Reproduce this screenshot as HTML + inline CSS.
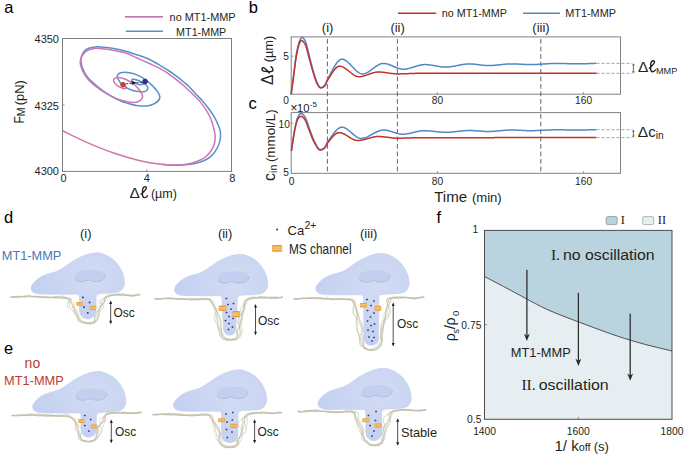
<!DOCTYPE html>
<html><head><meta charset="utf-8"><style>
html,body{margin:0;padding:0;background:#fff;}
svg{display:block;}
</style></head><body>
<svg width="685" height="454" viewBox="0 0 685 454">
<rect width="685" height="454" fill="#fff"/>
<text x="4.3" y="13.2" font-size="16.5" text-anchor="start" fill="#000" font-family='"Liberation Sans", sans-serif' >a</text>
<text x="248.8" y="13.2" font-size="16.5" text-anchor="start" fill="#000" font-family='"Liberation Sans", sans-serif' >b</text>
<text x="248.4" y="109.4" font-size="16.5" text-anchor="start" fill="#000" font-family='"Liberation Sans", sans-serif' >c</text>
<text x="4" y="223.3" font-size="16.5" text-anchor="start" fill="#000" font-family='"Liberation Sans", sans-serif' >d</text>
<text x="4" y="354.2" font-size="16.5" text-anchor="start" fill="#000" font-family='"Liberation Sans", sans-serif' >e</text>
<text x="436.4" y="223.3" font-size="16.5" text-anchor="start" fill="#000" font-family='"Liberation Sans", sans-serif' >f</text>
<rect x="62.5" y="38.5" width="169.0" height="132.9" fill="none" stroke="#808080" stroke-width="1"/>
<line x1="62.5" y1="104.95" x2="64.5" y2="104.95" stroke="#808080" stroke-width="0.8"/>
<line x1="146.9" y1="171.4" x2="146.9" y2="169.4" stroke="#808080" stroke-width="0.8"/>
<text x="59" y="42.9" font-size="11" text-anchor="end" fill="#231f20" font-family='"Liberation Sans", sans-serif' >4350</text>
<text x="59" y="109.6" font-size="11" text-anchor="end" fill="#231f20" font-family='"Liberation Sans", sans-serif' >4325</text>
<text x="59" y="174.7" font-size="11" text-anchor="end" fill="#231f20" font-family='"Liberation Sans", sans-serif' >4300</text>
<text x="63.6" y="182.2" font-size="11" text-anchor="middle" fill="#231f20" font-family='"Liberation Sans", sans-serif' >0</text>
<text x="146.9" y="182.2" font-size="11" text-anchor="middle" fill="#231f20" font-family='"Liberation Sans", sans-serif' >4</text>
<text x="232.2" y="182.2" font-size="11" text-anchor="middle" fill="#231f20" font-family='"Liberation Sans", sans-serif' >8</text>
<text x="129.6" y="197.6" font-size="15.5" text-anchor="start" fill="#231f20" font-family='"Liberation Sans", sans-serif' >Δ</text>
<path d="M141.09,194.06 C143.35,192.10 146.40,189.35 146.40,187.88 C146.40,186.99 145.81,186.60 145.12,186.60 C143.75,186.60 142.47,188.56 142.47,191.90 L142.47,194.85 C142.47,196.72 143.26,197.60 144.43,197.60 C145.51,197.60 146.59,196.91 147.48,195.83" fill="none" stroke="#231f20" stroke-width="1.35" stroke-linecap="round"/>
<text x="150.9" y="197.8" font-size="12.6" text-anchor="start" fill="#231f20" font-family='"Liberation Sans", sans-serif' >(µm)</text>
<text transform="translate(24.4,123.6) rotate(-90)" font-family='"Liberation Sans", sans-serif' fill="#231f20"><tspan font-size="15" textLength="7.3" lengthAdjust="spacingAndGlyphs">F</tspan><tspan font-size="10.5" dy="0.2" dx="0">M</tspan><tspan font-size="12.9" dy="-0.2" dx="2.3">(pN)</tspan></text>
<line x1="124.9" y1="16.9" x2="162.9" y2="16.9" stroke="#cc78b0" stroke-width="1.6"/>
<line x1="125.8" y1="31.2" x2="162.9" y2="31.2" stroke="#5b8fcc" stroke-width="1.6"/>
<text x="169.6" y="20.8" font-size="11" text-anchor="start" fill="#231f20" font-family='"Liberation Sans", sans-serif' textLength="66" lengthAdjust="spacingAndGlyphs">no MT1-MMP</text>
<text x="176.1" y="35.6" font-size="11" text-anchor="start" fill="#231f20" font-family='"Liberation Sans", sans-serif' textLength="50.2" lengthAdjust="spacingAndGlyphs">MT1-MMP</text>
<path d="M161.3,164.3 C166.85,165.05 168.85,165.25 173.3,165.3 C177.75,165.35 183.58,165.12 188,164.6 C192.42,164.08 196.47,163.22 199.8,162.2 C203.13,161.18 205.63,160.03 208,158.5 C210.37,156.97 212.3,155.08 214,153 C215.7,150.92 217.13,148.5 218.2,146 C219.27,143.5 220.07,140.5 220.4,138 C220.73,135.5 220.6,133.23 220.2,131 C219.8,128.77 219.02,126.98 218,124.6 C216.98,122.22 215.63,119.33 214.1,116.7 C212.57,114.07 210.72,111.43 208.8,108.8 C206.88,106.17 204.8,103.4 202.6,100.9 C200.4,98.4 197.77,96.08 195.6,93.8 C193.43,91.52 191.33,88.97 189.6,87.2 C187.87,85.43 187.4,85.05 185.2,83.2 C183,81.35 179.33,78.3 176.4,76.1 C173.47,73.9 170.53,71.9 167.6,70 C164.67,68.1 161.73,66.42 158.8,64.7 C155.87,62.98 153.55,61.32 150,59.7 C146.45,58.08 141.67,56.45 137.5,55 C133.33,53.55 129.17,52.12 125,51 C120.83,49.88 116.67,48.98 112.5,48.3 C108.33,47.62 102.95,47.12 100,46.9 C97.05,46.68 97.13,46.57 94.8,47 C92.47,47.43 88.3,47.63 86,49.5 C83.7,51.37 81.58,55.12 81,58.2 C80.42,61.28 81.3,64.68 82.5,68 C83.7,71.32 85.48,74.83 88.2,78.1 C90.92,81.37 95.17,84.7 98.8,87.6 C102.43,90.5 106.22,93.22 110,95.5 C113.78,97.78 118.57,100 121.5,101.3 C124.43,102.6 125.12,102.6 127.6,103.3 C130.08,104 133.17,105.07 136.4,105.5 C139.63,105.93 143.9,106.27 147,105.9 C150.1,105.53 152.87,104.62 155,103.3 C157.13,101.98 159.37,99.92 159.8,98 C160.23,96.08 158.85,93.87 157.6,91.8 C156.35,89.73 154.35,87.65 152.3,85.6 C150.25,83.55 147.95,81.33 145.3,79.5 C142.65,77.67 139.35,75.78 136.4,74.6 C133.45,73.42 130.23,72.7 127.6,72.4 C124.97,72.1 122.28,72.35 120.6,72.8 C118.92,73.25 118.02,74.28 117.5,75.1 C116.98,75.92 116.98,76.38 117.5,77.7 C118.02,79.02 119.2,81.38 120.6,83 C122,84.62 123.85,86.15 125.9,87.4 C127.95,88.65 130.55,89.77 132.9,90.5 C135.25,91.23 137.93,91.65 140,91.8 C142.07,91.95 143.98,91.92 145.3,91.4 C146.62,90.88 147.68,89.67 147.9,88.7 C148.12,87.73 147.48,86.58 146.6,85.6 C145.72,84.62 144.2,83.73 142.6,82.8 C141,81.87 138.6,80.58 137,80 C135.4,79.42 133.9,79.2 133,79.3 C132.1,79.4 131.32,80.02 131.6,80.6 C131.88,81.18 133.47,82.15 134.7,82.8 C135.93,83.45 137.62,84.27 139,84.5 C140.38,84.73 141.98,84.7 143,84.2 C144.02,83.7 144.75,81.95 145.1,81.5" fill="none" stroke="#5b8fcc" stroke-width="1.5"/>
<path d="M62.5,130.8 C66.55,132.73 78.62,138.82 86.8,142.4 C94.98,145.98 102.73,149.23 111.6,152.3 C120.47,155.37 131.72,158.8 140,160.8 C148.28,162.8 155.75,163.58 161.3,164.3 C166.85,165.02 168.85,165.15 173.3,165.1 C177.75,165.05 183.58,164.82 188,164 C192.42,163.18 196.8,161.45 199.8,160.2 C202.8,158.95 204.13,158.03 206,156.5 C207.87,154.97 209.62,153.08 211,151 C212.38,148.92 213.6,146.42 214.3,144 C215,141.58 215.22,138.83 215.2,136.5 C215.18,134.17 214.6,131.98 214.2,130 C213.8,128.02 213.4,126.52 212.8,124.6 C212.2,122.68 211.57,120.7 210.6,118.5 C209.63,116.3 208.62,114.05 207,111.4 C205.38,108.75 203.1,105.3 200.9,102.6 C198.7,99.9 195.68,97.1 193.8,95.2 C191.92,93.3 191.03,92.57 189.6,91.2 C188.17,89.83 187.4,88.92 185.2,87 C183,85.08 179.33,82.02 176.4,79.7 C173.47,77.38 170.53,75.08 167.6,73.1 C164.67,71.12 161.73,69.37 158.8,67.8 C155.87,66.23 153.55,65.3 150,63.7 C146.45,62.1 141.67,60.02 137.5,58.2 C133.33,56.38 129.17,54.13 125,52.8 C120.83,51.47 116.67,50.9 112.5,50.2 C108.33,49.5 102.95,48.92 100,48.6 C97.05,48.28 97.2,47.8 94.8,48.3 C92.4,48.8 88.02,49.5 85.6,51.6 C83.18,53.7 80.85,57.82 80.3,60.9 C79.75,63.98 80.98,67.02 82.3,70.1 C83.62,73.18 85.45,76.3 88.2,79.4 C90.95,82.5 95.05,85.95 98.8,88.7 C102.55,91.45 106.83,93.93 110.7,95.9 C114.57,97.87 118,99.42 122,100.5 C126,101.58 131.7,102.38 134.7,102.4 C137.7,102.42 138.68,101.48 140,100.6 C141.32,99.72 142.38,98.42 142.6,97.1 C142.82,95.78 142.18,94.32 141.3,92.7 C140.42,91.08 138.85,89.02 137.3,87.4 C135.75,85.78 133.9,84.32 132,83 C130.1,81.68 127.95,80.42 125.9,79.5 C123.85,78.58 121.47,77.73 119.7,77.5 C117.93,77.27 116.33,77.63 115.3,78.1 C114.27,78.57 113.35,79.2 113.5,80.3 C113.65,81.4 114.87,83.45 116.2,84.7 C117.53,85.95 119.95,87.15 121.5,87.8 C123.05,88.45 124.72,88.73 125.5,88.6 C126.28,88.47 126.62,87.67 126.2,87 C125.78,86.33 123.53,85 123,84.6" fill="none" stroke="#cc78b0" stroke-width="1.5"/>
<line x1="125.9" y1="83.9" x2="142.6" y2="82.1" stroke="#111" stroke-width="0.8" stroke-dasharray="2.2,1.3"/>
<path d="M131.2,81.1 L136.2,82.8 L131.4,84.9 L132.4,82.9 Z" fill="#111"/>
<circle cx="123" cy="84.6" r="2.7" fill="#c83a34"/>
<circle cx="145.1" cy="81.5" r="2.7" fill="#2e2f7f"/>
<rect x="291.2" y="36.9" width="329.3" height="57.300000000000004" fill="none" stroke="#808080" stroke-width="1"/>
<rect x="291.2" y="112.6" width="329.3" height="60.70000000000002" fill="none" stroke="#808080" stroke-width="1"/>
<line x1="437.4" y1="94.2" x2="437.4" y2="92.0" stroke="#808080" stroke-width="0.8"/>
<line x1="437.4" y1="173.3" x2="437.4" y2="171.10000000000002" stroke="#808080" stroke-width="0.8"/>
<line x1="583.6" y1="94.2" x2="583.6" y2="92.0" stroke="#808080" stroke-width="0.8"/>
<line x1="583.6" y1="173.3" x2="583.6" y2="171.10000000000002" stroke="#808080" stroke-width="0.8"/>
<line x1="291.2" y1="56.2" x2="293.4" y2="56.2" stroke="#808080" stroke-width="0.8"/>
<line x1="291.2" y1="123.3" x2="293.4" y2="123.3" stroke="#808080" stroke-width="0.8"/>
<text x="286" y="103.5" font-size="10.2" text-anchor="middle" fill="#231f20" font-family='"Liberation Sans", sans-serif' >0</text>
<text x="289" y="59.8" font-size="10.2" text-anchor="end" fill="#231f20" font-family='"Liberation Sans", sans-serif' >5</text>
<text x="437.4" y="103.7" font-size="10.2" text-anchor="middle" fill="#231f20" font-family='"Liberation Sans", sans-serif' >80</text>
<text x="583.6" y="103.7" font-size="10.2" text-anchor="middle" fill="#231f20" font-family='"Liberation Sans", sans-serif' >160</text>
<text x="289.9" y="127.7" font-size="10.2" text-anchor="end" fill="#231f20" font-family='"Liberation Sans", sans-serif' >10</text>
<text x="289" y="176.4" font-size="10.2" text-anchor="end" fill="#231f20" font-family='"Liberation Sans", sans-serif' >5</text>
<text x="291.5" y="185.2" font-size="10.2" text-anchor="middle" fill="#231f20" font-family='"Liberation Sans", sans-serif' >0</text>
<text x="437.4" y="185.2" font-size="10.2" text-anchor="middle" fill="#231f20" font-family='"Liberation Sans", sans-serif' >80</text>
<text x="583.6" y="185.2" font-size="10.2" text-anchor="middle" fill="#231f20" font-family='"Liberation Sans", sans-serif' >160</text>
<text x="290.2" y="111.7" font-family='"Liberation Sans", sans-serif' fill="#231f20"><tspan font-size="12.6">×</tspan><tspan font-size="11.2" dx="-0.6">10</tspan><tspan font-size="8" dy="-5" dx="0.4">-5</tspan></text>
<text x="434.2" y="201.8" font-size="15.1" text-anchor="start" fill="#231f20" font-family='"Liberation Sans", sans-serif' >Time</text>
<text x="471.9" y="202.4" font-size="13.1" text-anchor="start" fill="#231f20" font-family='"Liberation Sans", sans-serif' >(min)</text>
<g transform="translate(272.9,84.6) rotate(-90)"><text x="-0.3" y="0" font-size="15.8" text-anchor="start" fill="#231f20" font-family='"Liberation Sans", sans-serif' >Δ</text><path d="M11.59,-3.54 C13.85,-5.50 16.90,-8.25 16.90,-9.72 C16.90,-10.61 16.31,-11.00 15.62,-11.00 C14.25,-11.00 12.97,-9.04 12.97,-5.70 L12.97,-2.75 C12.97,-0.88 13.76,0.00 14.93,0.00 C16.01,0.00 17.09,-0.69 17.98,-1.77" fill="none" stroke="#231f20" stroke-width="1.35" stroke-linecap="round"/><text x="22.3" y="0.3" font-size="12.8" text-anchor="start" fill="#231f20" font-family='"Liberation Sans", sans-serif' >(µm)</text></g>
<text transform="translate(274.5,180.9) rotate(-90)" font-family='"Liberation Sans", sans-serif' fill="#231f20"><tspan font-size="16">c</tspan><tspan font-size="10.5" dy="2.1">in</tspan><tspan font-size="13.4" dy="-2.1" dx="2.6">(mmol/L)</tspan></text>
<line x1="327.4" y1="36.9" x2="327.4" y2="173.3" stroke="#555" stroke-width="0.9" stroke-dasharray="4.8,2.7" stroke-dashoffset="5.4"/>
<text x="327.6" y="32.4" font-size="13" text-anchor="middle" fill="#231f20" font-family='"Liberation Sans", sans-serif' >(i)</text>
<line x1="397.4" y1="36.9" x2="397.4" y2="173.3" stroke="#555" stroke-width="0.9" stroke-dasharray="4.8,2.7" stroke-dashoffset="5.4"/>
<text x="397.6" y="32.4" font-size="13" text-anchor="middle" fill="#231f20" font-family='"Liberation Sans", sans-serif' >(ii)</text>
<line x1="540.8" y1="36.9" x2="540.8" y2="173.3" stroke="#555" stroke-width="0.9" stroke-dasharray="4.8,2.7" stroke-dashoffset="5.4"/>
<text x="541" y="32.4" font-size="13" text-anchor="middle" fill="#231f20" font-family='"Liberation Sans", sans-serif' >(iii)</text>
<line x1="397.9" y1="13.3" x2="436.2" y2="13.3" stroke="#c4322d" stroke-width="1.5"/>
<text x="441.7" y="17.2" font-size="11" text-anchor="start" fill="#231f20" font-family='"Liberation Sans", sans-serif' textLength="65.3" lengthAdjust="spacingAndGlyphs">no MT1-MMP</text>
<line x1="523.1" y1="13.3" x2="559.9" y2="13.3" stroke="#4f87c7" stroke-width="1.5"/>
<text x="565.2" y="17.2" font-size="11" text-anchor="start" fill="#231f20" font-family='"Liberation Sans", sans-serif' textLength="50.8" lengthAdjust="spacingAndGlyphs">MT1-MMP</text>
<path d="M291.1,94.3 L291.71,89.72 L292.32,85.12 L292.93,80.52 L293.55,75.91 L294.16,71.1 L294.77,66.05 L295.38,61.11 L295.99,56.63 L296.6,52.94 L297.21,49.69 L297.83,46.7 L298.44,44.13 L299.05,42.12 L299.66,40.7 L300.27,39.41 L300.88,38.33 L301.49,37.58 L302.11,37.3 L302.72,37.5 L303.33,38.05 L303.94,38.83 L304.55,39.77 L305.16,40.79 L305.77,42.25 L306.39,44.2 L307,46.49 L307.61,48.98 L308.22,51.53 L308.83,53.98 L309.44,56.28 L310.05,58.66 L310.67,61.11 L311.28,63.58 L311.89,66 L312.5,68.34 L313.11,70.53 L313.72,72.56 L314.33,74.56 L314.95,76.52 L315.56,78.39 L316.17,80.14 L316.78,81.72 L317.39,83.09 L318,84.29 L318.61,85.51 L319.23,86.58 L319.84,87.34 L320.45,87.6 L321.06,87.53 L321.67,87.37 L322.28,87.11 L322.89,86.77 L323.51,86.36 L324.12,85.9 L324.73,85.37 L325.34,84.38 L325.95,82.95 L326.56,81.37 L327.17,79.94 L327.79,78.81 L328.4,77.69 L329.01,76.55 L329.62,75.39 L330.23,74.22 L330.84,73.05 L331.45,71.89 L332.07,70.73 L332.68,69.6 L333.29,68.48 L333.9,67.4 L334.51,66.36 L335.12,65.36 L335.73,64.41 L336.35,63.52 L336.96,62.69 L337.57,61.94 L338.18,61.26 L338.79,60.67 L339.4,60.17 L340.01,59.76 L340.63,59.46 L341.24,59.27 L341.85,59.2 L342.46,59.23 L343.07,59.34 L343.68,59.51 L344.29,59.75 L344.91,60.06 L345.52,60.41 L346.13,60.82 L346.74,61.27 L347.35,61.77 L347.96,62.3 L348.57,62.86 L349.19,63.45 L349.8,64.06 L350.41,64.69 L351.02,65.34 L351.63,65.99 L352.24,66.65 L352.85,67.31 L353.47,67.96 L354.08,68.6 L354.69,69.22 L355.3,69.83 L355.91,70.41 L356.52,70.97 L357.13,71.49 L357.75,71.97 L358.36,72.41 L358.97,72.8 L359.58,73.14 L360.19,73.42 L360.8,73.65 L361.41,73.8 L362.03,73.89 L362.64,73.9 L363.25,73.85 L363.86,73.75 L364.47,73.61 L365.08,73.43 L365.69,73.21 L366.31,72.95 L366.92,72.65 L367.53,72.33 L368.14,71.98 L368.75,71.6 L369.36,71.2 L369.97,70.79 L370.58,70.36 L371.2,69.92 L371.81,69.47 L372.42,69.01 L373.03,68.55 L373.64,68.09 L374.25,67.64 L374.86,67.19 L375.48,66.76 L376.09,66.33 L376.7,65.92 L377.31,65.54 L377.92,65.17 L378.53,64.83 L379.14,64.52 L379.76,64.24 L380.37,63.99 L380.98,63.79 L381.59,63.62 L382.2,63.5 L382.81,63.42 L383.42,63.4 L384.04,63.42 L384.65,63.47 L385.26,63.54 L385.87,63.65 L386.48,63.77 L387.09,63.93 L387.7,64.1 L388.32,64.29 L388.93,64.49 L389.54,64.72 L390.15,64.95 L390.76,65.19 L391.37,65.45 L391.98,65.71 L392.6,65.97 L393.21,66.24 L393.82,66.5 L394.43,66.77 L395.04,67.03 L395.65,67.29 L396.26,67.54 L396.88,67.78 L397.49,68 L398.1,68.22 L398.71,68.42 L399.32,68.6 L399.93,68.76 L400.54,68.9 L401.16,69.01 L401.77,69.1 L402.38,69.16 L402.99,69.2 L403.6,69.2 L404.21,69.18 L404.82,69.14 L405.44,69.08 L406.05,69 L406.66,68.9 L407.27,68.79 L407.88,68.67 L408.49,68.54 L409.1,68.39 L409.72,68.23 L410.33,68.07 L410.94,67.89 L411.55,67.71 L412.16,67.53 L412.77,67.34 L413.38,67.14 L414,66.95 L414.61,66.75 L415.22,66.56 L415.83,66.37 L416.44,66.18 L417.05,66 L417.66,65.82 L418.28,65.65 L418.89,65.49 L419.5,65.34 L420.11,65.2 L420.72,65.07 L421.33,64.95 L421.94,64.85 L422.56,64.76 L423.17,64.69 L423.78,64.64 L424.39,64.61 L425,64.6 L425.61,64.61 L426.22,64.62 L426.84,64.65 L427.45,64.7 L428.06,64.75 L428.67,64.81 L429.28,64.87 L429.89,64.95 L430.5,65.03 L431.12,65.12 L431.73,65.22 L432.34,65.31 L432.95,65.42 L433.56,65.52 L434.17,65.63 L434.78,65.74 L435.4,65.85 L436.01,65.96 L436.62,66.07 L437.23,66.18 L437.84,66.28 L438.45,66.38 L439.06,66.48 L439.68,66.58 L440.29,66.67 L440.9,66.75 L441.51,66.82 L442.12,66.89 L442.73,66.95 L443.34,67 L443.96,67.04 L444.57,67.07 L445.18,67.09 L445.79,67.1 L446.4,67.09 L447.01,67.08 L447.62,67.04 L448.24,67 L448.85,66.95 L449.46,66.89 L450.07,66.82 L450.68,66.74 L451.29,66.65 L451.9,66.56 L452.52,66.46 L453.13,66.36 L453.74,66.25 L454.35,66.13 L454.96,66.01 L455.57,65.89 L456.18,65.77 L456.8,65.64 L457.41,65.52 L458.02,65.39 L458.63,65.27 L459.24,65.15 L459.85,65.02 L460.46,64.9 L461.08,64.79 L461.69,64.68 L462.3,64.57 L462.91,64.47 L463.52,64.37 L464.13,64.29 L464.74,64.2 L465.36,64.13 L465.97,64.07 L466.58,64.01 L467.19,63.97 L467.8,63.93 L468.41,63.91 L469.02,63.9 L469.64,63.9 L470.25,63.91 L470.86,63.94 L471.47,63.97 L472.08,64.01 L472.69,64.05 L473.3,64.1 L473.92,64.16 L474.53,64.23 L475.14,64.29 L475.75,64.37 L476.36,64.44 L476.97,64.52 L477.58,64.6 L478.2,64.68 L478.81,64.76 L479.42,64.85 L480.03,64.93 L480.64,65.01 L481.25,65.08 L481.86,65.16 L482.48,65.23 L483.09,65.3 L483.7,65.36 L484.31,65.42 L484.92,65.47 L485.53,65.51 L486.14,65.54 L486.76,65.57 L487.37,65.59 L487.98,65.6 L488.59,65.6 L489.2,65.59 L489.81,65.58 L490.42,65.56 L491.04,65.53 L491.65,65.5 L492.26,65.46 L492.87,65.42 L493.48,65.38 L494.09,65.33 L494.7,65.28 L495.32,65.22 L495.93,65.16 L496.54,65.1 L497.15,65.04 L497.76,64.98 L498.37,64.91 L498.98,64.84 L499.6,64.78 L500.21,64.71 L500.82,64.64 L501.43,64.58 L502.04,64.51 L502.65,64.45 L503.26,64.39 L503.88,64.33 L504.49,64.27 L505.1,64.21 L505.71,64.16 L506.32,64.11 L506.93,64.07 L507.54,64.03 L508.16,64 L508.77,63.96 L509.38,63.94 L509.99,63.92 L510.6,63.91 L511.21,63.9 L511.82,63.9 L512.44,63.9 L513.05,63.91 L513.66,63.93 L514.27,63.94 L514.88,63.96 L515.49,63.98 L516.1,64 L516.72,64.03 L517.33,64.06 L517.94,64.09 L518.55,64.12 L519.16,64.15 L519.77,64.18 L520.38,64.22 L520.99,64.25 L521.61,64.28 L522.22,64.32 L522.83,64.35 L523.44,64.38 L524.05,64.41 L524.66,64.44 L525.27,64.47 L525.89,64.5 L526.5,64.52 L527.11,64.54 L527.72,64.56 L528.33,64.57 L528.94,64.59 L529.55,64.59 L530.17,64.6 L530.78,64.6 L531.39,64.6 L532,64.59 L532.61,64.58 L533.22,64.56 L533.83,64.55 L534.45,64.53 L535.06,64.5 L535.67,64.48 L536.28,64.45 L536.89,64.42 L537.5,64.39 L538.11,64.36 L538.73,64.32 L539.34,64.28 L539.95,64.25 L540.56,64.21 L541.17,64.17 L541.78,64.13 L542.39,64.09 L543.01,64.04 L543.62,64 L544.23,63.96 L544.84,63.92 L545.45,63.88 L546.06,63.84 L546.67,63.8 L547.29,63.76 L547.9,63.72 L548.51,63.68 L549.12,63.65 L549.73,63.61 L550.34,63.58 L550.95,63.55 L551.57,63.52 L552.18,63.5 L552.79,63.48 L553.4,63.45 L554.01,63.44 L554.62,63.42 L555.23,63.41 L555.85,63.4 L556.46,63.4 L557.07,63.4 L557.68,63.4 L558.29,63.41 L558.9,63.41 L559.51,63.42 L560.13,63.43 L560.74,63.44 L561.35,63.46 L561.96,63.47 L562.57,63.49 L563.18,63.5 L563.79,63.52 L564.41,63.54 L565.02,63.56 L565.63,63.58 L566.24,63.6 L566.85,63.61 L567.46,63.63 L568.07,63.65 L568.69,63.67 L569.3,63.69 L569.91,63.7 L570.52,63.72 L571.13,63.74 L571.74,63.75 L572.35,63.76 L572.97,63.77 L573.58,63.78 L574.19,63.79 L574.8,63.8 L575.41,63.8 L576.02,63.8 L576.63,63.8 L577.25,63.8 L577.86,63.8 L578.47,63.79 L579.08,63.79 L579.69,63.78 L580.3,63.78 L580.91,63.77 L581.53,63.76 L582.14,63.75 L582.75,63.74 L583.36,63.73 L583.97,63.72 L584.58,63.71 L585.19,63.69 L585.81,63.68 L586.42,63.66 L587.03,63.65 L587.64,63.63 L588.25,63.61 L588.86,63.59 L589.47,63.57 L590.09,63.55 L590.7,63.53 L591.31,63.51 L591.92,63.49 L592.53,63.46 L593.14,63.44 L593.75,63.41 L594.37,63.38 L594.98,63.36 L595.59,63.33 L596.2,63.3" fill="none" stroke="#4f87c7" stroke-width="1.5" stroke-linejoin="round"/>
<path d="M291.1,94.3 L291.71,89.91 L292.33,85.51 L292.94,81.09 L293.55,76.66 L294.16,72.01 L294.78,67.12 L295.39,62.33 L296,58.02 L296.61,54.52 L297.23,51.5 L297.84,48.76 L298.45,46.39 L299.06,44.49 L299.68,43.02 L300.29,41.66 L300.9,40.69 L301.51,40.41 L302.13,40.61 L302.74,41.07 L303.35,41.72 L303.97,42.52 L304.58,43.41 L305.19,44.41 L305.8,45.89 L306.42,47.81 L307.03,50.03 L307.64,52.43 L308.25,54.85 L308.87,57.17 L309.48,59.34 L310.09,61.57 L310.7,63.86 L311.32,66.16 L311.93,68.42 L312.54,70.59 L313.15,72.63 L313.77,74.54 L314.38,76.47 L314.99,78.38 L315.61,80.2 L316.22,81.86 L316.83,83.3 L317.44,84.46 L318.06,85.37 L318.67,86.25 L319.28,87.03 L319.89,87.62 L320.51,87.96 L321.12,87.98 L321.73,87.86 L322.34,87.62 L322.96,87.3 L323.57,86.9 L324.18,86.44 L324.79,85.9 L325.41,84.9 L326.02,83.51 L326.63,82.04 L327.24,80.76 L327.86,79.78 L328.47,78.79 L329.08,77.79 L329.7,76.79 L330.31,75.78 L330.92,74.79 L331.53,73.82 L332.15,72.87 L332.76,71.96 L333.37,71.09 L333.98,70.26 L334.6,69.49 L335.21,68.78 L335.82,68.14 L336.43,67.58 L337.05,67.1 L337.66,66.72 L338.27,66.44 L338.88,66.26 L339.5,66.2 L340.11,66.23 L340.72,66.32 L341.34,66.46 L341.95,66.66 L342.56,66.9 L343.17,67.19 L343.79,67.51 L344.4,67.87 L345.01,68.26 L345.62,68.68 L346.24,69.12 L346.85,69.58 L347.46,70.05 L348.07,70.54 L348.69,71.03 L349.3,71.53 L349.91,72.03 L350.52,72.52 L351.14,73 L351.75,73.47 L352.36,73.93 L352.98,74.36 L353.59,74.77 L354.2,75.15 L354.81,75.5 L355.43,75.81 L356.04,76.08 L356.65,76.31 L357.26,76.49 L357.88,76.62 L358.49,76.69 L359.1,76.7 L359.71,76.68 L360.33,76.63 L360.94,76.56 L361.55,76.46 L362.16,76.35 L362.78,76.21 L363.39,76.06 L364,75.9 L364.62,75.72 L365.23,75.53 L365.84,75.33 L366.45,75.12 L367.07,74.9 L367.68,74.68 L368.29,74.46 L368.9,74.24 L369.52,74.02 L370.13,73.8 L370.74,73.58 L371.35,73.38 L371.97,73.18 L372.58,72.99 L373.19,72.81 L373.8,72.64 L374.42,72.49 L375.03,72.36 L375.64,72.24 L376.25,72.15 L376.87,72.07 L377.48,72.02 L378.09,72 L378.71,72 L379.32,72.02 L379.93,72.04 L380.54,72.07 L381.16,72.11 L381.77,72.16 L382.38,72.22 L382.99,72.29 L383.61,72.36 L384.22,72.43 L384.83,72.51 L385.44,72.59 L386.06,72.68 L386.67,72.77 L387.28,72.86 L387.89,72.95 L388.51,73.04 L389.12,73.13 L389.73,73.22 L390.35,73.31 L390.96,73.39 L391.57,73.47 L392.18,73.54 L392.8,73.61 L393.41,73.68 L394.02,73.74 L394.63,73.79 L395.25,73.83 L395.86,73.86 L396.47,73.88 L397.08,73.9 L397.7,73.9 L398.31,73.9 L398.92,73.89 L399.53,73.89 L400.15,73.88 L400.76,73.87 L401.37,73.85 L401.99,73.84 L402.6,73.82 L403.21,73.8 L403.82,73.78 L404.44,73.76 L405.05,73.74 L405.66,73.72 L406.27,73.7 L406.89,73.67 L407.5,73.65 L408.11,73.63 L408.72,73.6 L409.34,73.58 L409.95,73.55 L410.56,73.53 L411.17,73.5 L411.79,73.48 L412.4,73.46 L413.01,73.44 L413.63,73.42 L414.24,73.4 L414.85,73.38 L415.46,73.36 L416.08,73.35 L416.69,73.34 L417.3,73.32 L417.91,73.31 L418.53,73.31 L419.14,73.3 L419.75,73.3 L420.36,73.3 L420.98,73.3 L421.59,73.3 L422.2,73.3 L422.81,73.3 L423.43,73.3 L424.04,73.3 L424.65,73.3 L425.26,73.3 L425.88,73.3 L426.49,73.3 L427.1,73.3 L427.72,73.3 L428.33,73.3 L428.94,73.3 L429.55,73.3 L430.17,73.3 L430.78,73.3 L431.39,73.3 L432,73.3 L432.62,73.3 L433.23,73.3 L433.84,73.3 L434.45,73.3 L435.07,73.3 L435.68,73.3 L436.29,73.3 L436.9,73.3 L437.52,73.3 L438.13,73.3 L438.74,73.3 L439.36,73.3 L439.97,73.3 L440.58,73.3 L441.19,73.3 L441.81,73.3 L442.42,73.3 L443.03,73.3 L443.64,73.3 L444.26,73.3 L444.87,73.3 L445.48,73.3 L446.09,73.3 L446.71,73.3 L447.32,73.3 L447.93,73.3 L448.54,73.3 L449.16,73.3 L449.77,73.3 L450.38,73.3 L451,73.3 L451.61,73.3 L452.22,73.3 L452.83,73.3 L453.45,73.3 L454.06,73.3 L454.67,73.3 L455.28,73.3 L455.9,73.3 L456.51,73.3 L457.12,73.3 L457.73,73.3 L458.35,73.3 L458.96,73.3 L459.57,73.3 L460.18,73.3 L460.8,73.3 L461.41,73.3 L462.02,73.3 L462.64,73.3 L463.25,73.3 L463.86,73.3 L464.47,73.3 L465.09,73.3 L465.7,73.3 L466.31,73.3 L466.92,73.3 L467.54,73.3 L468.15,73.3 L468.76,73.3 L469.37,73.3 L469.99,73.3 L470.6,73.3 L471.21,73.3 L471.82,73.3 L472.44,73.3 L473.05,73.3 L473.66,73.3 L474.27,73.3 L474.89,73.3 L475.5,73.3 L476.11,73.3 L476.73,73.3 L477.34,73.3 L477.95,73.3 L478.56,73.3 L479.18,73.3 L479.79,73.3 L480.4,73.3 L481.01,73.3 L481.63,73.3 L482.24,73.3 L482.85,73.3 L483.46,73.3 L484.08,73.3 L484.69,73.3 L485.3,73.3 L485.91,73.3 L486.53,73.3 L487.14,73.3 L487.75,73.3 L488.37,73.3 L488.98,73.3 L489.59,73.3 L490.2,73.3 L490.82,73.3 L491.43,73.3 L492.04,73.3 L492.65,73.3 L493.27,73.3 L493.88,73.3 L494.49,73.3 L495.1,73.3 L495.72,73.3 L496.33,73.3 L496.94,73.3 L497.55,73.3 L498.17,73.3 L498.78,73.3 L499.39,73.3 L500.01,73.3 L500.62,73.3 L501.23,73.3 L501.84,73.3 L502.46,73.3 L503.07,73.3 L503.68,73.3 L504.29,73.3 L504.91,73.3 L505.52,73.3 L506.13,73.3 L506.74,73.3 L507.36,73.3 L507.97,73.3 L508.58,73.3 L509.19,73.3 L509.81,73.3 L510.42,73.3 L511.03,73.3 L511.65,73.3 L512.26,73.3 L512.87,73.3 L513.48,73.3 L514.1,73.3 L514.71,73.3 L515.32,73.3 L515.93,73.3 L516.55,73.3 L517.16,73.3 L517.77,73.3 L518.38,73.3 L519,73.3 L519.61,73.3 L520.22,73.3 L520.83,73.3 L521.45,73.3 L522.06,73.3 L522.67,73.3 L523.28,73.3 L523.9,73.3 L524.51,73.3 L525.12,73.3 L525.74,73.3 L526.35,73.3 L526.96,73.3 L527.57,73.3 L528.19,73.3 L528.8,73.3 L529.41,73.3 L530.02,73.3 L530.64,73.3 L531.25,73.3 L531.86,73.3 L532.47,73.3 L533.09,73.3 L533.7,73.3 L534.31,73.3 L534.92,73.3 L535.54,73.3 L536.15,73.3 L536.76,73.3 L537.38,73.3 L537.99,73.3 L538.6,73.3 L539.21,73.3 L539.83,73.3 L540.44,73.3 L541.05,73.3 L541.66,73.3 L542.28,73.3 L542.89,73.3 L543.5,73.3 L544.11,73.3 L544.73,73.3 L545.34,73.3 L545.95,73.3 L546.56,73.3 L547.18,73.3 L547.79,73.3 L548.4,73.3 L549.02,73.3 L549.63,73.3 L550.24,73.3 L550.85,73.3 L551.47,73.3 L552.08,73.3 L552.69,73.3 L553.3,73.3 L553.92,73.3 L554.53,73.3 L555.14,73.3 L555.75,73.3 L556.37,73.3 L556.98,73.3 L557.59,73.3 L558.2,73.3 L558.82,73.3 L559.43,73.3 L560.04,73.3 L560.66,73.3 L561.27,73.3 L561.88,73.3 L562.49,73.3 L563.11,73.3 L563.72,73.3 L564.33,73.3 L564.94,73.3 L565.56,73.3 L566.17,73.3 L566.78,73.3 L567.39,73.3 L568.01,73.3 L568.62,73.3 L569.23,73.3 L569.84,73.3 L570.46,73.3 L571.07,73.3 L571.68,73.3 L572.29,73.3 L572.91,73.3 L573.52,73.3 L574.13,73.3 L574.75,73.3 L575.36,73.3 L575.97,73.3 L576.58,73.3 L577.2,73.3 L577.81,73.3 L578.42,73.3 L579.03,73.3 L579.65,73.3 L580.26,73.3 L580.87,73.3 L581.48,73.3 L582.1,73.3 L582.71,73.3 L583.32,73.3 L583.93,73.3 L584.55,73.3 L585.16,73.3 L585.77,73.3 L586.39,73.3 L587,73.3 L587.61,73.3 L588.22,73.3 L588.84,73.3 L589.45,73.3 L590.06,73.3 L590.67,73.3 L591.29,73.3 L591.9,73.3 L592.51,73.3 L593.12,73.3 L593.74,73.3 L594.35,73.3 L594.96,73.3 L595.57,73.3 L596.19,73.3 L596.8,73.3" fill="none" stroke="#c4322d" stroke-width="1.5" stroke-linejoin="round"/>
<path d="M291.4,150.9 L292.01,146.58 L292.62,142.42 L293.23,138.43 L293.84,134.47 L294.46,130.57 L295.07,127.09 L295.68,124.31 L296.29,121.8 L296.9,119.57 L297.51,117.74 L298.12,116.47 L298.73,115.52 L299.34,114.66 L299.95,113.96 L300.57,113.48 L301.18,113.3 L301.79,113.43 L302.4,113.8 L303.01,114.37 L303.62,115.08 L304.23,115.88 L304.84,116.72 L305.45,117.73 L306.06,119.08 L306.68,120.68 L307.29,122.45 L307.9,124.29 L308.51,126.1 L309.12,127.79 L309.73,129.4 L310.34,131.06 L310.95,132.75 L311.56,134.44 L312.17,136.09 L312.79,137.68 L313.4,139.16 L314.01,140.52 L314.62,141.72 L315.23,142.92 L315.84,144.14 L316.45,145.36 L317.06,146.5 L317.67,147.54 L318.28,148.42 L318.9,149.08 L319.51,149.49 L320.12,149.6 L320.73,149.53 L321.34,149.37 L321.95,149.12 L322.56,148.81 L323.17,148.44 L323.78,148.03 L324.4,147.58 L325.01,146.94 L325.62,145.89 L326.23,144.62 L326.84,143.32 L327.45,142.18 L328.06,141.3 L328.67,140.44 L329.28,139.57 L329.89,138.69 L330.51,137.82 L331.12,136.95 L331.73,136.09 L332.34,135.24 L332.95,134.41 L333.56,133.6 L334.17,132.82 L334.78,132.07 L335.39,131.35 L336,130.68 L336.62,130.05 L337.23,129.48 L337.84,128.95 L338.45,128.49 L339.06,128.09 L339.67,127.76 L340.28,127.5 L340.89,127.32 L341.5,127.22 L342.11,127.2 L342.73,127.26 L343.34,127.38 L343.95,127.55 L344.56,127.78 L345.17,128.06 L345.78,128.38 L346.39,128.74 L347,129.13 L347.61,129.56 L348.23,130.02 L348.84,130.5 L349.45,131 L350.06,131.51 L350.67,132.04 L351.28,132.57 L351.89,133.1 L352.5,133.63 L353.11,134.15 L353.72,134.66 L354.34,135.16 L354.95,135.63 L355.56,136.09 L356.17,136.51 L356.78,136.91 L357.39,137.26 L358,137.58 L358.61,137.85 L359.22,138.07 L359.83,138.24 L360.45,138.35 L361.06,138.4 L361.67,138.39 L362.28,138.34 L362.89,138.26 L363.5,138.15 L364.11,138 L364.72,137.83 L365.33,137.63 L365.94,137.41 L366.56,137.17 L367.17,136.91 L367.78,136.62 L368.39,136.33 L369,136.02 L369.61,135.7 L370.22,135.37 L370.83,135.03 L371.44,134.68 L372.05,134.34 L372.67,133.99 L373.28,133.65 L373.89,133.3 L374.5,132.97 L375.11,132.64 L375.72,132.32 L376.33,132.01 L376.94,131.72 L377.55,131.44 L378.17,131.18 L378.78,130.94 L379.39,130.72 L380,130.53 L380.61,130.36 L381.22,130.23 L381.83,130.12 L382.44,130.05 L383.05,130.01 L383.66,130 L384.28,130.02 L384.89,130.07 L385.5,130.14 L386.11,130.22 L386.72,130.33 L387.33,130.45 L387.94,130.58 L388.55,130.73 L389.16,130.89 L389.77,131.06 L390.39,131.24 L391,131.43 L391.61,131.62 L392.22,131.81 L392.83,132.01 L393.44,132.21 L394.05,132.41 L394.66,132.6 L395.27,132.79 L395.88,132.98 L396.5,133.16 L397.11,133.33 L397.72,133.49 L398.33,133.63 L398.94,133.77 L399.55,133.89 L400.16,133.99 L400.77,134.07 L401.38,134.14 L401.99,134.18 L402.61,134.2 L403.22,134.2 L403.83,134.18 L404.44,134.14 L405.05,134.09 L405.66,134.03 L406.27,133.96 L406.88,133.87 L407.49,133.77 L408.11,133.67 L408.72,133.55 L409.33,133.43 L409.94,133.3 L410.55,133.16 L411.16,133.02 L411.77,132.88 L412.38,132.73 L412.99,132.59 L413.6,132.44 L414.22,132.29 L414.83,132.14 L415.44,131.99 L416.05,131.85 L416.66,131.71 L417.27,131.58 L417.88,131.45 L418.49,131.33 L419.1,131.21 L419.71,131.11 L420.33,131.01 L420.94,130.93 L421.55,130.86 L422.16,130.8 L422.77,130.75 L423.38,130.72 L423.99,130.7 L424.6,130.7 L425.21,130.71 L425.82,130.72 L426.44,130.74 L427.05,130.77 L427.66,130.8 L428.27,130.84 L428.88,130.89 L429.49,130.93 L430.1,130.99 L430.71,131.04 L431.32,131.1 L431.94,131.16 L432.55,131.23 L433.16,131.29 L433.77,131.36 L434.38,131.43 L434.99,131.49 L435.6,131.56 L436.21,131.63 L436.82,131.7 L437.43,131.76 L438.05,131.83 L438.66,131.89 L439.27,131.95 L439.88,132 L440.49,132.06 L441.1,132.1 L441.71,132.15 L442.32,132.19 L442.93,132.22 L443.54,132.25 L444.16,132.27 L444.77,132.29 L445.38,132.3 L445.99,132.3 L446.6,132.29 L447.21,132.28 L447.82,132.26 L448.43,132.24 L449.04,132.21 L449.65,132.17 L450.27,132.13 L450.88,132.08 L451.49,132.03 L452.1,131.98 L452.71,131.92 L453.32,131.86 L453.93,131.8 L454.54,131.73 L455.15,131.67 L455.76,131.6 L456.38,131.53 L456.99,131.46 L457.6,131.39 L458.21,131.32 L458.82,131.25 L459.43,131.18 L460.04,131.11 L460.65,131.04 L461.26,130.98 L461.88,130.92 L462.49,130.86 L463.1,130.8 L463.71,130.75 L464.32,130.7 L464.93,130.66 L465.54,130.62 L466.15,130.58 L466.76,130.55 L467.37,130.53 L467.99,130.51 L468.6,130.5 L469.21,130.5 L469.82,130.5 L470.43,130.51 L471.04,130.53 L471.65,130.55 L472.26,130.57 L472.87,130.6 L473.48,130.63 L474.1,130.66 L474.71,130.7 L475.32,130.74 L475.93,130.79 L476.54,130.83 L477.15,130.88 L477.76,130.93 L478.37,130.97 L478.98,131.02 L479.59,131.07 L480.21,131.12 L480.82,131.16 L481.43,131.21 L482.04,131.25 L482.65,131.29 L483.26,131.33 L483.87,131.37 L484.48,131.4 L485.09,131.43 L485.71,131.45 L486.32,131.47 L486.93,131.49 L487.54,131.5 L488.15,131.5 L488.76,131.5 L489.37,131.49 L489.98,131.48 L490.59,131.46 L491.2,131.43 L491.82,131.4 L492.43,131.37 L493.04,131.33 L493.65,131.29 L494.26,131.25 L494.87,131.2 L495.48,131.15 L496.09,131.1 L496.7,131.05 L497.31,130.99 L497.93,130.93 L498.54,130.88 L499.15,130.82 L499.76,130.76 L500.37,130.7 L500.98,130.64 L501.59,130.58 L502.2,130.53 L502.81,130.47 L503.42,130.42 L504.04,130.36 L504.65,130.31 L505.26,130.27 L505.87,130.22 L506.48,130.18 L507.09,130.14 L507.7,130.11 L508.31,130.08 L508.92,130.05 L509.53,130.03 L510.15,130.01 L510.76,130 L511.37,130 L511.98,130 L512.59,130.01 L513.2,130.02 L513.81,130.03 L514.42,130.04 L515.03,130.06 L515.65,130.09 L516.26,130.11 L516.87,130.14 L517.48,130.16 L518.09,130.19 L518.7,130.23 L519.31,130.26 L519.92,130.29 L520.53,130.32 L521.14,130.36 L521.76,130.39 L522.37,130.42 L522.98,130.46 L523.59,130.49 L524.2,130.52 L524.81,130.55 L525.42,130.58 L526.03,130.6 L526.64,130.63 L527.25,130.65 L527.87,130.66 L528.48,130.68 L529.09,130.69 L529.7,130.7 L530.31,130.7 L530.92,130.7 L531.53,130.7 L532.14,130.69 L532.75,130.68 L533.36,130.67 L533.98,130.66 L534.59,130.64 L535.2,130.62 L535.81,130.6 L536.42,130.58 L537.03,130.56 L537.64,130.54 L538.25,130.51 L538.86,130.48 L539.47,130.46 L540.09,130.43 L540.7,130.4 L541.31,130.37 L541.92,130.34 L542.53,130.31 L543.14,130.28 L543.75,130.24 L544.36,130.21 L544.97,130.18 L545.59,130.15 L546.2,130.12 L546.81,130.09 L547.42,130.06 L548.03,130.03 L548.64,130.01 L549.25,129.98 L549.86,129.95 L550.47,129.93 L551.08,129.91 L551.7,129.89 L552.31,129.87 L552.92,129.85 L553.53,129.84 L554.14,129.83 L554.75,129.82 L555.36,129.81 L555.97,129.8 L556.58,129.8 L557.19,129.8 L557.81,129.8 L558.42,129.8 L559.03,129.81 L559.64,129.81 L560.25,129.82 L560.86,129.82 L561.47,129.83 L562.08,129.84 L562.69,129.84 L563.3,129.85 L563.92,129.86 L564.53,129.87 L565.14,129.88 L565.75,129.89 L566.36,129.9 L566.97,129.91 L567.58,129.92 L568.19,129.93 L568.8,129.94 L569.42,129.95 L570.03,129.95 L570.64,129.96 L571.25,129.97 L571.86,129.98 L572.47,129.98 L573.08,129.99 L573.69,129.99 L574.3,130 L574.91,130 L575.53,130 L576.14,130 L576.75,130 L577.36,130 L577.97,130 L578.58,129.99 L579.19,129.99 L579.8,129.99 L580.41,129.98 L581.02,129.98 L581.64,129.97 L582.25,129.97 L582.86,129.96 L583.47,129.96 L584.08,129.95 L584.69,129.94 L585.3,129.93 L585.91,129.92 L586.52,129.91 L587.13,129.9 L587.75,129.89 L588.36,129.88 L588.97,129.87 L589.58,129.86 L590.19,129.85 L590.8,129.84 L591.41,129.82 L592.02,129.81 L592.63,129.79 L593.24,129.78 L593.86,129.76 L594.47,129.75 L595.08,129.73 L595.69,129.72 L596.3,129.7" fill="none" stroke="#4f87c7" stroke-width="1.5" stroke-linejoin="round"/>
<path d="M291.4,150.9 L292.01,146.8 L292.62,142.86 L293.23,139.1 L293.84,135.39 L294.46,131.73 L295.07,128.48 L295.68,125.88 L296.29,123.49 L296.9,121.36 L297.51,119.66 L298.12,118.57 L298.73,117.87 L299.34,117.24 L299.95,116.75 L300.57,116.42 L301.18,116.3 L301.79,116.42 L302.4,116.77 L303.01,117.31 L303.62,117.98 L304.23,118.73 L304.84,119.53 L305.45,120.47 L306.06,121.75 L306.68,123.28 L307.29,124.95 L307.9,126.69 L308.51,128.4 L309.12,130 L309.73,131.52 L310.34,133.11 L310.95,134.72 L311.56,136.33 L312.17,137.9 L312.79,139.4 L313.4,140.78 L314.01,142.03 L314.62,143.1 L315.23,144.13 L315.84,145.18 L316.45,146.21 L317.06,147.19 L317.67,148.08 L318.28,148.85 L318.9,149.46 L319.51,149.89 L320.12,150.09 L320.73,150.07 L321.34,149.95 L321.95,149.74 L322.56,149.45 L323.17,149.1 L323.78,148.71 L324.4,148.28 L325.01,147.67 L325.62,146.68 L326.23,145.5 L326.84,144.29 L327.45,143.24 L328.06,142.45 L328.67,141.67 L329.28,140.89 L329.89,140.11 L330.51,139.34 L331.12,138.58 L331.73,137.83 L332.34,137.11 L332.95,136.43 L333.56,135.77 L334.17,135.17 L334.78,134.61 L335.39,134.1 L336,133.66 L336.62,133.29 L337.23,132.99 L337.84,132.77 L338.45,132.64 L339.06,132.6 L339.67,132.63 L340.28,132.71 L340.89,132.83 L341.5,132.99 L342.11,133.18 L342.73,133.42 L343.34,133.68 L343.95,133.97 L344.56,134.28 L345.17,134.61 L345.78,134.96 L346.39,135.33 L347,135.7 L347.61,136.08 L348.23,136.47 L348.84,136.86 L349.45,137.24 L350.06,137.62 L350.67,137.99 L351.28,138.35 L351.89,138.69 L352.5,139.01 L353.11,139.31 L353.72,139.58 L354.34,139.82 L354.95,140.04 L355.56,140.21 L356.17,140.35 L356.78,140.44 L357.39,140.49 L358,140.5 L358.61,140.48 L359.22,140.44 L359.83,140.38 L360.45,140.31 L361.06,140.22 L361.67,140.11 L362.28,140 L362.89,139.87 L363.5,139.73 L364.11,139.58 L364.72,139.42 L365.33,139.26 L365.94,139.09 L366.56,138.92 L367.17,138.74 L367.78,138.56 L368.39,138.39 L369,138.21 L369.61,138.03 L370.22,137.86 L370.83,137.7 L371.44,137.53 L372.05,137.38 L372.67,137.23 L373.28,137.1 L373.89,136.97 L374.5,136.86 L375.11,136.76 L375.72,136.67 L376.33,136.6 L376.94,136.55 L377.55,136.52 L378.17,136.5 L378.78,136.5 L379.39,136.52 L380,136.54 L380.61,136.57 L381.22,136.61 L381.83,136.65 L382.44,136.7 L383.05,136.76 L383.66,136.82 L384.28,136.89 L384.89,136.96 L385.5,137.04 L386.11,137.11 L386.72,137.19 L387.33,137.27 L387.94,137.36 L388.55,137.44 L389.16,137.52 L389.77,137.6 L390.39,137.67 L391,137.75 L391.61,137.82 L392.22,137.88 L392.83,137.95 L393.44,138 L394.05,138.06 L394.66,138.1 L395.27,138.14 L395.88,138.17 L396.5,138.19 L397.11,138.2 L397.72,138.2 L398.33,138.2 L398.94,138.19 L399.55,138.19 L400.16,138.18 L400.77,138.17 L401.38,138.16 L401.99,138.15 L402.61,138.14 L403.22,138.12 L403.83,138.11 L404.44,138.09 L405.05,138.07 L405.66,138.05 L406.27,138.03 L406.88,138.01 L407.49,138 L408.11,137.98 L408.72,137.96 L409.33,137.94 L409.94,137.92 L410.55,137.9 L411.16,137.88 L411.77,137.86 L412.38,137.84 L412.99,137.82 L413.6,137.8 L414.22,137.79 L414.83,137.77 L415.44,137.76 L416.05,137.74 L416.66,137.73 L417.27,137.72 L417.88,137.72 L418.49,137.71 L419.1,137.7 L419.71,137.7 L420.33,137.7 L420.94,137.7 L421.55,137.7 L422.16,137.7 L422.77,137.7 L423.38,137.7 L423.99,137.69 L424.6,137.69 L425.21,137.69 L425.82,137.69 L426.44,137.69 L427.05,137.69 L427.66,137.69 L428.27,137.69 L428.88,137.69 L429.49,137.69 L430.1,137.69 L430.71,137.69 L431.32,137.68 L431.94,137.68 L432.55,137.68 L433.16,137.68 L433.77,137.68 L434.38,137.68 L434.99,137.68 L435.6,137.68 L436.21,137.68 L436.82,137.68 L437.43,137.68 L438.05,137.68 L438.66,137.68 L439.27,137.67 L439.88,137.67 L440.49,137.67 L441.1,137.67 L441.71,137.67 L442.32,137.67 L442.93,137.67 L443.54,137.67 L444.16,137.67 L444.77,137.67 L445.38,137.67 L445.99,137.67 L446.6,137.67 L447.21,137.67 L447.82,137.66 L448.43,137.66 L449.04,137.66 L449.65,137.66 L450.27,137.66 L450.88,137.66 L451.49,137.66 L452.1,137.66 L452.71,137.66 L453.32,137.66 L453.93,137.66 L454.54,137.66 L455.15,137.66 L455.76,137.66 L456.38,137.66 L456.99,137.65 L457.6,137.65 L458.21,137.65 L458.82,137.65 L459.43,137.65 L460.04,137.65 L460.65,137.65 L461.26,137.65 L461.88,137.65 L462.49,137.65 L463.1,137.65 L463.71,137.65 L464.32,137.65 L464.93,137.65 L465.54,137.65 L466.15,137.65 L466.76,137.65 L467.37,137.65 L467.99,137.64 L468.6,137.64 L469.21,137.64 L469.82,137.64 L470.43,137.64 L471.04,137.64 L471.65,137.64 L472.26,137.64 L472.87,137.64 L473.48,137.64 L474.1,137.64 L474.71,137.64 L475.32,137.64 L475.93,137.64 L476.54,137.64 L477.15,137.64 L477.76,137.64 L478.37,137.64 L478.98,137.64 L479.59,137.64 L480.21,137.63 L480.82,137.63 L481.43,137.63 L482.04,137.63 L482.65,137.63 L483.26,137.63 L483.87,137.63 L484.48,137.63 L485.09,137.63 L485.71,137.63 L486.32,137.63 L486.93,137.63 L487.54,137.63 L488.15,137.63 L488.76,137.63 L489.37,137.63 L489.98,137.63 L490.59,137.63 L491.2,137.63 L491.82,137.63 L492.43,137.63 L493.04,137.63 L493.65,137.63 L494.26,137.63 L494.87,137.62 L495.48,137.62 L496.09,137.62 L496.7,137.62 L497.31,137.62 L497.93,137.62 L498.54,137.62 L499.15,137.62 L499.76,137.62 L500.37,137.62 L500.98,137.62 L501.59,137.62 L502.2,137.62 L502.81,137.62 L503.42,137.62 L504.04,137.62 L504.65,137.62 L505.26,137.62 L505.87,137.62 L506.48,137.62 L507.09,137.62 L507.7,137.62 L508.31,137.62 L508.92,137.62 L509.53,137.62 L510.15,137.62 L510.76,137.62 L511.37,137.62 L511.98,137.62 L512.59,137.62 L513.2,137.62 L513.81,137.62 L514.42,137.61 L515.03,137.61 L515.65,137.61 L516.26,137.61 L516.87,137.61 L517.48,137.61 L518.09,137.61 L518.7,137.61 L519.31,137.61 L519.92,137.61 L520.53,137.61 L521.14,137.61 L521.76,137.61 L522.37,137.61 L522.98,137.61 L523.59,137.61 L524.2,137.61 L524.81,137.61 L525.42,137.61 L526.03,137.61 L526.64,137.61 L527.25,137.61 L527.87,137.61 L528.48,137.61 L529.09,137.61 L529.7,137.61 L530.31,137.61 L530.92,137.61 L531.53,137.61 L532.14,137.61 L532.75,137.61 L533.36,137.61 L533.98,137.61 L534.59,137.61 L535.2,137.61 L535.81,137.61 L536.42,137.61 L537.03,137.61 L537.64,137.61 L538.25,137.61 L538.86,137.61 L539.47,137.61 L540.09,137.61 L540.7,137.61 L541.31,137.61 L541.92,137.61 L542.53,137.61 L543.14,137.61 L543.75,137.61 L544.36,137.61 L544.97,137.6 L545.59,137.6 L546.2,137.6 L546.81,137.6 L547.42,137.6 L548.03,137.6 L548.64,137.6 L549.25,137.6 L549.86,137.6 L550.47,137.6 L551.08,137.6 L551.7,137.6 L552.31,137.6 L552.92,137.6 L553.53,137.6 L554.14,137.6 L554.75,137.6 L555.36,137.6 L555.97,137.6 L556.58,137.6 L557.19,137.6 L557.81,137.6 L558.42,137.6 L559.03,137.6 L559.64,137.6 L560.25,137.6 L560.86,137.6 L561.47,137.6 L562.08,137.6 L562.69,137.6 L563.3,137.6 L563.92,137.6 L564.53,137.6 L565.14,137.6 L565.75,137.6 L566.36,137.6 L566.97,137.6 L567.58,137.6 L568.19,137.6 L568.8,137.6 L569.42,137.6 L570.03,137.6 L570.64,137.6 L571.25,137.6 L571.86,137.6 L572.47,137.6 L573.08,137.6 L573.69,137.6 L574.3,137.6 L574.91,137.6 L575.53,137.6 L576.14,137.6 L576.75,137.6 L577.36,137.6 L577.97,137.6 L578.58,137.6 L579.19,137.6 L579.8,137.6 L580.41,137.6 L581.02,137.6 L581.64,137.6 L582.25,137.6 L582.86,137.6 L583.47,137.6 L584.08,137.6 L584.69,137.6 L585.3,137.6 L585.91,137.6 L586.52,137.6 L587.13,137.6 L587.75,137.6 L588.36,137.6 L588.97,137.6 L589.58,137.6 L590.19,137.6 L590.8,137.6 L591.41,137.6 L592.02,137.6 L592.63,137.6 L593.24,137.6 L593.86,137.6 L594.47,137.6 L595.08,137.6 L595.69,137.6 L596.3,137.6" fill="none" stroke="#c4322d" stroke-width="1.5" stroke-linejoin="round"/>
<line x1="596.5" y1="63.4" x2="632.5" y2="63.4" stroke="#9a9a9a" stroke-width="0.9" stroke-dasharray="3,2"/>
<line x1="596.5" y1="73.3" x2="632.5" y2="73.3" stroke="#9a9a9a" stroke-width="0.9" stroke-dasharray="3,2"/>
<line x1="633.4" y1="64.2" x2="633.4" y2="72.5" stroke="#333" stroke-width="0.7"/>
<path d="M632.4,65.4 L633.4,63.9 L634.4,65.4 M632.4,71.3 L633.4,72.8 L634.4,71.3" fill="none" stroke="#333" stroke-width="0.6"/>
<line x1="596.5" y1="129.7" x2="632.5" y2="129.7" stroke="#9a9a9a" stroke-width="0.9" stroke-dasharray="3,2"/>
<line x1="596.5" y1="137.6" x2="632.5" y2="137.6" stroke="#9a9a9a" stroke-width="0.9" stroke-dasharray="3,2"/>
<line x1="633.4" y1="130.5" x2="633.4" y2="136.79999999999998" stroke="#333" stroke-width="0.7"/>
<path d="M632.4,131.7 L633.4,130.2 L634.4,131.7 M632.4,135.6 L633.4,137.1 L634.4,135.6" fill="none" stroke="#333" stroke-width="0.6"/>
<text x="638" y="71.7" font-size="15.5" text-anchor="start" fill="#231f20" font-family='"Liberation Sans", sans-serif' >Δ</text>
<path d="M649.29,68.16 C651.55,66.20 654.60,63.45 654.60,61.98 C654.60,61.09 654.01,60.70 653.32,60.70 C651.95,60.70 650.67,62.66 650.67,66.00 L650.67,68.95 C650.67,70.82 651.46,71.70 652.63,71.70 C653.71,71.70 654.79,71.01 655.68,69.93" fill="none" stroke="#231f20" stroke-width="1.35" stroke-linecap="round"/>
<text x="656" y="73.5" font-size="9.2" text-anchor="start" fill="#231f20" font-family='"Liberation Sans", sans-serif' textLength="21.2" lengthAdjust="spacingAndGlyphs">MMP</text>
<text x="637.8" y="136.6" font-size="15.5" text-anchor="start" fill="#231f20" font-family='"Liberation Sans", sans-serif' >Δ</text>
<text x="648.2" y="136.6" font-size="15" text-anchor="start" fill="#231f20" font-family='"Liberation Sans", sans-serif' >c</text>
<text x="655.7" y="138.7" font-size="10.2" text-anchor="start" fill="#231f20" font-family='"Liberation Sans", sans-serif' >in</text>
<defs><radialGradient id="cg" cx="0.65" cy="0.35" r="0.7"><stop offset="0" stop-color="#d3dcf4"/><stop offset="1" stop-color="#c2cff0"/></radialGradient></defs>
<path d="M10.2,296.4 L11.3,297.3 L12.3,297.0 L13.1,297.2 L13.9,297.5 L15.1,297.4 L16.8,297.5 L18.4,297.4 L20.0,296.9 L21.4,296.8 L22.7,297.1 L24.5,297.2 L25.8,297.0 L26.6,296.6 L28.1,296.1 L29.6,296.2 L31.1,296.7 L32.2,296.6 L33.2,296.3 L34.6,296.5 L35.9,296.9 L37.1,297.0 L38.2,296.7 L39.1,296.4 L40.5,296.8 L42.2,297.3 L43.9,297.6 L45.4,297.6 L46.3,297.2 L47.0,297.0 L48.6,297.3 L50.3,297.3 L51.2,297.3 L52.0,297.2 L53.8,296.9 L55.7,296.8 L57.0,296.9 L58.1,296.9 L59.3,297.0 L60.4,297.1 L61.7,296.7 L62.9,296.6 L63.6,297.1 L64.3,297.3 L66.5,297.6 L67.3,298.2 L67.6,299.0 L68.4,300.1 L69.4,301.2 L70.3,302.2 L71.2,303.0 L72.2,303.9 L73.0,305.2 L72.9,306.2 L72.9,307.3 L73.1,308.8 L73.5,309.8 L74.3,311.0 L74.8,312.3 L74.8,313.7 L75.2,315.4 L76.2,316.7 L77.2,317.8 L77.9,318.7 L78.8,319.8 L79.7,320.7 L80.8,321.3 L82.0,322.0 L83.0,322.5 L84.5,323.1 L86.1,323.4 L87.2,323.3 L88.2,323.4 L89.9,323.7 L91.4,323.8 L92.3,323.4 L92.9,322.6 L93.6,321.7 L94.2,320.8 L94.7,319.4 L95.0,317.7 L95.7,315.8 L96.7,314.9 L97.6,314.4 L98.5,313.7 L99.3,312.7 L100.0,311.4 L100.8,310.3 L101.7,309.1 L102.4,307.9 L103.3,307.2 L104.0,307.0 L103.5,305.6 L102.0,304.4 L100.3,303.5 L99.0,302.5 L98.7,301.4 L99.3,300.7 L100.7,300.0 L102.0,299.2 L103.1,298.4 L104.2,297.7 L105.4,296.9 L106.6,296.0 L107.1,295.8 L108.9,295.7 L110.0,295.5 L111.2,295.1 L112.3,295.2 L113.3,295.1 L114.4,294.7 L115.7,294.3 L117.1,294.0 L118.6,294.1 L120.1,294.4 L121.5,294.4 L122.5,294.2 L123.4,294.2 L124.8,294.7 L126.3,295.2 L127.7,295.2 L128.9,295.2 L129.9,295.7 L131.0,296.2 L132.0,296.3 L133.5,296.2 L135.1,295.9 L136.7,295.2 L138.1,294.3 L139.0,293.6 L139.3,293.2" fill="none" stroke="#b4b29a" stroke-width="0.55"/>
<path d="M9.8,296.7 L11.1,297.0 L12.0,297.2 L13.0,297.0 L14.4,296.8 L15.5,297.0 L16.4,297.2 L17.6,297.0 L19.5,296.2 L21.0,296.3 L21.8,296.8 L23.1,296.5 L24.9,296.1 L26.8,295.9 L28.4,296.3 L29.2,296.5 L30.2,296.6 L31.7,296.5 L33.0,296.4 L34.2,296.2 L35.2,296.3 L35.9,296.8 L37.1,296.7 L38.7,296.7 L39.9,297.4 L40.8,297.5 L41.9,296.9 L43.4,297.0 L45.0,297.3 L46.2,297.2 L47.4,297.1 L48.5,297.4 L50.0,297.7 L51.7,297.6 L53.3,297.5 L54.7,297.8 L55.6,298.2 L57.0,298.1 L58.7,297.6 L59.9,297.6 L60.9,297.9 L62.2,298.0 L63.5,298.2 L64.4,298.4 L65.1,298.4 L67.4,298.3 L68.8,298.1 L69.9,298.0 L70.7,298.3 L71.2,299.1 L71.3,300.3 L71.1,302.1 L71.4,303.9 L72.0,304.7 L72.5,305.5 L73.0,306.4 L73.6,307.3 L74.3,308.3 L75.0,309.6 L75.6,311.2 L76.0,312.4 L76.5,313.6 L76.9,314.8 L77.2,316.0 L77.4,317.4 L77.1,318.7 L77.2,320.1 L78.3,321.4 L79.1,322.0 L79.9,322.3 L81.1,322.3 L82.7,322.5 L84.1,323.3 L85.3,324.0 L86.6,324.0 L87.8,323.9 L88.5,324.1 L90.0,324.2 L91.3,323.6 L92.4,322.9 L93.9,322.2 L95.2,321.7 L96.4,321.0 L97.5,319.7 L98.4,318.2 L99.2,316.9 L99.6,315.8 L99.4,314.8 L99.2,313.6 L99.1,311.8 L99.0,310.3 L99.0,309.3 L99.7,308.0 L101.0,306.4 L102.1,305.1 L102.9,303.9 L103.9,302.8 L104.7,302.0 L104.8,300.5 L104.0,299.0 L103.9,297.9 L104.6,297.3 L105.9,296.9 L107.2,296.5 L108.7,296.0 L109.6,295.9 L110.7,295.4 L111.6,294.9 L112.9,295.0 L114.6,295.2 L115.9,295.1 L117.1,295.2 L118.5,295.4 L120.1,295.3 L121.3,295.0 L122.5,295.2 L123.8,295.3 L125.1,295.5 L126.6,295.7 L127.9,295.5 L129.3,295.2 L131.1,295.4 L132.3,295.9 L133.9,295.7 L135.7,295.0 L136.9,294.5 L137.8,294.3 L138.4,294.0" fill="none" stroke="#c8c7b1" stroke-width="0.55"/>
<path d="M10.6,296.7 L11.1,297.0 L12.2,297.2 L13.2,297.1 L14.5,296.9 L15.6,296.9 L16.6,297.1 L17.9,297.0 L19.4,296.8 L20.8,296.7 L22.4,296.5 L24.1,296.4 L25.2,296.4 L26.5,296.5 L28.1,296.9 L29.3,297.0 L30.2,296.4 L31.6,296.2 L33.0,296.7 L34.3,296.7 L35.5,296.4 L36.8,296.9 L38.1,297.3 L39.1,297.1 L40.0,297.0 L41.3,297.1 L43.1,297.3 L44.5,297.1 L45.7,296.9 L47.2,297.1 L48.5,297.4 L49.2,297.4 L50.1,297.3 L51.7,297.4 L53.4,297.4 L55.0,297.1 L56.6,296.8 L57.8,297.0 L58.9,297.5 L60.4,297.5 L61.7,297.3 L62.7,297.4 L63.9,297.6 L65.2,297.8 L66.1,297.7 L68.3,298.3 L68.4,299.9 L68.7,301.2 L69.1,302.0 L69.0,303.3 L69.7,305.2 L70.4,306.1 L71.4,306.6 L72.9,307.1 L74.2,307.7 L74.8,308.3 L75.2,308.7 L75.9,309.5 L76.8,310.7 L77.3,312.2 L77.6,313.9 L78.0,315.5 L78.1,316.9 L78.3,317.8 L78.9,318.9 L79.5,320.1 L80.5,321.3 L81.7,322.1 L82.5,322.4 L83.4,322.5 L84.9,322.8 L86.6,323.2 L87.9,323.0 L88.9,322.9 L90.1,322.9 L91.8,322.5 L93.4,322.0 L94.2,321.2 L95.1,320.6 L96.3,319.9 L96.8,318.7 L96.8,317.6 L97.4,316.3 L98.2,314.9 L99.0,313.6 L99.3,312.5 L99.1,311.2 L99.3,309.5 L100.0,308.3 L100.6,307.2 L100.9,305.6 L101.1,304.0 L101.4,302.7 L102.0,301.2 L103.0,300.0 L104.5,299.3 L105.9,299.0 L106.8,298.2 L107.6,297.2 L109.0,296.5 L109.7,296.4 L110.8,296.1 L112.1,295.6 L113.5,295.4 L115.2,295.2 L116.9,295.1 L118.4,295.3 L119.9,295.3 L121.1,295.4 L122.1,295.5 L123.3,295.5 L124.5,295.3 L126.0,295.4 L127.4,295.9 L128.6,296.1 L129.9,295.8 L131.0,296.0 L132.2,296.2 L133.8,295.8 L135.2,295.5 L136.3,295.0 L137.5,294.4 L139.0,294.5 L140.2,294.3 L140.9,293.5" fill="none" stroke="#bdbca4" stroke-width="0.55"/>
<path d="M11.0,296.7 L11.5,296.7 L12.4,297.0 L13.8,297.0 L15.1,296.8 L16.3,296.5 L17.6,296.4 L19.1,296.5 L20.6,296.5 L21.9,296.2 L23.1,296.2 L24.7,296.4 L26.3,296.5 L27.5,296.5 L28.7,296.3 L29.9,296.2 L31.0,296.5 L31.8,296.8 L32.7,296.8 L34.1,296.4 L35.4,296.1 L36.4,296.2 L37.8,296.4 L39.2,296.2 L40.4,296.1 L42.0,296.2 L43.5,296.3 L44.9,296.5 L46.3,296.6 L47.3,296.6 L48.3,296.7 L49.5,296.8 L51.0,296.8 L52.5,297.1 L54.2,297.2 L56.0,297.0 L57.5,296.9 L58.8,297.1 L60.0,297.6 L61.2,297.9 L62.4,298.0 L63.5,297.9 L64.7,297.9 L65.7,298.0 L66.3,298.1 L68.7,298.6 L69.4,299.5 L69.5,300.7 L70.3,301.3 L71.4,302.8 L71.9,303.6 L72.6,304.4 L73.2,305.2 L73.9,306.7 L74.4,308.7 L74.8,310.2 L75.2,311.6 L75.6,312.6 L76.1,313.2 L77.1,314.4 L77.7,315.2 L78.0,316.3 L78.2,317.7 L78.1,319.1 L78.1,320.3 L79.2,321.4 L80.7,322.3 L82.1,322.7 L83.6,323.1 L85.2,323.4 L86.5,323.1 L87.9,322.6 L88.9,322.1 L90.0,322.2 L91.4,322.5 L92.8,322.7 L94.1,322.4 L95.2,321.7 L96.1,321.1 L96.9,320.4 L97.3,319.1 L97.3,317.8 L97.9,316.8 L98.6,315.7 L98.8,314.5 L98.9,312.7 L99.1,311.2 L99.5,309.6 L100.0,308.3 L100.5,307.4 L101.0,306.2 L101.3,304.7 L101.8,303.4 L102.9,302.7 L103.8,301.3 L104.6,299.8 L105.4,298.8 L106.5,298.2 L107.4,297.4 L107.8,296.6 L108.9,295.5 L109.9,295.1 L111.3,295.5 L112.1,295.6 L113.3,295.3 L115.0,294.9 L116.6,295.0 L118.4,295.3 L119.9,295.7 L121.0,295.7 L122.0,295.3 L123.2,294.8 L124.4,295.1 L125.7,295.3 L127.2,295.0 L128.5,294.8 L130.2,294.8 L131.8,294.7 L132.4,294.4 L133.8,294.3 L135.6,294.5 L137.0,294.5 L138.1,294.4 L139.3,294.6" fill="none" stroke="#d2d1bd" stroke-width="0.55"/>
<path d="M11.5,297.3 L12.5,296.9 L13.4,296.8 L14.4,296.9 L15.5,296.7 L16.9,296.4 L18.2,296.3 L19.3,296.5 L20.7,296.7 L22.2,296.6 L23.5,296.2 L25.0,296.0 L26.6,296.1 L27.9,295.8 L28.9,295.5 L30.2,295.7 L31.5,296.3 L32.9,296.7 L34.5,296.6 L35.7,296.3 L36.6,296.4 L37.8,296.6 L39.3,296.9 L40.4,297.4 L41.4,297.5 L42.9,297.2 L44.5,297.1 L45.8,297.2 L46.9,297.5 L48.1,297.6 L49.4,297.5 L50.8,297.6 L52.1,297.8 L53.6,297.9 L55.1,297.8 L56.5,297.8 L57.9,297.9 L59.0,297.9 L60.1,298.1 L61.2,298.2 L62.1,298.4 L63.3,298.7 L64.6,298.6 L67.1,298.5 L68.7,298.6 L69.6,298.6 L70.5,298.9 L71.4,299.7 L71.1,300.5 L70.1,301.2 L68.6,302.4 L67.4,304.2 L67.3,305.6 L67.4,306.3 L67.6,307.0 L68.3,307.4 L69.7,308.1 L71.2,309.5 L72.2,310.5 L73.4,311.4 L74.2,312.5 L75.1,313.6 L76.1,314.5 L77.1,315.8 L77.9,316.8 L78.8,318.1 L79.0,318.9 L80.1,319.9 L80.9,320.8 L82.2,321.3 L83.8,321.8 L84.9,322.4 L86.2,322.8 L87.6,322.8 L88.5,322.9 L89.8,323.1 L91.2,323.0 L92.9,323.0 L94.4,322.6 L95.0,321.2 L94.9,319.5 L94.5,318.1 L94.6,316.6 L95.3,315.1 L95.7,314.2 L96.1,312.9 L97.1,312.0 L98.0,310.9 L98.5,309.6 L99.0,308.3 L99.9,307.1 L100.6,306.3 L101.4,305.6 L102.5,304.9 L103.7,303.8 L104.3,302.7 L104.7,301.9 L104.8,299.9 L105.0,298.1 L105.3,297.5 L105.9,297.2 L107.3,296.6 L109.1,296.0 L110.7,295.5 L111.6,295.2 L112.7,295.1 L113.9,295.1 L115.2,294.7 L116.6,294.2 L117.8,294.0 L118.9,294.1 L120.0,294.3 L121.2,294.2 L122.8,293.9 L124.4,294.1 L126.0,294.9 L127.7,295.2 L128.9,295.3 L129.9,295.5 L131.2,295.4 L132.3,295.5 L133.7,295.5 L135.2,295.6 L136.7,295.6 L138.2,295.4 L139.4,295.3 L140.6,295.6" fill="none" stroke="#aeac94" stroke-width="0.55"/>
<path d="M10.7,295.8 L11.4,296.8 L12.3,296.8 L13.6,296.8 L14.8,296.7 L15.8,296.9 L17.0,297.1 L18.3,297.1 L19.8,297.0 L21.0,296.8 L22.3,296.7 L24.1,296.9 L25.5,297.0 L26.5,296.7 L27.8,296.5 L29.2,296.5 L30.3,296.6 L31.6,296.7 L33.2,297.1 L34.5,297.2 L35.6,296.8 L36.6,296.8 L37.6,297.1 L38.9,297.1 L40.0,297.0 L41.1,297.1 L42.4,297.3 L43.9,297.5 L45.3,297.6 L46.4,297.9 L47.4,297.9 L48.7,297.8 L50.2,297.8 L51.9,297.7 L53.2,297.3 L54.5,296.7 L55.7,296.8 L56.9,297.0 L58.0,296.6 L59.1,296.1 L60.3,296.0 L61.8,296.2 L63.0,296.0 L63.8,295.8 L64.4,296.1 L65.9,297.1 L67.1,298.1 L68.3,298.7 L69.0,299.3 L69.7,300.1 L71.2,301.0 L72.7,302.0 L73.6,303.0 L74.0,304.0 L74.4,305.0 L74.7,306.5 L74.4,308.4 L74.4,310.0 L74.7,310.8 L75.2,311.4 L76.1,312.1 L77.2,313.1 L78.0,314.1 L78.2,315.0 L78.8,316.2 L80.0,317.9 L80.8,319.2 L81.2,320.2 L81.9,321.1 L83.2,321.8 L84.3,322.0 L85.3,322.1 L86.8,322.4 L88.4,322.9 L89.9,323.3 L90.9,323.4 L92.3,323.5 L93.8,323.7 L94.6,323.3 L95.5,322.3 L96.4,321.5 L97.2,320.5 L97.9,319.3 L98.5,318.2 L98.4,317.2 L97.8,315.7 L97.3,314.0 L96.8,312.4 L96.0,311.0 L95.5,309.9 L95.7,308.8 L96.6,307.6 L97.8,306.7 L99.0,305.9 L100.4,305.3 L101.7,304.5 L102.7,303.3 L103.4,302.6 L104.2,301.8 L104.6,300.8 L104.8,299.6 L105.6,298.8 L106.2,297.7 L106.6,295.9 L108.3,294.9 L109.2,295.2 L110.3,295.0 L111.5,294.6 L113.0,294.7 L114.4,294.8 L115.5,294.5 L116.7,294.5 L118.2,294.5 L119.9,294.4 L121.2,294.6 L122.2,294.9 L123.4,294.9 L124.8,295.1 L126.2,295.4 L127.7,295.2 L128.8,295.1 L129.7,295.5 L130.5,295.8 L131.5,295.7 L133.4,295.6 L135.0,295.2 L136.4,294.9 L137.6,294.5 L138.5,294.3" fill="none" stroke="#c4c3ad" stroke-width="0.55"/>
<path d="M76.9,294.2 Q79.4,294.2 79.4,297.2 L79.4,310.65 A8.35,8.35 0 0 0 96.1,310.65 L96.1,297.2 Q96.1,294.2 98.6,294.2 L98.6,294.2 C99.08,294.1 99.18,293.78 101.5,293.6 C103.82,293.42 109.62,293.4 112.5,293.1 C115.38,292.8 117.12,292.52 118.8,291.8 C120.48,291.08 121.68,290.02 122.6,288.8 C123.52,287.58 124.03,286.05 124.3,284.5 C124.57,282.95 124.45,281.33 124.2,279.5 C123.95,277.67 123.47,275.42 122.8,273.5 C122.13,271.58 121.25,269.78 120.2,268 C119.15,266.22 117.87,264.37 116.5,262.8 C115.13,261.23 113.67,259.85 112,258.6 C110.33,257.35 108.5,256.22 106.5,255.3 C104.5,254.38 101.92,253.5 100,253.1 C98.08,252.7 96.92,252.75 95,252.9 C93.08,253.05 90.83,253.35 88.5,254 C86.17,254.65 83.42,255.73 81,256.8 C78.58,257.87 76.17,259.12 74,260.4 C71.83,261.68 70,263.13 68,264.5 C66,265.87 63.92,267.43 62,268.6 C60.08,269.77 58.58,270.68 56.5,271.5 C54.42,272.32 51.83,272.75 49.5,273.5 C47.17,274.25 44.58,275 42.5,276 C40.42,277 38.55,278.25 37,279.5 C35.45,280.75 34.17,282.17 33.2,283.5 C32.23,284.83 31.4,286.25 31.2,287.5 C31,288.75 31.37,290.08 32,291 C32.63,291.92 33.67,292.5 35,293 C36.33,293.5 37.5,293.8 40,294 C42.5,294.2 45.83,294.15 50,294.2 C54.17,294.25 60.52,294.3 65,294.3 C69.48,294.3 74.92,294.22 76.9,294.2 Z" fill="url(#cg)" stroke="#bac8ec" stroke-width="0.5"/>
<path d="M74.3,277.5 C74.5,276.83 74.72,274.58 75.5,273.5 C76.28,272.42 77.42,271.6 79,271 C80.58,270.4 82.83,270.12 85,269.9 C87.17,269.68 89.67,269.65 92,269.7 C94.33,269.75 97.08,269.85 99,270.2 C100.92,270.55 102.42,271.08 103.5,271.8 C104.58,272.52 105.25,273.55 105.5,274.5 C105.75,275.45 105.58,276.53 105,277.5 C104.42,278.47 103.33,279.62 102,280.3 C100.67,280.98 98.67,281.47 97,281.6 C95.33,281.73 93.42,281.37 92,281.1 C90.58,280.83 89.67,280 88.5,280 C87.33,280 86.25,280.82 85,281.1 C83.75,281.38 82.33,281.78 81,281.7 C79.67,281.62 78.07,281.08 77,280.6 C75.93,280.12 75.05,279.32 74.6,278.8 C74.15,278.28 74.35,277.72 74.3,277.5 Z" fill="#c3cfee"/>
<path d="M105.5,274.5 C105.42,275 105.58,276.53 105,277.5 C104.42,278.47 103.33,279.62 102,280.3 C100.67,280.98 98.67,281.47 97,281.6 C95.33,281.73 93.42,281.37 92,281.1 C90.58,280.83 89.67,280 88.5,280 C87.33,280 86.25,280.82 85,281.1 C83.75,281.38 82.33,281.78 81,281.7 C79.67,281.62 78.07,281.08 77,280.6 C75.93,280.12 75,279.1 74.6,278.8" fill="none" stroke="#a2b1d9" stroke-width="0.7" opacity="0.9"/>
<rect x="76.2" y="301.9" width="6.7" height="3.9" rx="1.2" fill="#e99b2c"/><rect x="76.6" y="302.76" width="5.9" height="2.18" fill="#f3c777"/><line x1="76.8" y1="303.85" x2="82.3" y2="303.85" stroke="#e9a646" stroke-width="0.5"/>
<rect x="89.6" y="305.8" width="6.5" height="3.9" rx="1.2" fill="#e99b2c"/><rect x="90" y="306.66" width="5.7" height="2.18" fill="#f3c777"/><line x1="90.2" y1="307.75" x2="95.5" y2="307.75" stroke="#e9a646" stroke-width="0.5"/>
<rect x="82.05" y="296.45" width="1.7" height="1.7" rx="0.5" fill="#2b3370"/>
<rect x="88.75" y="301.45" width="1.7" height="1.7" rx="0.5" fill="#2b3370"/>
<rect x="83.25" y="306.35" width="1.7" height="1.7" rx="0.5" fill="#2b3370"/>
<rect x="86.95" y="311.95" width="1.7" height="1.7" rx="0.5" fill="#2b3370"/>
<line x1="110.7" y1="301.5" x2="110.7" y2="323.3" stroke="#222" stroke-width="0.8"/><path d="M109.2,304.0 L110.7,300.5 L112.2,304.0 Z" fill="#222"/><path d="M109.2,320.8 L110.7,324.3 L112.2,320.8 Z" fill="#222"/>
<text x="113.4" y="317.2" font-size="13.6" text-anchor="start" fill="#231f20" font-family='"Liberation Sans", sans-serif' textLength="21.2" lengthAdjust="spacingAndGlyphs">Osc</text>
<path d="M154.7,299.1 L155.3,299.6 L156.0,299.6 L156.8,299.3 L157.9,299.2 L159.4,299.3 L161.0,299.3 L162.7,298.8 L164.1,298.6 L165.2,298.7 L166.6,298.8 L167.9,298.8 L169.4,298.9 L171.1,299.1 L172.2,299.0 L173.3,298.7 L174.6,298.6 L175.9,298.8 L177.2,299.1 L178.5,299.2 L179.7,298.9 L181.1,298.8 L182.6,299.1 L183.9,299.2 L185.1,299.2 L186.1,299.2 L187.0,299.1 L188.4,299.0 L189.8,299.0 L190.9,299.1 L192.1,299.1 L193.4,299.1 L195.0,298.8 L196.3,298.3 L197.8,298.6 L199.6,298.9 L201.2,298.6 L202.4,298.4 L203.6,298.4 L204.7,298.3 L205.5,298.3 L206.4,298.4 L207.4,298.7 L209.7,299.5 L210.5,300.0 L210.6,300.4 L211.3,301.7 L212.0,302.7 L212.5,303.7 L213.3,304.6 L214.6,305.9 L215.3,307.4 L215.6,308.7 L216.0,309.6 L216.1,310.3 L216.1,311.5 L215.9,312.7 L215.5,313.7 L215.2,314.6 L214.7,315.8 L214.2,317.3 L214.3,318.6 L214.7,319.5 L215.1,320.8 L215.4,322.0 L216.0,323.0 L216.9,324.1 L217.7,325.6 L218.5,326.8 L219.1,327.7 L219.7,329.1 L220.6,330.4 L221.4,331.2 L222.0,332.0 L222.4,332.8 L223.1,334.7 L223.8,336.1 L224.5,336.8 L225.0,337.7 L225.5,338.7 L226.2,339.4 L227.0,339.7 L228.7,340.1 L229.8,340.5 L230.9,340.1 L232.0,339.5 L233.3,339.1 L234.5,338.8 L235.5,338.2 L236.5,337.5 L237.5,336.4 L237.7,335.4 L237.4,333.9 L237.5,331.8 L237.6,330.9 L237.7,329.9 L238.5,329.0 L239.1,328.1 L239.4,326.8 L239.8,325.1 L239.7,323.6 L239.8,322.3 L240.4,321.3 L240.9,320.2 L241.1,318.9 L241.5,317.5 L241.9,316.4 L242.5,315.4 L243.0,314.1 L243.1,312.6 L243.5,311.2 L244.0,309.9 L244.1,308.8 L244.3,307.6 L244.1,306.0 L244.2,304.6 L244.5,303.2 L244.9,302.0 L245.4,301.0 L246.0,299.9 L246.7,299.1 L247.4,298.4 L248.7,297.8 L250.6,297.4 L251.7,297.4 L252.9,297.1 L254.5,296.9 L255.8,297.3 L256.8,297.6 L258.2,297.8 L260.0,297.8 L261.5,297.9 L262.7,297.9 L263.8,297.9 L265.1,298.0 L266.3,298.2 L267.6,298.0 L269.0,297.9 L270.1,298.3 L271.1,298.5 L272.2,298.1 L273.4,297.8 L274.8,297.8 L276.8,298.0 L278.6,297.9 L280.1,297.5 L281.2,297.1 L282.2,297.0 L282.9,297.1" fill="none" stroke="#b4b29a" stroke-width="0.55"/>
<path d="M154.3,298.6 L155.9,298.9 L156.8,298.9 L157.8,298.9 L158.9,298.7 L159.9,298.5 L161.1,298.6 L162.6,298.6 L164.3,298.4 L165.7,298.4 L166.7,298.2 L168.0,298.0 L169.7,298.1 L171.4,298.3 L172.7,298.5 L174.0,298.6 L175.1,298.9 L176.0,299.0 L177.4,299.0 L179.1,299.1 L180.7,299.3 L182.0,299.3 L182.8,299.4 L183.6,299.6 L185.0,299.4 L186.1,299.2 L186.9,299.1 L188.1,298.8 L189.6,298.6 L191.2,298.9 L192.6,299.0 L193.6,299.0 L194.8,298.9 L196.3,299.1 L198.3,299.3 L199.8,299.4 L200.9,299.3 L202.1,299.2 L203.4,299.2 L204.8,299.3 L205.9,299.3 L206.9,299.3 L207.9,299.4 L209.5,299.7 L210.8,300.0 L212.0,300.5 L213.1,301.3 L214.0,302.0 L214.4,302.9 L214.3,304.4 L214.3,305.7 L214.3,306.6 L214.4,308.3 L214.5,309.5 L214.8,310.6 L215.0,311.8 L215.3,313.1 L215.9,314.4 L216.4,315.7 L216.3,317.2 L216.3,318.5 L216.7,319.7 L217.2,321.0 L217.6,322.3 L217.9,323.7 L218.3,325.2 L218.3,326.3 L218.2,327.7 L218.4,329.2 L218.8,330.2 L219.5,331.2 L220.1,332.4 L220.2,334.1 L220.2,335.3 L220.9,336.1 L221.7,337.1 L222.4,337.9 L223.2,338.6 L224.3,339.6 L225.5,339.9 L226.6,340.0 L228.1,340.4 L229.6,340.5 L230.5,340.5 L231.5,340.4 L233.1,340.0 L234.6,339.7 L236.0,339.8 L237.3,339.3 L238.4,338.2 L239.6,337.3 L240.6,336.5 L241.0,335.4 L241.6,334.3 L242.0,332.8 L242.1,331.3 L242.6,330.5 L242.7,329.8 L242.0,328.6 L241.3,327.2 L241.5,325.9 L241.5,324.6 L241.0,323.2 L240.8,322.1 L241.4,320.9 L242.0,319.3 L242.2,317.9 L242.3,316.7 L242.6,315.7 L243.0,314.7 L243.3,313.0 L243.9,311.4 L244.3,310.4 L244.2,309.2 L244.4,308.1 L244.9,306.8 L244.9,305.3 L245.2,304.5 L245.4,303.5 L245.6,302.2 L246.5,301.0 L247.4,300.2 L248.4,299.4 L249.7,298.9 L251.1,298.6 L252.1,298.3 L253.2,298.0 L254.4,298.0 L255.8,297.9 L257.4,297.1 L259.2,296.6 L260.6,296.8 L261.7,297.0 L262.7,297.1 L263.5,297.2 L264.7,297.2 L266.0,297.1 L267.6,297.2 L269.2,297.3 L270.2,297.5 L271.4,297.9 L272.7,298.0 L273.8,298.0 L275.2,297.9 L277.0,297.5 L278.7,297.4 L280.3,297.4 L281.7,297.3 L282.0,297.1 L282.2,297.2" fill="none" stroke="#c8c7b1" stroke-width="0.55"/>
<path d="M155.4,299.3 L155.5,299.2 L156.2,299.3 L157.6,299.1 L158.9,298.8 L159.7,298.9 L160.9,298.9 L162.6,298.8 L164.0,298.7 L165.3,298.5 L166.7,298.4 L168.2,298.0 L169.8,298.0 L171.0,298.3 L172.1,298.0 L173.4,298.0 L174.7,298.6 L176.0,298.9 L177.3,298.8 L178.5,298.6 L180.0,298.7 L181.2,298.9 L182.3,299.0 L183.4,299.1 L184.8,299.2 L186.1,299.4 L187.2,299.1 L188.5,298.8 L189.5,299.2 L190.6,300.1 L191.9,300.4 L193.1,300.1 L194.2,299.8 L195.8,299.7 L197.6,299.8 L199.0,299.6 L199.9,299.1 L201.3,299.0 L203.0,298.9 L204.3,298.5 L205.4,298.4 L206.4,298.6 L207.1,298.6 L208.0,298.6 L208.9,298.5 L210.7,299.4 L210.9,301.2 L211.6,301.8 L212.3,302.5 L212.9,303.7 L213.4,305.1 L213.8,306.7 L214.3,307.6 L215.3,308.5 L215.9,309.4 L216.3,310.9 L216.7,312.6 L217.1,313.9 L217.6,314.9 L218.5,315.8 L219.1,316.7 L219.6,318.0 L219.9,319.9 L220.1,321.1 L220.5,322.0 L220.8,323.1 L220.7,324.4 L220.6,325.9 L220.9,327.5 L220.9,328.7 L220.7,329.7 L220.9,330.9 L221.3,332.1 L221.7,333.0 L222.1,334.3 L222.4,335.7 L222.9,336.9 L223.6,337.5 L224.5,338.1 L225.8,338.8 L226.9,339.1 L228.4,339.1 L230.1,339.3 L231.3,339.6 L232.7,340.0 L234.7,340.1 L236.2,339.7 L237.1,339.1 L237.3,338.1 L236.8,336.8 L236.6,335.6 L236.6,334.7 L236.5,333.5 L236.4,331.9 L236.3,330.6 L236.8,329.4 L237.8,328.5 L238.8,327.7 L239.7,326.3 L240.4,324.7 L241.2,323.3 L241.7,322.3 L241.6,321.5 L241.8,320.0 L242.1,318.4 L241.9,317.3 L241.7,316.5 L241.7,314.9 L241.2,313.0 L240.8,311.8 L240.7,310.9 L240.7,309.9 L240.7,308.9 L241.0,307.5 L242.0,306.3 L243.4,305.1 L244.7,304.4 L246.0,304.0 L247.0,303.1 L247.6,301.5 L247.8,300.3 L248.4,299.1 L249.9,298.3 L250.6,298.1 L251.5,297.8 L252.6,297.6 L254.0,297.7 L255.4,297.7 L256.9,297.8 L258.4,297.4 L260.0,296.9 L261.6,296.7 L262.7,296.5 L263.3,296.5 L264.5,296.8 L266.2,297.0 L267.8,297.3 L269.2,297.8 L270.7,298.1 L271.8,298.1 L272.5,298.2 L273.6,298.4 L274.7,298.6 L276.1,298.7 L277.8,298.2 L279.3,297.7 L280.6,297.4 L281.7,296.9 L282.0,296.2" fill="none" stroke="#bdbca4" stroke-width="0.55"/>
<path d="M154.5,298.5 L154.7,298.7 L155.3,298.8 L156.4,298.4 L157.4,298.2 L158.3,298.3 L159.7,298.6 L161.4,298.6 L163.0,298.4 L164.1,298.4 L165.1,298.5 L166.5,298.6 L168.0,298.8 L169.6,298.6 L171.2,298.4 L172.2,298.5 L173.1,298.5 L174.4,298.2 L175.6,298.4 L176.6,298.7 L177.9,298.8 L179.4,298.4 L180.6,298.0 L181.9,298.1 L183.2,298.5 L184.3,298.6 L185.4,298.7 L186.6,298.9 L187.9,299.0 L189.4,299.0 L191.0,298.9 L192.5,298.8 L193.9,298.7 L195.1,298.7 L196.1,298.7 L197.3,298.9 L199.0,299.1 L200.4,299.3 L201.3,299.3 L202.3,298.9 L203.5,298.9 L204.7,299.3 L205.8,299.4 L207.2,299.3 L208.0,298.9 L210.1,298.8 L211.0,299.4 L211.5,300.7 L212.1,301.9 L212.4,302.6 L212.8,303.7 L213.2,305.0 L213.7,306.8 L214.2,308.3 L214.6,309.2 L214.9,310.4 L214.8,311.6 L214.8,312.7 L215.5,314.0 L216.1,315.5 L216.4,316.5 L216.6,317.5 L217.2,319.0 L217.3,320.3 L217.3,321.5 L217.6,322.6 L218.1,324.1 L218.3,325.2 L218.3,326.2 L218.5,327.6 L219.0,329.1 L219.5,330.5 L219.8,331.7 L219.9,333.0 L220.0,334.0 L220.7,335.5 L221.3,337.0 L221.6,338.5 L222.1,339.3 L223.3,339.5 L224.9,339.8 L226.6,340.4 L228.2,340.6 L229.4,340.3 L230.8,339.9 L232.2,339.5 L233.5,338.6 L234.8,337.4 L235.6,336.7 L236.6,335.8 L237.6,335.0 L238.9,334.7 L239.9,334.0 L240.2,332.4 L240.6,330.9 L241.0,329.8 L240.8,328.9 L240.4,327.7 L239.9,326.1 L239.3,324.6 L239.0,323.5 L239.3,322.0 L239.5,320.2 L239.6,319.1 L239.7,318.2 L239.9,317.1 L240.5,315.6 L241.1,314.3 L241.9,313.3 L242.5,312.0 L243.0,310.5 L243.4,309.4 L243.7,308.4 L244.1,307.2 L244.5,305.4 L244.2,303.9 L244.0,302.6 L244.1,301.8 L244.5,301.0 L245.3,300.2 L246.5,299.6 L247.8,299.1 L249.1,298.9 L250.7,298.7 L251.6,298.3 L252.5,298.0 L253.7,297.9 L255.0,297.8 L256.5,297.7 L257.9,297.8 L259.4,297.9 L260.8,297.8 L262.0,297.7 L262.8,297.5 L264.0,297.1 L265.7,297.4 L267.0,297.7 L268.2,297.8 L269.5,297.4 L270.8,296.9 L272.1,297.0 L273.3,297.3 L274.5,297.1 L275.6,296.9 L276.9,297.2 L278.2,297.9 L279.9,298.1 L281.5,297.5 L282.4,297.2 L282.6,297.8" fill="none" stroke="#d2d1bd" stroke-width="0.55"/>
<path d="M154.9,298.4 L155.6,298.8 L156.4,298.8 L157.4,298.8 L158.5,298.8 L159.7,298.8 L160.8,298.4 L162.0,298.2 L163.7,298.2 L165.3,297.9 L166.6,297.9 L168.0,298.3 L169.6,298.4 L170.9,298.3 L172.0,298.2 L173.2,298.4 L174.6,298.8 L175.8,299.0 L177.0,299.0 L178.1,299.0 L179.2,299.0 L180.5,298.8 L181.9,298.9 L183.3,299.1 L184.3,299.4 L185.5,299.5 L187.0,299.5 L188.2,299.3 L189.2,299.2 L190.5,299.4 L192.0,299.3 L193.1,299.1 L194.2,299.2 L195.8,299.7 L197.3,299.7 L198.6,299.1 L199.8,298.9 L201.2,299.0 L202.7,299.3 L203.8,299.5 L204.9,299.3 L206.1,299.4 L206.9,299.6 L207.4,299.3 L209.7,299.8 L210.4,301.0 L211.1,302.0 L212.2,302.8 L212.6,304.2 L213.4,306.3 L213.9,306.7 L214.6,307.3 L215.5,308.4 L216.2,309.3 L216.7,310.6 L217.4,312.2 L218.0,313.6 L218.5,315.0 L219.1,316.4 L219.7,317.7 L220.2,318.5 L220.7,319.3 L220.9,320.6 L221.0,322.4 L221.3,323.8 L221.0,325.0 L220.7,326.4 L221.1,328.0 L221.5,329.3 L221.2,330.3 L221.1,331.5 L221.4,332.6 L221.6,334.9 L221.8,336.0 L222.8,336.8 L223.5,337.4 L224.6,338.1 L226.2,338.5 L227.9,339.0 L229.2,339.3 L230.3,339.6 L231.1,339.7 L232.5,339.7 L234.1,339.7 L235.5,339.6 L236.9,338.9 L238.0,337.9 L238.9,337.2 L239.5,336.6 L240.0,335.6 L240.2,334.3 L240.3,332.9 L240.3,332.0 L240.0,330.6 L239.7,329.0 L239.4,327.6 L238.8,326.0 L238.5,324.6 L238.5,323.6 L238.0,322.5 L237.8,321.3 L238.2,320.1 L238.7,318.5 L239.1,317.1 L239.7,316.0 L240.4,314.6 L241.4,313.1 L242.3,311.8 L243.0,310.8 L243.6,309.9 L244.2,309.1 L244.5,308.3 L244.5,306.6 L244.5,304.9 L245.0,303.6 L245.1,302.5 L245.0,301.5 L245.7,300.5 L247.0,299.8 L248.1,299.6 L249.2,299.5 L250.8,299.0 L251.9,298.5 L253.4,298.2 L254.8,298.1 L256.0,298.2 L256.8,298.3 L257.7,298.1 L259.2,297.7 L260.9,297.8 L262.3,297.9 L263.4,297.9 L264.3,297.7 L265.7,297.5 L267.3,297.8 L268.2,297.9 L269.3,297.5 L271.0,297.2 L272.6,297.1 L273.9,297.4 L275.0,297.5 L275.8,297.1 L277.7,297.3 L279.4,297.8 L280.3,297.9 L281.2,297.5 L282.8,296.8" fill="none" stroke="#aeac94" stroke-width="0.55"/>
<path d="M154.6,298.9 L155.5,299.1 L156.6,298.9 L157.5,298.7 L158.8,298.9 L160.2,299.0 L161.6,298.7 L162.7,298.6 L163.8,298.6 L165.4,298.6 L167.1,298.5 L168.5,298.3 L169.9,298.3 L171.6,298.5 L173.2,298.6 L174.1,298.7 L175.0,298.7 L176.3,298.5 L177.8,298.5 L179.0,298.4 L180.0,298.9 L181.2,299.6 L182.4,299.4 L183.8,299.1 L185.5,299.2 L187.0,299.4 L187.8,299.6 L188.7,299.7 L189.9,299.9 L190.7,300.2 L192.2,299.8 L193.9,299.5 L195.2,299.8 L196.5,300.0 L197.7,299.9 L199.0,299.9 L200.3,299.9 L201.7,299.7 L202.9,299.5 L204.1,299.6 L205.3,299.7 L206.5,299.7 L207.7,299.7 L208.7,299.9 L210.5,300.6 L210.5,302.1 L210.9,302.8 L211.7,303.9 L212.7,304.7 L213.5,305.4 L214.1,306.2 L215.3,307.3 L216.6,308.6 L217.2,310.0 L217.2,311.4 L217.4,312.5 L217.7,313.3 L217.4,314.3 L217.2,315.9 L217.5,317.6 L217.6,318.9 L217.7,319.7 L218.0,320.7 L218.2,321.7 L218.0,323.2 L217.9,324.7 L217.8,325.5 L217.9,326.9 L218.1,328.7 L218.0,330.1 L218.2,330.9 L219.0,331.8 L219.5,333.8 L219.6,335.3 L219.9,336.4 L220.7,337.4 L221.8,338.2 L222.6,339.0 L223.5,339.3 L224.7,339.5 L226.3,339.5 L227.7,339.2 L229.2,339.2 L230.7,339.4 L231.9,339.2 L233.1,338.8 L234.4,338.6 L235.9,338.3 L237.6,337.8 L238.7,337.1 L239.1,336.6 L238.8,335.7 L237.9,334.5 L237.3,333.0 L237.1,331.1 L237.8,330.2 L238.6,329.5 L238.8,328.5 L239.0,327.6 L239.7,326.6 L240.5,325.2 L240.8,323.9 L240.5,322.8 L240.7,321.2 L241.5,319.8 L241.9,318.7 L241.7,317.3 L241.8,316.0 L242.2,314.8 L242.3,313.4 L242.5,312.4 L242.9,311.0 L243.1,309.6 L243.0,308.5 L243.2,307.5 L243.3,305.9 L243.4,304.5 L243.5,303.4 L243.8,302.5 L244.3,301.8 L245.0,301.0 L245.9,299.7 L246.8,299.0 L248.3,299.1 L250.1,299.1 L251.4,299.1 L252.4,299.0 L253.1,298.7 L254.3,298.4 L255.9,298.3 L257.3,298.1 L258.5,298.1 L260.0,298.2 L261.4,298.1 L262.7,298.2 L264.0,298.3 L264.9,298.1 L266.2,298.0 L267.9,297.9 L269.1,297.7 L270.3,298.0 L271.5,298.4 L272.7,298.2 L273.9,297.8 L274.8,297.8 L276.2,298.1 L277.8,298.1 L279.5,297.9 L280.7,297.5 L281.5,297.1 L282.3,297.1" fill="none" stroke="#c4c3ad" stroke-width="0.55"/>
<path d="M219.6,295.7 Q222.1,295.7 222.1,298.7 L223.5,329 A6.2,6.2 0 0 0 235.9,329 L237.3,298.7 Q237.3,295.7 239.8,295.7 L239.8,295.7 C240.63,295.6 242.13,295.28 244.8,295.1 C247.47,294.92 252.92,294.9 255.8,294.6 C258.68,294.3 260.42,294.02 262.1,293.3 C263.78,292.58 264.98,291.52 265.9,290.3 C266.82,289.08 267.33,287.55 267.6,286 C267.87,284.45 267.75,282.83 267.5,281 C267.25,279.17 266.77,276.92 266.1,275 C265.43,273.08 264.55,271.28 263.5,269.5 C262.45,267.72 261.17,265.87 259.8,264.3 C258.43,262.73 256.97,261.35 255.3,260.1 C253.63,258.85 251.8,257.72 249.8,256.8 C247.8,255.88 245.22,255 243.3,254.6 C241.38,254.2 240.22,254.25 238.3,254.4 C236.38,254.55 234.13,254.85 231.8,255.5 C229.47,256.15 226.72,257.23 224.3,258.3 C221.88,259.37 219.47,260.62 217.3,261.9 C215.13,263.18 213.3,264.63 211.3,266 C209.3,267.37 207.22,268.93 205.3,270.1 C203.38,271.27 201.88,272.18 199.8,273 C197.72,273.82 195.13,274.25 192.8,275 C190.47,275.75 187.88,276.5 185.8,277.5 C183.72,278.5 181.85,279.75 180.3,281 C178.75,282.25 177.47,283.67 176.5,285 C175.53,286.33 174.7,287.75 174.5,289 C174.3,290.25 174.67,291.58 175.3,292.5 C175.93,293.42 176.97,294 178.3,294.5 C179.63,295 180.8,295.3 183.3,295.5 C185.8,295.7 189.13,295.65 193.3,295.7 C197.47,295.75 203.92,295.8 208.3,295.8 C212.68,295.8 217.72,295.72 219.6,295.7 Z" fill="url(#cg)" stroke="#bac8ec" stroke-width="0.5"/>
<path d="M217.6,279 C217.8,278.33 218.02,276.08 218.8,275 C219.58,273.92 220.72,273.1 222.3,272.5 C223.88,271.9 226.13,271.62 228.3,271.4 C230.47,271.18 232.97,271.15 235.3,271.2 C237.63,271.25 240.38,271.35 242.3,271.7 C244.22,272.05 245.72,272.58 246.8,273.3 C247.88,274.02 248.55,275.05 248.8,276 C249.05,276.95 248.88,278.03 248.3,279 C247.72,279.97 246.63,281.12 245.3,281.8 C243.97,282.48 241.97,282.97 240.3,283.1 C238.63,283.23 236.72,282.87 235.3,282.6 C233.88,282.33 232.97,281.5 231.8,281.5 C230.63,281.5 229.55,282.32 228.3,282.6 C227.05,282.88 225.63,283.28 224.3,283.2 C222.97,283.12 221.37,282.58 220.3,282.1 C219.23,281.62 218.35,280.82 217.9,280.3 C217.45,279.78 217.65,279.22 217.6,279 Z" fill="#c3cfee"/>
<path d="M248.8,276 C248.72,276.5 248.88,278.03 248.3,279 C247.72,279.97 246.63,281.12 245.3,281.8 C243.97,282.48 241.97,282.97 240.3,283.1 C238.63,283.23 236.72,282.87 235.3,282.6 C233.88,282.33 232.97,281.5 231.8,281.5 C230.63,281.5 229.55,282.32 228.3,282.6 C227.05,282.88 225.63,283.28 224.3,283.2 C222.97,283.12 221.37,282.58 220.3,282.1 C219.23,281.62 218.3,280.6 217.9,280.3" fill="none" stroke="#a2b1d9" stroke-width="0.7" opacity="0.9"/>
<rect x="218.7" y="305.6" width="7.7" height="5.4" rx="1.2" fill="#e99b2c"/><rect x="219.1" y="306.79" width="6.9" height="3.02" fill="#f3c777"/><line x1="219.3" y1="308.3" x2="225.8" y2="308.3" stroke="#e9a646" stroke-width="0.5"/>
<rect x="232.6" y="311" width="7.4" height="6.2" rx="1.2" fill="#e99b2c"/><rect x="233" y="312.36" width="6.6" height="3.47" fill="#f3c777"/><line x1="233.2" y1="314.1" x2="239.4" y2="314.1" stroke="#e9a646" stroke-width="0.5"/>
<rect x="225.55" y="297.65" width="1.7" height="1.7" rx="0.5" fill="#2b3370"/>
<rect x="227.15" y="303.65" width="1.7" height="1.7" rx="0.5" fill="#2b3370"/>
<rect x="232.65" y="302.65" width="1.7" height="1.7" rx="0.5" fill="#2b3370"/>
<rect x="230.15" y="308.15" width="1.7" height="1.7" rx="0.5" fill="#2b3370"/>
<rect x="225.65" y="311.65" width="1.7" height="1.7" rx="0.5" fill="#2b3370"/>
<rect x="228.15" y="315.65" width="1.7" height="1.7" rx="0.5" fill="#2b3370"/>
<rect x="232.15" y="317.65" width="1.7" height="1.7" rx="0.5" fill="#2b3370"/>
<rect x="224.65" y="319.65" width="1.7" height="1.7" rx="0.5" fill="#2b3370"/>
<rect x="228.15" y="322.65" width="1.7" height="1.7" rx="0.5" fill="#2b3370"/>
<rect x="231.65" y="326.15" width="1.7" height="1.7" rx="0.5" fill="#2b3370"/>
<rect x="227.65" y="328.65" width="1.7" height="1.7" rx="0.5" fill="#2b3370"/>
<line x1="255.5" y1="305" x2="255.5" y2="334.3" stroke="#222" stroke-width="0.8"/><path d="M254.0,307.5 L255.5,304 L257.0,307.5 Z" fill="#222"/><path d="M254.0,331.8 L255.5,335.3 L257.0,331.8 Z" fill="#222"/>
<text x="258.1" y="325.4" font-size="13.6" text-anchor="start" fill="#231f20" font-family='"Liberation Sans", sans-serif' textLength="21.2" lengthAdjust="spacingAndGlyphs">Osc</text>
<path d="M293.4,298.8 L294.3,298.8 L295.2,299.0 L296.4,299.2 L297.8,299.1 L299.0,298.8 L300.0,298.6 L300.8,298.5 L301.9,298.0 L303.3,297.8 L304.5,298.2 L306.0,298.1 L307.6,297.9 L308.9,297.8 L310.3,298.1 L311.8,298.5 L313.1,298.7 L314.4,298.4 L315.7,298.2 L316.7,298.2 L317.8,298.4 L319.1,298.1 L320.5,297.7 L321.7,298.0 L322.6,298.5 L323.8,298.7 L325.4,298.8 L326.8,298.8 L327.9,299.0 L329.0,298.9 L330.5,298.6 L331.8,298.6 L332.9,299.0 L334.3,299.2 L336.0,299.1 L337.7,299.3 L338.9,299.6 L340.1,299.4 L341.3,299.3 L342.4,299.2 L343.5,299.0 L344.8,299.1 L346.2,299.4 L347.5,299.4 L348.4,299.6 L349.1,299.7 L349.8,299.8 L352.1,299.6 L352.8,301.0 L353.4,301.7 L354.1,302.5 L354.6,303.7 L354.8,305.1 L354.9,306.4 L355.4,307.7 L356.0,309.3 L356.1,311.0 L356.3,312.0 L357.0,313.0 L357.7,314.6 L358.0,315.5 L358.4,316.2 L358.9,317.4 L359.5,318.8 L360.3,320.1 L361.0,321.5 L361.4,322.4 L361.7,323.4 L362.1,324.6 L362.6,325.5 L362.9,326.5 L362.9,327.8 L363.1,329.3 L363.6,330.7 L364.2,331.8 L364.1,333.2 L363.8,334.7 L363.6,336.1 L363.4,337.6 L363.5,339.1 L363.8,340.2 L363.8,341.2 L363.8,341.9 L363.6,344.3 L363.2,346.0 L363.6,347.1 L364.2,347.6 L365.0,348.2 L366.0,348.7 L367.3,349.4 L368.7,350.1 L370.1,350.1 L371.4,349.9 L372.9,350.0 L374.3,349.4 L375.8,348.3 L376.8,347.7 L377.8,347.4 L379.2,346.7 L380.1,346.1 L380.8,345.1 L381.5,342.7 L381.7,341.5 L381.7,340.4 L381.7,339.4 L381.5,338.2 L381.1,336.8 L380.8,335.7 L380.7,334.7 L380.7,333.3 L380.6,331.8 L380.5,330.6 L380.5,329.5 L380.7,328.1 L381.1,326.9 L381.0,325.9 L381.0,324.6 L381.6,323.7 L382.7,322.8 L383.6,321.2 L384.2,319.8 L385.0,318.6 L386.0,317.4 L387.0,316.7 L387.8,316.0 L388.4,314.9 L388.6,313.8 L388.9,312.6 L389.3,311.1 L389.1,309.6 L388.5,308.1 L388.1,306.4 L387.6,305.0 L387.2,303.8 L387.0,302.8 L386.8,301.9 L386.5,300.8 L386.5,299.9 L387.2,298.8 L388.4,298.2 L390.0,297.8 L391.9,297.5 L393.7,297.8 L394.7,298.1 L395.8,298.0 L397.2,297.9 L398.9,298.0 L400.3,297.9 L401.5,297.5 L402.7,297.4 L404.3,297.6 L405.8,297.6 L407.4,297.7 L408.7,298.2 L410.0,298.8 L411.0,298.7 L411.4,298.5 L412.3,298.8 L414.0,299.1 L415.4,299.1 L416.7,298.5 L418.4,297.8 L420.1,297.5 L421.5,296.9 L422.9,296.2 L423.9,295.9" fill="none" stroke="#b4b29a" stroke-width="0.55"/>
<path d="M294.8,299.0 L295.3,298.8 L296.2,298.8 L297.2,298.9 L298.3,299.1 L299.5,298.8 L301.3,298.5 L302.7,298.7 L304.0,298.8 L305.4,298.3 L306.6,298.0 L307.8,298.3 L309.2,298.4 L310.8,298.2 L312.2,298.2 L313.4,298.2 L314.6,298.1 L316.1,298.4 L317.2,298.4 L318.2,298.2 L319.2,298.2 L320.1,298.2 L321.4,298.2 L323.0,298.2 L324.1,298.2 L325.3,298.4 L326.8,298.6 L328.4,298.9 L329.5,299.1 L330.7,299.1 L332.1,299.0 L333.4,299.3 L334.7,299.6 L335.8,299.6 L337.0,299.5 L338.3,299.1 L339.7,299.0 L341.2,299.1 L342.7,299.1 L343.7,299.2 L344.8,299.3 L346.0,299.4 L347.0,299.1 L348.0,298.6 L348.9,298.7 L350.9,299.1 L351.3,299.5 L352.1,301.2 L352.7,302.1 L353.3,302.6 L353.8,303.5 L354.1,304.5 L354.8,305.5 L355.8,307.0 L356.5,308.5 L356.9,309.9 L357.7,311.4 L358.3,312.7 L358.2,313.8 L358.4,315.1 L359.0,316.6 L359.4,317.9 L359.4,318.9 L359.5,319.9 L359.4,321.1 L359.6,322.5 L359.9,323.9 L360.2,324.9 L360.8,326.0 L361.4,327.8 L361.5,329.2 L361.7,330.0 L361.7,331.2 L361.7,332.8 L361.6,334.3 L361.6,335.8 L362.3,337.2 L362.7,338.6 L362.6,339.6 L362.9,340.5 L363.3,341.7 L363.5,343.3 L363.5,344.5 L363.5,345.7 L363.7,347.0 L364.1,348.1 L364.9,348.9 L365.7,349.3 L366.6,349.8 L368.2,350.2 L369.5,350.4 L370.4,350.7 L371.6,350.5 L373.0,350.1 L374.0,349.8 L375.1,349.4 L376.7,348.7 L378.5,347.8 L379.5,347.1 L380.3,346.4 L380.8,345.5 L381.3,343.0 L381.5,342.2 L381.4,340.9 L381.3,339.9 L381.6,339.0 L381.5,337.9 L381.2,336.6 L381.3,335.2 L381.6,333.7 L381.5,332.4 L381.4,331.3 L381.6,330.2 L381.6,328.8 L381.4,327.7 L381.6,326.3 L382.0,324.7 L381.9,323.3 L382.0,322.2 L382.5,321.0 L382.8,320.0 L383.3,318.6 L383.9,317.4 L383.9,316.4 L384.0,314.8 L384.2,313.6 L384.4,313.2 L384.9,312.6 L385.8,311.2 L386.4,309.7 L387.2,308.2 L387.9,306.4 L388.3,305.3 L389.1,304.5 L390.2,303.5 L390.6,302.7 L390.5,302.2 L390.7,300.4 L390.8,299.2 L391.5,297.7 L392.0,297.2 L393.3,297.2 L394.8,296.9 L395.9,296.7 L396.8,296.9 L398.1,297.1 L400.0,297.1 L401.5,297.2 L402.5,297.2 L403.8,297.3 L405.2,297.4 L406.6,297.6 L408.2,297.8 L409.5,297.9 L410.5,298.0 L411.7,298.1 L413.2,298.0 L414.3,298.2 L415.1,298.2 L416.5,297.9 L418.1,297.8 L419.6,297.8 L420.8,297.8 L421.7,297.2 L422.4,296.7" fill="none" stroke="#c8c7b1" stroke-width="0.55"/>
<path d="M294.1,299.6 L295.2,298.9 L296.1,299.0 L297.0,298.9 L298.0,298.8 L299.1,298.8 L300.4,298.3 L301.9,298.2 L303.3,298.3 L304.6,298.3 L305.6,298.5 L306.9,298.6 L308.4,298.5 L309.9,298.5 L311.7,298.5 L313.3,298.2 L314.4,298.0 L315.6,298.0 L316.6,298.1 L317.6,298.4 L318.9,298.6 L320.3,298.6 L321.6,298.7 L322.8,298.8 L324.0,298.9 L325.1,299.0 L326.3,299.3 L327.3,299.7 L328.5,299.6 L330.1,299.2 L331.3,299.5 L332.2,299.7 L333.3,299.5 L334.7,299.1 L336.2,298.9 L337.6,298.9 L338.9,298.9 L340.2,299.2 L341.8,299.3 L343.5,299.0 L344.6,298.9 L345.4,299.0 L346.6,299.2 L347.8,299.4 L348.8,299.3 L349.8,299.1 L352.1,299.0 L353.2,299.1 L354.2,299.3 L355.0,300.1 L355.1,301.0 L355.2,302.2 L355.4,303.2 L355.6,304.4 L355.8,306.0 L355.8,307.4 L355.9,308.4 L356.3,309.4 L356.7,311.0 L356.6,312.5 L356.6,313.7 L356.9,314.7 L357.0,316.2 L356.6,317.6 L356.3,318.7 L356.5,319.6 L357.0,320.8 L357.2,322.3 L357.3,323.8 L357.7,324.9 L357.9,326.1 L357.4,327.7 L357.4,329.0 L357.8,330.3 L358.2,331.6 L358.6,332.8 L358.8,333.7 L359.0,334.9 L359.2,336.1 L359.2,337.5 L359.3,339.2 L359.7,340.5 L359.9,341.2 L360.3,341.7 L360.6,342.6 L361.2,344.3 L361.8,345.4 L362.7,346.1 L364.1,346.9 L365.7,347.6 L366.8,348.4 L368.5,349.4 L369.9,349.6 L371.2,349.5 L372.4,349.0 L373.5,348.1 L374.8,347.2 L375.8,346.9 L376.8,346.4 L378.1,345.2 L379.4,343.1 L379.5,342.4 L380.0,341.3 L380.3,340.2 L380.3,339.2 L380.4,338.0 L380.7,336.8 L381.0,335.5 L381.6,334.2 L382.2,332.9 L382.4,331.4 L382.4,329.5 L382.7,328.1 L383.0,327.1 L383.5,326.1 L383.8,325.0 L384.0,323.5 L384.1,322.0 L384.3,320.6 L384.5,319.4 L384.8,318.2 L384.9,317.2 L385.1,316.2 L385.6,314.9 L386.0,313.5 L386.0,312.3 L386.1,311.2 L386.3,309.7 L386.8,308.3 L387.8,307.2 L388.6,306.3 L388.7,305.1 L389.1,303.8 L389.8,302.6 L390.3,301.7 L390.7,300.1 L390.9,298.8 L392.4,298.0 L393.1,297.7 L394.0,297.5 L395.5,297.5 L396.8,297.5 L397.8,297.5 L399.1,297.7 L400.6,298.0 L402.0,297.9 L403.3,297.4 L404.6,297.2 L405.4,297.4 L406.9,297.7 L408.9,297.9 L410.3,297.9 L411.2,297.9 L412.3,297.9 L413.8,298.1 L415.1,298.1 L416.3,297.9 L418.0,298.0 L419.6,297.9 L421.1,297.4 L422.5,297.5 L423.8,297.6" fill="none" stroke="#bdbca4" stroke-width="0.55"/>
<path d="M293.5,298.7 L294.3,298.8 L295.3,298.9 L296.5,299.0 L297.7,298.8 L298.9,298.5 L300.3,298.5 L301.7,298.5 L302.9,298.4 L304.0,298.8 L305.3,298.8 L306.9,298.3 L308.9,297.7 L310.3,297.5 L311.5,297.8 L312.8,298.4 L314.1,298.4 L315.2,298.1 L316.2,297.9 L317.1,297.9 L318.5,298.3 L319.8,298.7 L320.8,299.0 L322.0,299.3 L323.6,299.5 L324.9,299.4 L326.2,299.5 L327.4,299.6 L328.6,299.5 L330.2,299.6 L331.7,299.8 L332.8,299.8 L333.7,299.5 L335.1,299.3 L336.6,299.6 L337.9,299.7 L338.9,299.6 L340.1,299.4 L341.6,299.2 L343.2,299.1 L344.5,299.0 L345.6,299.2 L346.6,298.9 L347.7,298.5 L348.7,298.8 L349.4,299.0 L351.3,299.4 L352.7,300.4 L353.3,301.1 L354.1,301.8 L354.8,303.3 L354.6,304.1 L354.3,305.1 L354.0,306.4 L353.5,307.6 L352.8,308.8 L352.7,310.1 L353.5,311.4 L354.1,312.9 L354.1,314.0 L354.4,315.1 L355.0,315.8 L355.8,316.8 L356.4,317.8 L357.1,319.1 L357.7,320.6 L358.2,321.4 L359.1,322.4 L359.8,323.5 L360.4,324.4 L361.1,325.4 L361.8,326.8 L362.4,328.0 L362.7,329.4 L362.6,330.9 L362.6,332.0 L362.3,333.2 L361.9,334.4 L361.8,335.6 L361.5,336.9 L360.9,337.9 L360.5,338.7 L360.3,340.0 L360.4,341.7 L360.2,342.6 L359.9,343.9 L360.1,345.2 L360.9,346.1 L361.9,347.2 L362.9,348.3 L363.7,348.9 L364.5,348.9 L365.7,348.9 L367.5,349.0 L368.8,349.3 L369.8,349.4 L371.0,349.1 L372.5,348.8 L373.8,348.9 L375.2,348.9 L376.4,348.7 L377.5,348.2 L378.3,347.6 L378.7,347.1 L379.3,346.4 L378.9,345.7 L378.0,344.6 L377.8,342.4 L377.9,341.4 L377.9,340.6 L378.2,339.6 L378.9,338.3 L379.4,337.3 L379.9,336.2 L380.4,334.8 L380.9,333.3 L381.3,331.8 L381.6,330.5 L381.8,329.2 L382.0,328.0 L382.6,326.8 L383.0,325.6 L383.4,324.4 L383.8,322.9 L384.4,321.5 L385.1,320.4 L385.8,319.3 L386.1,317.9 L386.1,316.6 L385.9,315.5 L386.1,314.6 L386.6,313.6 L387.0,312.5 L387.1,311.6 L386.9,309.9 L387.1,308.1 L387.8,307.0 L388.0,305.7 L387.7,304.3 L387.7,303.3 L388.0,302.2 L388.0,301.3 L388.5,300.0 L389.5,299.6 L391.3,299.5 L392.4,299.4 L394.1,298.8 L395.3,298.1 L396.2,297.9 L397.4,297.9 L399.0,297.9 L400.4,297.7 L401.6,297.6 L402.7,297.5 L403.8,297.2 L404.8,297.0 L406.0,297.0 L407.2,297.2 L408.8,297.6 L410.7,298.2 L412.4,298.4 L413.5,297.9 L414.6,297.6 L415.6,297.7 L417.0,297.9 L418.5,297.6 L420.3,297.2 L421.8,296.7 L422.8,296.5 L423.1,296.9" fill="none" stroke="#d2d1bd" stroke-width="0.55"/>
<path d="M294.1,297.4 L295.1,299.1 L296.3,299.2 L297.4,299.2 L298.4,299.2 L299.5,298.6 L300.7,298.4 L302.3,298.6 L303.8,298.5 L305.0,298.3 L306.3,298.2 L307.9,298.2 L309.6,298.1 L310.8,297.8 L312.2,297.6 L313.6,297.5 L314.9,297.5 L316.0,297.9 L317.1,298.3 L318.1,298.2 L319.3,297.9 L320.7,297.9 L321.9,298.6 L323.0,298.7 L324.5,298.3 L325.7,298.0 L327.1,297.9 L328.5,298.2 L329.7,298.5 L330.9,298.8 L332.2,299.2 L333.7,299.2 L334.9,299.2 L336.1,299.0 L337.4,298.8 L339.1,299.2 L340.9,299.5 L342.5,299.3 L343.6,299.2 L344.7,299.4 L346.0,299.5 L347.6,299.4 L348.8,299.2 L349.3,299.1 L350.0,299.5 L350.9,299.9 L352.7,300.3 L352.8,302.0 L353.2,303.0 L353.6,304.2 L354.3,305.4 L355.3,306.6 L355.9,307.5 L356.2,308.7 L356.5,310.2 L357.0,311.6 L357.7,313.1 L357.8,314.2 L357.7,314.7 L357.6,315.7 L357.5,317.1 L357.1,318.3 L356.7,319.7 L356.3,321.1 L355.9,322.1 L356.0,323.4 L356.1,325.2 L355.9,326.6 L356.0,327.6 L356.4,328.6 L357.0,329.7 L357.5,331.1 L358.0,332.4 L358.2,333.1 L358.5,334.0 L359.2,335.6 L359.5,337.1 L360.0,338.4 L361.0,339.6 L362.1,340.5 L362.3,341.4 L362.2,342.3 L362.6,343.2 L363.2,345.5 L363.3,346.6 L363.5,347.4 L363.9,348.1 L364.7,348.4 L366.2,349.0 L367.5,349.6 L368.6,349.8 L369.8,349.9 L371.1,350.0 L372.7,350.0 L374.1,350.1 L375.5,349.6 L376.8,348.9 L377.8,348.3 L378.4,347.8 L378.8,347.2 L379.3,346.5 L380.0,345.5 L380.7,344.0 L381.5,342.3 L381.8,341.5 L381.9,340.3 L382.3,339.1 L382.4,337.8 L382.4,336.6 L382.6,335.6 L382.7,334.5 L382.7,333.1 L382.9,331.6 L383.1,330.3 L383.4,329.0 L383.3,327.8 L383.4,326.5 L383.7,325.1 L383.9,323.6 L383.9,322.3 L384.1,321.6 L384.6,320.8 L384.9,319.0 L385.3,317.3 L385.6,316.3 L385.7,314.9 L385.6,313.5 L385.5,312.5 L385.9,311.0 L386.2,309.3 L386.2,307.8 L386.5,306.5 L387.2,305.2 L387.8,304.0 L388.3,303.0 L388.6,301.9 L388.6,300.8 L388.6,299.7 L389.2,298.2 L390.2,298.3 L392.4,298.2 L393.5,297.9 L394.4,297.9 L395.4,298.1 L396.7,298.1 L398.3,297.9 L399.8,297.7 L400.9,297.7 L402.0,298.0 L403.2,298.0 L404.5,297.8 L406.0,297.9 L407.7,298.0 L409.2,297.9 L410.6,297.9 L412.0,298.3 L412.9,298.3 L413.9,298.1 L415.2,298.1 L416.7,298.0 L418.3,297.9 L419.9,298.0 L421.2,297.9 L422.4,297.5 L423.6,297.1 L424.5,296.8" fill="none" stroke="#aeac94" stroke-width="0.55"/>
<path d="M294.1,299.5 L295.0,298.9 L296.1,298.9 L296.9,299.3 L297.6,299.3 L299.0,299.1 L300.5,298.6 L301.8,298.3 L303.2,298.5 L304.5,298.6 L305.6,298.3 L307.0,298.1 L308.6,298.3 L310.3,298.5 L311.9,298.6 L312.9,298.6 L313.8,298.5 L315.0,298.2 L316.4,298.7 L317.9,299.1 L319.2,298.8 L320.1,298.3 L321.2,298.4 L322.7,298.7 L324.2,298.7 L325.4,298.8 L326.6,298.9 L327.6,298.8 L328.5,298.7 L329.8,298.7 L331.5,298.8 L333.1,298.9 L334.3,299.2 L335.4,299.2 L337.1,298.9 L338.5,299.1 L339.9,299.3 L341.5,299.3 L342.9,299.1 L344.1,299.0 L345.2,299.4 L346.2,299.9 L347.0,299.9 L348.2,299.7 L349.3,299.9 L351.8,300.4 L353.4,300.5 L354.1,300.8 L354.7,302.0 L355.0,303.0 L354.6,304.3 L353.8,305.8 L353.2,306.9 L353.0,307.9 L353.2,309.3 L353.0,311.0 L352.7,312.6 L353.1,313.6 L353.9,314.6 L354.7,315.3 L355.2,316.1 L355.7,317.3 L356.8,318.4 L358.2,319.6 L359.3,320.7 L359.9,321.6 L360.5,322.6 L361.0,324.0 L361.1,325.2 L361.2,325.9 L361.8,327.3 L362.0,328.9 L361.7,330.1 L361.5,331.2 L361.5,332.6 L361.0,333.7 L360.3,335.0 L360.2,336.7 L360.1,338.3 L359.7,339.4 L359.6,340.4 L359.6,341.6 L359.6,342.6 L360.0,344.5 L361.0,345.7 L362.4,346.0 L363.5,346.1 L364.6,346.8 L365.7,347.7 L366.6,348.7 L367.7,349.4 L369.2,350.1 L370.8,350.7 L371.6,350.4 L372.3,350.0 L373.8,349.7 L375.8,349.8 L377.0,349.8 L377.7,349.2 L378.4,348.4 L379.1,347.8 L380.0,347.0 L380.9,345.7 L381.5,344.4 L381.9,343.0 L382.0,342.2 L382.1,340.7 L382.0,339.0 L381.9,337.8 L381.7,336.9 L381.5,335.7 L381.5,334.6 L381.8,333.4 L381.8,331.6 L381.7,330.0 L382.1,328.9 L382.4,327.7 L382.8,326.6 L383.3,325.4 L384.0,324.2 L384.6,323.1 L385.2,321.5 L386.3,320.2 L387.2,319.2 L387.8,318.4 L388.3,317.5 L388.6,316.3 L388.9,315.3 L389.6,314.2 L390.3,312.8 L390.8,311.7 L390.9,310.4 L390.6,309.3 L390.0,308.2 L389.5,307.0 L388.8,305.5 L387.9,303.8 L387.7,302.9 L387.5,302.0 L387.3,300.5 L387.3,299.7 L387.6,298.6 L388.8,298.1 L390.4,297.9 L391.9,297.7 L392.5,297.3 L394.0,297.3 L395.6,297.1 L396.7,296.8 L397.8,296.8 L399.0,296.9 L400.4,296.9 L402.1,296.9 L403.3,297.1 L404.6,297.5 L406.2,297.7 L407.6,297.4 L408.8,297.4 L410.0,297.8 L411.3,297.9 L412.7,298.0 L413.7,298.3 L414.8,298.5 L416.6,298.4 L418.2,298.2 L419.6,297.7 L421.3,297.2 L422.3,297.2 L423.1,297.5 L424.3,297.0" fill="none" stroke="#c4c3ad" stroke-width="0.55"/>
<path d="M361,294.8 Q363.5,294.8 363.5,297.8 L363.95,338.25 A7.25,7.25 0 0 0 378.45,338.25 L378.9,297.8 Q378.9,294.8 381.4,294.8 L381.4,294.8 C382.19,294.7 383.52,294.38 386.15,294.2 C388.77,294.02 394.27,294 397.15,293.7 C400.03,293.4 401.77,293.12 403.45,292.4 C405.13,291.68 406.33,290.62 407.25,289.4 C408.17,288.18 408.68,286.65 408.95,285.1 C409.22,283.55 409.1,281.93 408.85,280.1 C408.6,278.27 408.12,276.02 407.45,274.1 C406.78,272.18 405.9,270.38 404.85,268.6 C403.8,266.82 402.52,264.97 401.15,263.4 C399.78,261.83 398.32,260.45 396.65,259.2 C394.98,257.95 393.15,256.82 391.15,255.9 C389.15,254.98 386.57,254.1 384.65,253.7 C382.73,253.3 381.57,253.35 379.65,253.5 C377.73,253.65 375.48,253.95 373.15,254.6 C370.82,255.25 368.07,256.33 365.65,257.4 C363.23,258.47 360.82,259.72 358.65,261 C356.48,262.28 354.65,263.73 352.65,265.1 C350.65,266.47 348.57,268.03 346.65,269.2 C344.73,270.37 343.23,271.28 341.15,272.1 C339.07,272.92 336.48,273.35 334.15,274.1 C331.82,274.85 329.23,275.6 327.15,276.6 C325.07,277.6 323.2,278.85 321.65,280.1 C320.1,281.35 318.82,282.77 317.85,284.1 C316.88,285.43 316.05,286.85 315.85,288.1 C315.65,289.35 316.02,290.68 316.65,291.6 C317.28,292.52 318.32,293.1 319.65,293.6 C320.98,294.1 322.15,294.4 324.65,294.6 C327.15,294.8 330.48,294.75 334.65,294.8 C338.82,294.85 345.26,294.9 349.65,294.9 C354.04,294.9 359.11,294.82 361,294.8 Z" fill="url(#cg)" stroke="#bac8ec" stroke-width="0.5"/>
<path d="M358.95,278.1 C359.15,277.43 359.37,275.18 360.15,274.1 C360.93,273.02 362.07,272.2 363.65,271.6 C365.23,271 367.48,270.72 369.65,270.5 C371.82,270.28 374.32,270.25 376.65,270.3 C378.98,270.35 381.73,270.45 383.65,270.8 C385.57,271.15 387.07,271.68 388.15,272.4 C389.23,273.12 389.9,274.15 390.15,275.1 C390.4,276.05 390.23,277.13 389.65,278.1 C389.07,279.07 387.98,280.22 386.65,280.9 C385.32,281.58 383.32,282.07 381.65,282.2 C379.98,282.33 378.07,281.97 376.65,281.7 C375.23,281.43 374.32,280.6 373.15,280.6 C371.98,280.6 370.9,281.42 369.65,281.7 C368.4,281.98 366.98,282.38 365.65,282.3 C364.32,282.22 362.72,281.68 361.65,281.2 C360.58,280.72 359.7,279.92 359.25,279.4 C358.8,278.88 359,278.32 358.95,278.1 Z" fill="#c3cfee"/>
<path d="M390.15,275.1 C390.07,275.6 390.23,277.13 389.65,278.1 C389.07,279.07 387.98,280.22 386.65,280.9 C385.32,281.58 383.32,282.07 381.65,282.2 C379.98,282.33 378.07,281.97 376.65,281.7 C375.23,281.43 374.32,280.6 373.15,280.6 C371.98,280.6 370.9,281.42 369.65,281.7 C368.4,281.98 366.98,282.38 365.65,282.3 C364.32,282.22 362.72,281.68 361.65,281.2 C360.58,280.72 359.65,279.7 359.25,279.4" fill="none" stroke="#a2b1d9" stroke-width="0.7" opacity="0.9"/>
<rect x="359.9" y="302.9" width="7" height="4.7" rx="1.2" fill="#e99b2c"/><rect x="360.3" y="303.93" width="6.2" height="2.63" fill="#f3c777"/><line x1="360.5" y1="305.25" x2="366.3" y2="305.25" stroke="#e9a646" stroke-width="0.5"/>
<rect x="374.5" y="305.8" width="6.9" height="4.9" rx="1.2" fill="#e99b2c"/><rect x="374.9" y="306.88" width="6.1" height="2.74" fill="#f3c777"/><line x1="375.1" y1="308.25" x2="380.8" y2="308.25" stroke="#e9a646" stroke-width="0.5"/>
<rect x="366.15" y="298.65" width="1.7" height="1.7" rx="0.5" fill="#2b3370"/>
<rect x="373.15" y="300.15" width="1.7" height="1.7" rx="0.5" fill="#2b3370"/>
<rect x="370.15" y="304.65" width="1.7" height="1.7" rx="0.5" fill="#2b3370"/>
<rect x="366.65" y="309.65" width="1.7" height="1.7" rx="0.5" fill="#2b3370"/>
<rect x="373.15" y="312.15" width="1.7" height="1.7" rx="0.5" fill="#2b3370"/>
<rect x="369.65" y="316.15" width="1.7" height="1.7" rx="0.5" fill="#2b3370"/>
<rect x="366.65" y="320.15" width="1.7" height="1.7" rx="0.5" fill="#2b3370"/>
<rect x="373.65" y="323.15" width="1.7" height="1.7" rx="0.5" fill="#2b3370"/>
<rect x="370.15" y="324.65" width="1.7" height="1.7" rx="0.5" fill="#2b3370"/>
<rect x="367.15" y="329.15" width="1.7" height="1.7" rx="0.5" fill="#2b3370"/>
<rect x="372.15" y="330.65" width="1.7" height="1.7" rx="0.5" fill="#2b3370"/>
<rect x="368.15" y="336.15" width="1.7" height="1.7" rx="0.5" fill="#2b3370"/>
<rect x="373.15" y="336.65" width="1.7" height="1.7" rx="0.5" fill="#2b3370"/>
<rect x="371.15" y="340.15" width="1.7" height="1.7" rx="0.5" fill="#2b3370"/>
<line x1="393.2" y1="303.6" x2="393.2" y2="345.4" stroke="#222" stroke-width="0.8"/><path d="M391.7,306.1 L393.2,302.6 L394.7,306.1 Z" fill="#222"/><path d="M391.7,342.9 L393.2,346.4 L394.7,342.9 Z" fill="#222"/>
<text x="396.9" y="328" font-size="13.6" text-anchor="start" fill="#231f20" font-family='"Liberation Sans", sans-serif' textLength="21.2" lengthAdjust="spacingAndGlyphs">Osc</text>
<path d="M11.8,414.8 L13.0,415.2 L14.1,415.6 L15.1,415.6 L16.0,415.2 L17.2,414.8 L18.3,414.7 L19.3,414.6 L20.7,414.7 L22.5,414.8 L24.3,414.7 L25.8,414.4 L27.4,414.2 L29.2,414.2 L30.6,414.0 L30.9,413.6 L31.6,413.6 L33.1,413.9 L34.3,414.2 L35.7,414.2 L37.2,414.1 L38.6,414.0 L40.0,414.1 L41.5,414.4 L43.0,414.7 L44.2,414.8 L45.0,414.9 L45.8,414.9 L47.0,414.7 L48.3,414.8 L49.5,415.0 L50.9,414.9 L52.5,415.1 L53.7,415.4 L54.9,415.6 L56.1,415.4 L57.3,415.4 L58.9,416.1 L60.4,416.4 L61.7,416.0 L63.0,415.9 L64.3,416.0 L65.3,415.9 L66.5,415.7 L67.5,416.0 L68.2,416.5 L70.3,417.0 L71.2,417.5 L71.7,418.4 L72.3,418.9 L73.1,419.4 L73.8,420.1 L74.8,421.4 L75.4,422.4 L75.4,423.9 L75.2,425.3 L75.4,426.8 L75.3,428.4 L75.3,429.6 L75.9,430.5 L76.9,431.9 L77.7,432.7 L78.3,433.7 L78.3,434.8 L78.6,436.0 L79.3,437.3 L80.1,438.7 L81.0,439.7 L82.4,440.2 L83.8,440.6 L84.8,441.2 L86.2,441.7 L87.3,441.9 L88.4,442.0 L90.1,441.4 L91.7,441.0 L93.0,441.2 L94.2,440.7 L95.2,439.6 L95.6,438.6 L95.8,437.1 L96.1,435.7 L96.6,434.6 L96.9,433.6 L96.8,431.8 L96.5,430.4 L96.6,429.4 L97.2,427.7 L97.7,426.4 L98.4,425.6 L99.6,425.1 L101.0,424.3 L102.1,423.0 L103.1,421.8 L104.1,420.7 L105.0,420.0 L105.6,419.7 L105.8,418.8 L105.3,418.0 L105.4,417.0 L105.6,415.6 L106.2,414.2 L107.3,413.2 L108.9,412.8 L110.0,412.5 L111.3,412.5 L112.6,412.7 L113.7,412.6 L114.7,412.6 L116.1,412.6 L117.5,412.5 L118.5,412.7 L119.9,413.0 L121.2,413.3 L122.6,413.4 L124.3,413.3 L126.0,413.3 L127.4,413.3 L128.6,413.0 L129.5,412.8 L130.9,412.9 L132.7,413.0 L133.9,412.9 L134.5,412.6 L136.3,412.5 L138.0,412.5 L139.3,412.1 L140.4,412.2 L140.9,412.4" fill="none" stroke="#b4b29a" stroke-width="0.55"/>
<path d="M13.3,415.8 L13.0,416.0 L13.5,416.0 L14.8,416.1 L16.1,416.1 L17.5,415.8 L18.9,415.4 L20.1,415.3 L21.4,415.6 L22.9,415.8 L24.4,415.7 L25.9,415.7 L27.6,415.7 L29.1,415.4 L30.0,415.2 L31.0,415.5 L32.6,415.6 L34.0,415.3 L35.1,415.4 L36.3,415.6 L37.6,415.7 L38.9,416.1 L40.1,416.0 L41.6,415.3 L43.0,415.3 L44.2,415.7 L45.5,415.6 L46.7,415.1 L47.8,415.2 L49.0,415.9 L50.6,416.1 L52.1,415.6 L53.4,415.6 L54.6,416.3 L55.7,416.5 L56.9,416.3 L58.1,416.0 L59.7,415.9 L60.8,416.2 L61.8,416.7 L63.3,416.6 L65.0,416.5 L66.1,416.6 L66.5,416.8 L68.2,416.9 L69.8,417.2 L71.3,417.4 L72.7,417.3 L73.7,417.5 L74.4,417.9 L75.3,418.9 L75.8,420.1 L75.9,421.5 L76.0,422.6 L76.0,423.5 L76.2,425.2 L76.9,426.8 L77.5,428.0 L78.1,429.2 L78.7,430.3 L79.2,431.8 L79.6,432.8 L80.2,433.9 L80.4,435.3 L80.7,437.2 L81.3,438.6 L81.9,439.4 L82.7,440.3 L83.5,440.8 L84.7,440.9 L86.5,441.2 L87.7,441.4 L89.1,441.4 L90.7,441.3 L92.1,440.7 L93.4,439.9 L94.5,439.5 L95.2,439.0 L96.1,438.2 L96.7,437.1 L97.0,435.6 L97.5,434.1 L98.1,433.2 L98.2,432.2 L98.3,431.2 L98.3,430.0 L98.4,428.5 L98.9,427.1 L99.6,425.9 L100.0,424.9 L100.5,423.7 L101.1,422.4 L101.9,421.3 L102.7,420.4 L102.9,419.8 L103.3,417.8 L104.3,416.3 L105.4,415.6 L106.4,415.0 L108.2,414.1 L110.2,413.3 L110.4,413.2 L111.1,413.1 L112.6,412.9 L113.8,412.6 L115.1,412.6 L116.8,413.0 L118.5,413.2 L119.7,413.0 L120.8,413.0 L122.3,413.1 L123.7,412.9 L125.0,412.9 L126.2,413.0 L127.2,413.2 L128.5,413.5 L130.0,413.7 L131.3,413.6 L132.3,413.5 L133.3,413.7 L135.1,413.7 L136.4,413.4 L137.5,413.0 L138.7,412.5 L139.9,412.3 L141.2,412.2" fill="none" stroke="#c8c7b1" stroke-width="0.55"/>
<path d="M12.2,415.2 L12.4,415.5 L13.1,415.6 L14.0,415.5 L14.9,415.6 L16.0,415.6 L17.5,415.5 L19.4,415.4 L20.9,415.1 L21.7,414.9 L23.3,415.0 L25.0,415.0 L26.4,415.1 L27.6,415.6 L28.9,415.7 L30.3,415.4 L31.1,415.3 L32.5,415.4 L34.1,415.2 L35.1,415.0 L35.9,415.4 L37.1,415.7 L38.7,415.5 L39.9,415.1 L40.9,414.9 L41.9,415.4 L43.3,415.9 L44.9,416.1 L46.1,416.1 L47.4,416.0 L48.5,415.8 L49.7,415.5 L51.3,415.3 L52.8,415.5 L54.3,415.8 L56.1,415.9 L57.6,416.2 L58.7,416.5 L59.7,416.3 L61.2,416.1 L62.7,416.3 L63.9,416.2 L64.8,415.9 L65.7,416.2 L66.8,416.5 L67.6,416.6 L69.8,417.1 L70.5,417.8 L71.4,418.0 L72.3,418.5 L73.4,419.2 L74.4,420.0 L75.0,420.8 L75.7,421.9 L76.8,423.6 L77.4,424.9 L77.7,426.1 L77.9,427.3 L77.9,428.7 L77.9,430.1 L77.7,431.5 L77.6,433.0 L78.2,433.9 L79.2,434.9 L79.8,436.2 L80.4,437.9 L81.2,439.0 L82.0,439.6 L83.2,440.3 L84.4,440.8 L85.6,441.5 L87.3,441.9 L88.4,441.7 L89.4,441.5 L90.6,441.1 L92.4,440.6 L94.1,440.3 L95.3,440.0 L96.1,439.3 L96.9,438.3 L98.0,436.9 L99.2,435.7 L99.6,434.6 L99.9,433.5 L100.6,432.6 L100.9,431.4 L101.0,430.0 L101.0,428.8 L100.8,427.5 L100.3,426.1 L100.0,424.3 L100.0,422.5 L99.8,421.4 L99.5,420.4 L99.8,419.5 L100.8,418.6 L102.1,417.9 L103.4,417.2 L104.8,416.6 L105.6,415.5 L106.1,414.3 L107.0,413.4 L108.4,412.9 L109.4,413.2 L110.4,413.1 L111.4,412.7 L112.6,412.8 L113.9,413.0 L115.4,413.0 L116.7,412.9 L118.0,412.9 L119.5,412.7 L120.8,412.6 L121.8,412.7 L123.4,412.7 L125.2,412.9 L126.3,413.3 L127.4,413.4 L128.8,413.1 L130.3,413.0 L131.7,413.1 L132.9,413.2 L133.8,413.5 L135.8,413.7 L137.5,413.6 L139.0,413.3 L139.9,412.8 L139.8,412.0" fill="none" stroke="#bdbca4" stroke-width="0.55"/>
<path d="M11.1,416.0 L12.3,415.5 L13.4,415.3 L14.1,415.6 L15.1,415.6 L16.3,415.3 L17.5,415.5 L18.9,415.6 L20.6,415.4 L22.1,415.2 L23.3,414.9 L24.3,414.9 L25.6,415.0 L27.2,414.7 L28.6,414.6 L29.9,415.0 L31.5,415.3 L33.1,415.4 L34.2,415.4 L35.1,415.1 L36.2,415.3 L37.3,415.5 L38.7,415.2 L40.2,415.0 L41.3,415.0 L42.4,415.5 L44.0,415.9 L45.5,416.0 L46.4,416.2 L47.7,416.3 L49.1,416.1 L50.3,416.1 L51.7,416.3 L53.4,416.5 L54.9,416.3 L56.2,416.2 L57.5,416.1 L58.6,416.0 L59.6,416.2 L60.5,416.0 L61.9,415.9 L63.5,416.1 L64.8,416.2 L65.9,416.2 L66.6,416.2 L68.6,416.5 L69.1,417.0 L70.5,417.1 L71.4,417.7 L72.8,419.6 L73.8,420.2 L74.4,420.8 L74.5,421.8 L75.3,423.3 L76.4,424.7 L77.2,426.2 L77.9,427.7 L78.4,428.6 L78.5,429.3 L78.7,430.4 L79.6,431.4 L79.8,432.9 L78.8,433.6 L78.6,435.0 L78.5,436.7 L78.6,438.2 L78.9,439.3 L79.6,440.1 L80.9,440.7 L82.5,441.1 L83.8,441.1 L84.8,441.2 L86.1,441.5 L87.8,441.6 L89.8,441.1 L91.2,440.6 L92.2,440.3 L93.1,439.6 L94.1,438.8 L95.4,438.1 L96.5,437.1 L97.0,435.6 L97.6,434.2 L98.0,433.4 L98.0,432.5 L98.0,431.1 L98.0,429.4 L97.9,427.9 L97.8,426.7 L98.3,425.8 L99.7,424.9 L101.0,423.9 L102.1,423.0 L103.3,422.3 L104.6,421.9 L105.6,421.5 L105.8,420.1 L105.5,418.6 L105.1,417.1 L104.8,415.5 L104.8,414.4 L105.3,413.8 L106.4,413.6 L108.6,413.5 L109.3,413.5 L110.2,413.5 L111.6,413.5 L113.1,413.7 L114.6,413.7 L115.9,413.2 L117.0,412.8 L118.2,412.8 L119.4,412.8 L120.6,412.6 L122.0,412.3 L123.6,412.2 L124.9,412.7 L126.1,412.9 L127.6,412.8 L129.3,412.8 L130.5,413.1 L131.3,413.1 L132.0,412.7 L133.1,412.3 L135.1,412.5 L136.9,413.2 L138.5,413.5 L139.5,412.8 L140.3,412.3 L141.5,412.3" fill="none" stroke="#d2d1bd" stroke-width="0.55"/>
<path d="M11.8,416.0 L12.4,415.2 L13.2,415.1 L14.2,415.4 L15.5,415.6 L16.8,415.4 L18.1,415.4 L19.3,415.7 L20.7,415.7 L22.1,415.5 L23.1,415.4 L24.4,415.5 L26.3,415.6 L27.9,415.3 L29.0,414.9 L29.9,414.8 L31.2,415.1 L32.6,415.3 L33.7,415.1 L35.1,415.1 L36.4,415.1 L37.5,414.7 L38.6,414.7 L39.8,415.2 L41.2,415.3 L42.6,415.1 L43.9,415.2 L45.3,415.3 L46.6,415.6 L47.9,415.6 L49.1,415.1 L50.4,415.2 L52.0,415.4 L53.5,415.3 L54.7,415.3 L56.0,415.4 L57.7,415.3 L58.9,415.0 L60.0,415.1 L61.0,415.2 L62.2,415.1 L63.6,414.9 L64.7,414.6 L65.7,414.4 L66.8,414.3 L67.8,414.5 L69.8,415.3 L70.1,416.4 L71.1,417.5 L71.8,418.4 L73.1,419.8 L73.8,420.4 L74.6,421.1 L75.4,421.9 L76.5,422.8 L77.7,424.1 L78.8,425.5 L79.6,426.4 L80.1,427.2 L80.8,428.4 L81.7,429.4 L82.4,430.3 L82.9,431.9 L82.1,432.9 L80.5,433.7 L79.9,434.7 L80.3,435.9 L80.6,437.0 L80.8,437.9 L81.2,438.8 L82.2,440.0 L83.4,440.9 L84.9,440.9 L86.7,440.8 L87.7,441.2 L88.4,441.4 L90.0,441.2 L91.9,440.9 L93.5,440.5 L94.8,439.6 L95.5,438.9 L96.0,437.7 L96.4,436.4 L97.0,435.0 L97.3,433.5 L97.3,432.1 L97.3,430.8 L97.4,429.4 L97.5,428.2 L98.1,426.9 L99.5,425.7 L100.6,424.5 L101.2,423.3 L101.7,422.5 L102.5,421.4 L103.2,419.9 L103.8,417.9 L104.1,416.4 L104.3,415.9 L105.3,415.1 L106.6,414.6 L108.0,414.3 L110.0,413.9 L111.0,413.6 L112.1,413.2 L113.2,412.8 L114.1,412.6 L115.3,412.8 L116.9,412.9 L118.3,412.7 L119.6,412.5 L121.2,412.4 L122.8,412.5 L124.1,412.3 L125.2,412.0 L126.3,412.3 L127.3,412.7 L128.3,412.7 L129.3,412.8 L130.7,412.9 L132.0,412.9 L133.0,413.0 L134.6,413.2 L136.1,413.0 L137.6,412.7 L139.3,412.5 L140.8,412.4 L142.1,412.6" fill="none" stroke="#aeac94" stroke-width="0.55"/>
<path d="M11.4,416.5 L12.0,415.9 L12.9,415.4 L14.1,415.1 L14.9,415.4 L15.8,415.9 L17.1,415.9 L18.4,415.8 L19.7,415.7 L21.0,415.4 L22.3,415.2 L23.7,415.3 L25.4,415.4 L27.1,415.0 L28.5,414.6 L29.6,414.5 L30.5,414.6 L31.8,414.9 L33.5,415.2 L34.9,415.1 L35.8,415.1 L36.9,415.3 L38.3,415.5 L39.3,415.6 L40.4,415.8 L42.0,416.0 L43.5,416.0 L44.9,415.9 L46.1,415.9 L47.1,415.9 L48.0,415.9 L49.2,416.0 L50.6,416.4 L52.1,416.5 L53.7,416.5 L55.0,416.3 L56.0,416.0 L57.3,416.0 L59.0,415.7 L60.5,415.4 L61.5,415.7 L62.5,416.0 L63.9,416.1 L65.0,416.1 L65.8,416.3 L66.9,416.2 L68.0,415.9 L70.9,416.1 L71.6,416.9 L72.3,417.7 L73.5,418.3 L74.3,419.2 L75.1,420.4 L75.6,421.3 L75.9,422.7 L76.3,424.3 L76.7,425.6 L77.0,426.8 L77.0,428.3 L77.5,429.7 L78.3,431.3 L78.3,432.8 L78.1,433.9 L78.5,434.9 L78.6,436.1 L78.4,437.4 L79.1,438.5 L80.1,439.6 L80.6,440.3 L81.6,440.9 L83.3,441.3 L84.8,441.3 L85.8,441.3 L87.0,441.7 L88.7,442.1 L90.3,442.2 L91.3,441.8 L92.5,441.3 L94.0,441.3 L95.3,440.7 L96.5,439.6 L97.6,438.5 L98.2,437.8 L98.7,436.9 L99.4,435.7 L100.2,434.6 L101.3,433.0 L102.0,431.7 L102.2,429.6 L102.1,428.2 L102.5,427.2 L103.3,426.0 L103.8,424.7 L104.0,423.5 L104.2,422.4 L104.4,420.8 L104.4,419.4 L104.3,418.0 L104.7,416.3 L105.4,414.8 L106.1,414.1 L108.0,413.6 L109.2,413.5 L110.6,413.4 L111.6,413.1 L112.8,413.1 L114.6,413.0 L116.3,412.7 L117.5,412.8 L118.8,413.0 L120.2,412.9 L121.3,412.8 L122.2,412.8 L123.5,413.1 L124.9,413.1 L126.2,413.0 L127.2,412.9 L128.4,413.2 L129.8,413.3 L130.8,413.5 L132.0,413.7 L133.5,413.7 L134.5,413.4 L135.7,413.2 L137.3,413.4 L139.0,413.0 L140.2,412.8 L141.0,413.0 L142.3,412.4" fill="none" stroke="#c4c3ad" stroke-width="0.55"/>
<path d="M78.6,412.9 Q81.1,412.9 81.1,415.9 L81.1,429.65 A7.65,7.65 0 0 0 96.4,429.65 L96.4,415.9 Q96.4,412.9 98.9,412.9 L98.9,412.9 C99.57,412.8 100.4,412.48 102.9,412.3 C105.4,412.12 111.02,412.1 113.9,411.8 C116.78,411.5 118.52,411.22 120.2,410.5 C121.88,409.78 123.08,408.72 124,407.5 C124.92,406.28 125.43,404.75 125.7,403.2 C125.97,401.65 125.85,400.03 125.6,398.2 C125.35,396.37 124.87,394.12 124.2,392.2 C123.53,390.28 122.65,388.48 121.6,386.7 C120.55,384.92 119.27,383.07 117.9,381.5 C116.53,379.93 115.07,378.55 113.4,377.3 C111.73,376.05 109.9,374.92 107.9,374 C105.9,373.08 103.32,372.2 101.4,371.8 C99.48,371.4 98.32,371.45 96.4,371.6 C94.48,371.75 92.23,372.05 89.9,372.7 C87.57,373.35 84.82,374.43 82.4,375.5 C79.98,376.57 77.57,377.82 75.4,379.1 C73.23,380.38 71.4,381.83 69.4,383.2 C67.4,384.57 65.32,386.13 63.4,387.3 C61.48,388.47 59.98,389.38 57.9,390.2 C55.82,391.02 53.23,391.45 50.9,392.2 C48.57,392.95 45.98,393.7 43.9,394.7 C41.82,395.7 39.95,396.95 38.4,398.2 C36.85,399.45 35.57,400.87 34.6,402.2 C33.63,403.53 32.8,404.95 32.6,406.2 C32.4,407.45 32.77,408.78 33.4,409.7 C34.03,410.62 35.07,411.2 36.4,411.7 C37.73,412.2 38.9,412.5 41.4,412.7 C43.9,412.9 47.23,412.85 51.4,412.9 C55.57,412.95 61.87,413 66.4,413 C70.93,413 76.57,412.92 78.6,412.9 Z" fill="url(#cg)" stroke="#bac8ec" stroke-width="0.5"/>
<path d="M75.7,396.2 C75.9,395.53 76.12,393.28 76.9,392.2 C77.68,391.12 78.82,390.3 80.4,389.7 C81.98,389.1 84.23,388.82 86.4,388.6 C88.57,388.38 91.07,388.35 93.4,388.4 C95.73,388.45 98.48,388.55 100.4,388.9 C102.32,389.25 103.82,389.78 104.9,390.5 C105.98,391.22 106.65,392.25 106.9,393.2 C107.15,394.15 106.98,395.23 106.4,396.2 C105.82,397.17 104.73,398.32 103.4,399 C102.07,399.68 100.07,400.17 98.4,400.3 C96.73,400.43 94.82,400.07 93.4,399.8 C91.98,399.53 91.07,398.7 89.9,398.7 C88.73,398.7 87.65,399.52 86.4,399.8 C85.15,400.08 83.73,400.48 82.4,400.4 C81.07,400.32 79.47,399.78 78.4,399.3 C77.33,398.82 76.45,398.02 76,397.5 C75.55,396.98 75.75,396.42 75.7,396.2 Z" fill="#c3cfee"/>
<path d="M106.9,393.2 C106.82,393.7 106.98,395.23 106.4,396.2 C105.82,397.17 104.73,398.32 103.4,399 C102.07,399.68 100.07,400.17 98.4,400.3 C96.73,400.43 94.82,400.07 93.4,399.8 C91.98,399.53 91.07,398.7 89.9,398.7 C88.73,398.7 87.65,399.52 86.4,399.8 C85.15,400.08 83.73,400.48 82.4,400.4 C81.07,400.32 79.47,399.78 78.4,399.3 C77.33,398.82 76.4,397.8 76,397.5" fill="none" stroke="#a2b1d9" stroke-width="0.7" opacity="0.9"/>
<rect x="78.2" y="418.9" width="6.3" height="4" rx="1.2" fill="#e99b2c"/><rect x="78.6" y="419.78" width="5.5" height="2.24" fill="#f3c777"/><line x1="78.8" y1="420.9" x2="83.9" y2="420.9" stroke="#e9a646" stroke-width="0.5"/>
<rect x="90.8" y="424.5" width="6.6" height="3.9" rx="1.2" fill="#e99b2c"/><rect x="91.2" y="425.36" width="5.8" height="2.18" fill="#f3c777"/><line x1="91.4" y1="426.45" x2="96.8" y2="426.45" stroke="#e9a646" stroke-width="0.5"/>
<rect x="83.95" y="414.65" width="1.7" height="1.7" rx="0.5" fill="#2b3370"/>
<rect x="89.85" y="418.65" width="1.7" height="1.7" rx="0.5" fill="#2b3370"/>
<rect x="83.95" y="424.65" width="1.7" height="1.7" rx="0.5" fill="#2b3370"/>
<rect x="87.95" y="430.15" width="1.7" height="1.7" rx="0.5" fill="#2b3370"/>
<line x1="111.3" y1="420.5" x2="111.3" y2="442.3" stroke="#222" stroke-width="0.8"/><path d="M109.8,423.0 L111.3,419.5 L112.8,423.0 Z" fill="#222"/><path d="M109.8,439.8 L111.3,443.3 L112.8,439.8 Z" fill="#222"/>
<text x="114.9" y="436.4" font-size="13.6" text-anchor="start" fill="#231f20" font-family='"Liberation Sans", sans-serif' textLength="21.2" lengthAdjust="spacingAndGlyphs">Osc</text>
<path d="M153.6,415.6 L154.1,415.0 L155.0,414.9 L156.3,414.7 L157.4,414.4 L158.7,414.7 L160.0,414.5 L161.2,414.0 L162.5,413.9 L164.3,413.8 L165.8,413.7 L167.3,413.8 L169.0,413.9 L170.4,414.0 L171.5,413.9 L172.7,413.9 L174.0,413.9 L175.1,413.8 L176.3,413.8 L177.7,414.0 L178.7,413.9 L179.7,413.9 L181.2,414.2 L182.9,414.5 L184.1,414.6 L185.2,414.7 L186.1,414.9 L187.1,415.1 L188.3,415.1 L189.6,415.1 L190.8,415.1 L192.0,414.9 L193.5,415.1 L194.8,415.6 L196.0,415.5 L197.8,415.3 L199.5,415.0 L200.9,414.7 L202.1,414.8 L203.0,415.0 L203.7,415.0 L204.6,414.8 L206.0,414.8 L207.4,414.8 L207.9,414.6 L209.7,414.8 L210.9,415.1 L211.8,415.5 L212.6,416.4 L213.0,417.6 L213.0,419.0 L212.8,420.2 L212.9,421.7 L213.7,423.4 L214.2,424.5 L214.5,425.4 L215.0,426.4 L215.8,427.4 L216.8,428.3 L217.6,429.3 L218.5,430.7 L219.3,431.6 L219.9,432.5 L220.4,433.7 L220.5,435.2 L220.7,436.6 L221.2,438.1 L221.9,439.5 L222.3,440.5 L222.5,441.8 L221.7,443.2 L220.8,444.4 L221.0,445.2 L222.0,445.8 L223.1,446.4 L224.6,446.8 L226.4,447.3 L227.9,447.5 L229.1,447.7 L230.5,447.9 L231.8,447.5 L232.8,446.6 L234.0,445.8 L235.2,445.3 L236.1,444.5 L236.2,443.1 L236.1,441.6 L236.6,440.3 L237.5,439.2 L238.6,437.9 L239.4,437.1 L239.8,436.3 L240.4,435.1 L241.3,433.8 L242.1,432.3 L242.1,431.4 L241.9,430.4 L241.7,429.4 L241.7,428.0 L241.8,426.6 L242.1,425.3 L242.5,423.8 L242.5,422.6 L242.6,421.6 L242.5,420.5 L242.1,419.6 L242.7,417.7 L243.9,417.0 L245.2,416.3 L246.0,415.8 L246.9,415.3 L248.1,414.7 L249.7,414.1 L251.2,414.2 L252.4,414.3 L253.2,414.1 L254.6,413.6 L256.1,413.0 L257.4,412.6 L258.8,412.5 L259.9,412.4 L260.8,412.5 L262.2,412.5 L263.5,412.3 L265.0,412.4 L266.6,412.6 L268.1,412.5 L269.2,412.7 L270.2,412.8 L271.7,412.9 L273.0,413.1 L274.3,413.0 L275.7,412.8 L276.8,412.8 L278.5,412.8 L280.2,412.8 L281.2,412.7 L281.8,412.4" fill="none" stroke="#b4b29a" stroke-width="0.55"/>
<path d="M152.1,414.4 L153.4,414.2 L154.2,414.3 L155.2,414.4 L156.3,414.3 L157.0,414.2 L158.5,414.2 L160.2,414.3 L161.4,414.4 L162.8,414.2 L164.0,413.9 L165.1,414.1 L166.7,414.3 L168.1,414.3 L169.3,413.9 L170.4,413.7 L171.7,414.1 L173.2,414.9 L174.5,415.0 L175.5,414.7 L177.0,414.9 L178.7,415.1 L179.8,415.1 L180.8,415.1 L182.0,415.2 L183.2,415.2 L184.7,415.2 L186.3,415.2 L187.5,415.1 L188.3,415.3 L189.4,415.4 L190.8,415.3 L192.3,415.5 L193.5,415.9 L194.9,415.7 L196.6,415.2 L197.9,414.8 L199.0,414.7 L200.8,414.3 L202.5,414.2 L203.7,414.3 L204.7,414.3 L205.7,414.1 L206.6,413.9 L207.7,414.0 L209.7,414.4 L210.9,415.1 L211.3,416.1 L211.6,416.8 L212.3,417.6 L212.7,418.9 L212.6,420.3 L212.3,421.7 L212.1,423.2 L212.4,423.7 L212.9,424.8 L213.2,426.7 L214.0,428.3 L215.1,429.5 L215.5,430.6 L215.8,431.6 L216.3,432.5 L216.7,434.0 L216.6,435.3 L216.1,436.5 L215.9,437.8 L216.3,438.9 L216.8,439.7 L217.7,440.8 L219.0,441.6 L220.2,442.2 L221.4,443.0 L223.0,444.1 L223.9,445.0 L224.9,445.8 L226.1,446.0 L227.7,446.3 L229.5,446.8 L230.7,447.2 L231.7,447.5 L232.9,447.4 L234.5,447.0 L236.0,446.4 L237.2,445.7 L238.5,445.1 L238.9,444.4 L238.6,442.7 L238.7,440.7 L239.0,440.0 L239.1,438.9 L239.6,437.3 L240.2,435.5 L240.7,434.2 L241.0,433.1 L241.3,431.7 L241.9,430.2 L242.7,429.1 L243.5,428.1 L244.6,427.0 L245.6,426.2 L246.4,425.6 L247.1,424.7 L247.4,423.6 L247.4,422.0 L247.5,420.4 L247.3,419.2 L247.0,418.4 L246.7,417.0 L246.7,415.6 L246.7,414.4 L247.3,413.7 L248.6,413.3 L250.4,413.0 L251.2,412.8 L252.1,412.6 L253.2,412.7 L254.6,413.0 L256.2,413.1 L257.6,412.9 L259.0,413.1 L260.3,413.3 L261.3,413.0 L262.3,412.7 L263.9,412.9 L265.0,413.3 L266.3,413.4 L267.7,413.1 L268.8,413.0 L270.2,413.4 L271.6,413.4 L272.7,413.2 L274.3,413.1 L275.8,413.0 L277.2,412.9 L278.8,412.9 L280.5,412.8 L281.7,413.0 L281.9,413.3" fill="none" stroke="#c8c7b1" stroke-width="0.55"/>
<path d="M153.4,414.6 L154.1,414.4 L154.8,414.5 L155.6,414.9 L156.6,414.9 L158.0,414.8 L159.8,414.7 L161.4,414.6 L162.3,414.3 L163.3,414.2 L164.9,414.6 L166.5,414.7 L167.9,414.4 L169.4,414.6 L170.8,415.2 L172.1,415.1 L173.2,414.8 L174.2,415.0 L175.4,415.1 L176.8,414.8 L178.0,415.1 L179.3,415.4 L180.8,415.4 L182.0,415.4 L183.1,415.6 L184.5,415.5 L185.6,415.5 L186.7,415.6 L188.0,415.6 L189.3,416.0 L190.5,416.2 L191.7,416.1 L193.2,415.8 L194.9,415.3 L196.1,414.9 L197.4,415.1 L199.1,415.3 L200.7,415.1 L202.0,414.8 L203.3,415.0 L204.5,415.5 L205.6,415.2 L206.5,414.8 L207.0,415.0 L209.5,415.7 L210.4,416.6 L211.0,417.8 L211.9,418.6 L212.6,419.9 L212.8,421.3 L213.1,422.8 L213.7,423.4 L214.7,424.2 L215.6,425.0 L216.3,425.9 L217.3,427.0 L218.3,428.7 L218.9,429.8 L219.3,430.2 L219.5,431.0 L219.6,432.6 L219.4,434.5 L218.9,435.9 L218.6,437.0 L218.4,438.3 L218.2,439.6 L218.5,440.9 L219.5,442.3 L220.4,443.5 L221.5,444.6 L222.7,445.3 L223.7,445.7 L224.7,446.3 L226.3,447.1 L227.8,447.0 L229.1,446.8 L230.5,447.0 L231.7,447.4 L233.3,447.4 L235.2,447.1 L236.5,446.8 L237.1,446.1 L237.5,445.1 L238.2,443.8 L238.4,442.3 L238.6,440.6 L239.1,439.3 L239.6,438.6 L240.0,437.7 L240.4,436.2 L241.1,434.8 L241.8,433.4 L242.0,432.2 L241.5,430.9 L241.1,429.5 L240.7,428.3 L239.7,427.3 L238.7,425.9 L238.3,424.5 L238.3,423.6 L238.3,422.9 L238.7,422.0 L239.6,420.8 L240.5,420.2 L241.7,419.4 L243.2,418.1 L244.2,417.3 L245.1,416.8 L246.5,416.3 L247.9,415.5 L248.6,415.1 L249.7,414.6 L251.1,414.0 L251.8,413.7 L252.9,413.4 L254.5,413.6 L256.1,413.7 L257.5,413.4 L258.9,412.9 L260.2,412.8 L261.3,413.0 L262.5,412.9 L263.6,412.6 L265.2,412.5 L266.8,412.7 L267.8,412.8 L268.7,413.0 L270.2,413.4 L271.5,413.3 L272.5,413.3 L273.6,413.6 L275.2,413.2 L276.9,412.5 L278.5,412.0 L279.9,412.3 L280.9,412.4 L281.7,411.8" fill="none" stroke="#bdbca4" stroke-width="0.55"/>
<path d="M152.8,415.4 L153.8,414.6 L154.5,414.5 L155.4,414.6 L156.6,414.6 L157.9,414.3 L159.3,414.2 L160.5,414.3 L162.2,414.1 L163.7,413.9 L165.0,414.1 L166.4,414.3 L168.0,413.8 L169.6,413.4 L170.9,413.7 L172.0,414.0 L173.1,413.9 L174.4,413.8 L175.8,414.1 L177.0,414.3 L178.5,414.2 L180.0,414.4 L181.0,414.5 L181.9,414.6 L182.9,414.6 L184.2,414.7 L185.8,415.2 L187.1,415.5 L188.2,415.4 L189.2,415.4 L190.2,415.5 L191.4,415.5 L192.7,415.1 L194.3,414.8 L196.0,414.6 L197.4,414.6 L198.6,414.4 L200.1,413.8 L201.6,413.6 L202.8,414.0 L204.2,414.0 L205.4,413.6 L205.9,413.3 L206.7,413.5 L209.2,414.5 L210.2,415.5 L210.6,416.6 L211.2,418.0 L211.8,419.2 L212.2,420.3 L213.0,421.4 L213.8,423.1 L214.2,424.2 L214.9,425.0 L215.5,425.9 L215.9,427.0 L216.6,428.2 L217.7,429.7 L218.5,431.1 L218.8,432.0 L218.9,433.0 L219.2,434.6 L219.3,435.8 L218.9,436.7 L218.4,437.9 L217.9,438.9 L218.2,440.3 L218.9,442.0 L219.7,443.3 L220.9,444.4 L221.9,445.2 L223.0,446.4 L223.9,447.6 L224.9,448.0 L226.4,447.3 L228.3,446.5 L229.7,446.0 L230.4,445.7 L231.6,445.5 L233.4,445.5 L235.0,445.3 L236.1,444.7 L237.1,444.2 L238.0,443.4 L238.0,442.5 L237.5,441.4 L237.7,440.0 L238.4,439.0 L238.8,437.9 L239.2,436.8 L239.9,435.7 L240.5,434.2 L241.0,432.5 L241.4,431.5 L242.1,431.0 L243.2,429.8 L243.6,428.5 L243.3,427.3 L243.4,426.1 L244.1,425.1 L244.4,424.2 L244.6,423.1 L245.0,421.7 L245.6,420.4 L246.3,419.0 L246.6,418.0 L246.9,417.3 L247.3,416.7 L248.3,415.7 L249.4,414.5 L250.1,413.8 L251.7,413.7 L253.4,413.9 L254.8,413.5 L255.6,413.0 L256.7,413.2 L258.4,413.2 L260.1,412.6 L261.5,412.8 L262.6,413.5 L263.7,413.1 L265.4,412.5 L266.6,412.6 L267.9,413.1 L269.1,413.2 L270.1,413.1 L271.6,413.2 L273.4,413.3 L274.8,413.2 L276.2,412.9 L277.9,412.4 L279.3,412.4 L280.4,412.3 L281.6,411.9 L282.3,411.8" fill="none" stroke="#d2d1bd" stroke-width="0.55"/>
<path d="M152.3,414.9 L153.3,414.6 L154.5,414.9 L155.5,415.2 L156.1,414.9 L157.2,414.7 L158.7,414.6 L160.2,414.5 L161.7,414.4 L163.2,414.6 L164.8,414.9 L166.0,415.0 L167.5,414.9 L169.3,415.0 L170.5,414.8 L171.2,414.7 L172.4,414.7 L173.7,414.5 L174.9,414.5 L176.3,414.7 L177.8,415.1 L179.4,415.0 L181.0,414.9 L182.0,415.0 L182.8,415.1 L184.1,415.2 L185.5,415.3 L186.8,415.2 L188.4,415.1 L189.7,415.1 L190.7,414.9 L192.0,414.5 L193.1,414.6 L194.0,414.9 L195.4,415.1 L197.2,415.2 L198.9,415.1 L200.3,415.3 L201.5,415.3 L202.7,414.9 L204.1,414.8 L205.6,414.9 L206.7,415.0 L207.3,415.2 L207.7,415.2 L209.7,415.7 L210.2,416.8 L210.7,418.2 L211.4,419.0 L212.3,419.8 L213.2,420.5 L214.4,421.3 L215.1,422.5 L215.5,423.7 L216.2,424.4 L217.3,425.3 L218.2,426.7 L219.0,428.2 L219.3,429.8 L219.3,431.0 L219.5,431.6 L220.1,432.6 L220.2,434.0 L219.8,435.5 L219.5,437.0 L219.3,438.3 L219.0,439.6 L219.2,441.0 L219.4,442.2 L219.5,443.4 L220.0,444.4 L221.1,445.0 L222.5,445.9 L223.7,446.9 L224.9,447.3 L226.3,447.3 L228.0,447.4 L229.1,447.1 L230.1,446.8 L231.6,446.8 L233.1,446.6 L234.5,446.4 L235.6,445.9 L236.5,445.1 L237.5,444.5 L238.3,443.4 L237.7,442.1 L236.8,440.9 L237.2,439.6 L238.0,438.8 L238.9,437.9 L239.9,437.2 L240.8,436.4 L241.8,435.4 L242.9,434.5 L244.0,433.7 L245.0,432.9 L245.7,432.2 L245.9,431.6 L246.1,430.3 L246.4,428.6 L246.4,427.3 L245.7,426.1 L244.9,424.9 L244.5,423.8 L244.3,422.6 L244.2,421.1 L244.2,419.8 L244.4,418.5 L244.6,417.3 L244.9,416.0 L245.7,414.8 L246.9,414.1 L248.2,413.7 L249.7,413.4 L251.3,413.0 L252.1,412.7 L253.2,412.5 L254.4,412.6 L255.7,412.6 L257.2,412.4 L258.6,412.6 L259.9,413.0 L261.2,413.0 L262.6,412.9 L263.7,412.7 L265.0,412.7 L266.2,413.3 L267.2,413.7 L268.3,413.2 L269.7,413.1 L271.1,413.4 L272.4,413.6 L273.5,413.6 L274.7,413.7 L276.1,413.3 L277.5,412.7 L278.9,412.4 L280.1,412.4 L280.4,413.4" fill="none" stroke="#aeac94" stroke-width="0.55"/>
<path d="M152.4,414.3 L154.1,414.4 L155.1,414.4 L155.9,414.0 L157.1,414.0 L158.2,414.3 L159.4,414.3 L160.7,414.0 L162.2,413.9 L163.6,414.0 L164.8,413.9 L166.0,413.7 L167.4,413.5 L168.5,413.4 L170.0,413.7 L171.8,413.9 L172.9,413.8 L173.7,413.8 L174.9,414.1 L176.2,414.5 L177.4,414.3 L178.8,414.6 L180.1,415.0 L181.6,415.2 L183.1,415.2 L184.3,415.0 L185.1,415.1 L186.5,415.4 L188.2,415.4 L189.3,415.4 L190.5,415.6 L192.0,415.6 L193.4,415.6 L195.1,415.3 L196.4,414.8 L197.6,414.7 L198.9,414.8 L200.4,414.4 L201.8,414.3 L203.1,414.4 L204.3,414.4 L205.0,414.1 L205.7,414.0 L206.6,414.4 L208.5,415.3 L209.3,416.3 L209.7,417.2 L210.3,418.3 L210.9,419.2 L211.8,419.9 L213.2,420.5 L214.4,421.6 L215.0,422.9 L215.5,424.1 L216.0,425.0 L216.0,426.0 L215.4,427.0 L215.0,428.7 L214.5,430.3 L214.2,431.4 L214.2,432.4 L214.9,434.0 L215.8,435.1 L217.0,436.0 L218.3,437.1 L219.2,438.4 L219.8,439.3 L220.5,440.5 L220.9,441.7 L221.0,443.0 L221.9,444.0 L223.1,444.4 L224.3,444.8 L225.4,445.4 L226.5,445.7 L228.1,446.4 L229.8,447.2 L231.2,447.4 L232.6,447.1 L234.0,447.0 L235.1,446.7 L236.7,445.9 L237.7,445.0 L238.1,443.9 L238.6,443.1 L239.7,442.3 L240.4,440.9 L241.0,439.6 L241.7,438.6 L242.2,437.4 L242.1,436.1 L242.1,435.1 L241.9,434.0 L241.8,432.7 L242.2,431.5 L242.6,430.4 L242.5,428.9 L242.3,427.2 L242.5,425.6 L242.7,424.4 L243.0,423.2 L243.5,421.8 L243.9,420.3 L244.7,419.1 L245.2,418.2 L245.7,417.2 L246.6,416.3 L247.5,415.5 L248.4,414.9 L249.7,414.2 L251.4,413.6 L252.0,413.1 L252.8,412.7 L254.1,412.7 L255.4,412.7 L256.6,412.5 L258.0,412.5 L259.2,412.4 L260.3,412.1 L262.0,412.1 L263.7,412.2 L265.0,412.4 L266.0,412.5 L266.9,412.6 L268.1,412.7 L269.6,413.0 L270.9,413.4 L271.9,413.7 L273.2,413.6 L274.9,413.2 L276.1,413.0 L277.5,412.9 L279.1,412.8 L280.5,412.8 L281.9,413.4" fill="none" stroke="#c4c3ad" stroke-width="0.55"/>
<path d="M219,411.2 Q221.5,411.2 221.5,414.2 L221.5,434.6 A8.2,8.2 0 0 0 237.9,434.6 L237.9,414.2 Q237.9,411.2 240.4,411.2 L240.4,411.2 C240.97,411.1 241.4,410.78 243.8,410.6 C246.2,410.42 251.92,410.4 254.8,410.1 C257.68,409.8 259.42,409.52 261.1,408.8 C262.78,408.08 263.98,407.02 264.9,405.8 C265.82,404.58 266.33,403.05 266.6,401.5 C266.87,399.95 266.75,398.33 266.5,396.5 C266.25,394.67 265.77,392.42 265.1,390.5 C264.43,388.58 263.55,386.78 262.5,385 C261.45,383.22 260.17,381.37 258.8,379.8 C257.43,378.23 255.97,376.85 254.3,375.6 C252.63,374.35 250.8,373.22 248.8,372.3 C246.8,371.38 244.22,370.5 242.3,370.1 C240.38,369.7 239.22,369.75 237.3,369.9 C235.38,370.05 233.13,370.35 230.8,371 C228.47,371.65 225.72,372.73 223.3,373.8 C220.88,374.87 218.47,376.12 216.3,377.4 C214.13,378.68 212.3,380.13 210.3,381.5 C208.3,382.87 206.22,384.43 204.3,385.6 C202.38,386.77 200.88,387.68 198.8,388.5 C196.72,389.32 194.13,389.75 191.8,390.5 C189.47,391.25 186.88,392 184.8,393 C182.72,394 180.85,395.25 179.3,396.5 C177.75,397.75 176.47,399.17 175.5,400.5 C174.53,401.83 173.7,403.25 173.5,404.5 C173.3,405.75 173.67,407.08 174.3,408 C174.93,408.92 175.97,409.5 177.3,410 C178.63,410.5 179.8,410.8 182.3,411 C184.8,411.2 188.13,411.15 192.3,411.2 C196.47,411.25 202.85,411.3 207.3,411.3 C211.75,411.3 217.05,411.22 219,411.2 Z" fill="url(#cg)" stroke="#bac8ec" stroke-width="0.5"/>
<path d="M216.6,394.5 C216.8,393.83 217.02,391.58 217.8,390.5 C218.58,389.42 219.72,388.6 221.3,388 C222.88,387.4 225.13,387.12 227.3,386.9 C229.47,386.68 231.97,386.65 234.3,386.7 C236.63,386.75 239.38,386.85 241.3,387.2 C243.22,387.55 244.72,388.08 245.8,388.8 C246.88,389.52 247.55,390.55 247.8,391.5 C248.05,392.45 247.88,393.53 247.3,394.5 C246.72,395.47 245.63,396.62 244.3,397.3 C242.97,397.98 240.97,398.47 239.3,398.6 C237.63,398.73 235.72,398.37 234.3,398.1 C232.88,397.83 231.97,397 230.8,397 C229.63,397 228.55,397.82 227.3,398.1 C226.05,398.38 224.63,398.78 223.3,398.7 C221.97,398.62 220.37,398.08 219.3,397.6 C218.23,397.12 217.35,396.32 216.9,395.8 C216.45,395.28 216.65,394.72 216.6,394.5 Z" fill="#c3cfee"/>
<path d="M247.8,391.5 C247.72,392 247.88,393.53 247.3,394.5 C246.72,395.47 245.63,396.62 244.3,397.3 C242.97,397.98 240.97,398.47 239.3,398.6 C237.63,398.73 235.72,398.37 234.3,398.1 C232.88,397.83 231.97,397 230.8,397 C229.63,397 228.55,397.82 227.3,398.1 C226.05,398.38 224.63,398.78 223.3,398.7 C221.97,398.62 220.37,398.08 219.3,397.6 C218.23,397.12 217.3,396.1 216.9,395.8" fill="none" stroke="#a2b1d9" stroke-width="0.7" opacity="0.9"/>
<rect x="218" y="418.2" width="7.2" height="4.1" rx="1.2" fill="#e99b2c"/><rect x="218.4" y="419.1" width="6.4" height="2.3" fill="#f3c777"/><line x1="218.6" y1="420.25" x2="224.6" y2="420.25" stroke="#e9a646" stroke-width="0.5"/>
<rect x="230.3" y="423.8" width="7.2" height="4.2" rx="1.2" fill="#e99b2c"/><rect x="230.7" y="424.72" width="6.4" height="2.35" fill="#f3c777"/><line x1="230.9" y1="425.9" x2="236.9" y2="425.9" stroke="#e9a646" stroke-width="0.5"/>
<rect x="225.15" y="413.15" width="1.7" height="1.7" rx="0.5" fill="#2b3370"/>
<rect x="231.95" y="411.65" width="1.7" height="1.7" rx="0.5" fill="#2b3370"/>
<rect x="226.15" y="421.15" width="1.7" height="1.7" rx="0.5" fill="#2b3370"/>
<rect x="231.45" y="419.15" width="1.7" height="1.7" rx="0.5" fill="#2b3370"/>
<rect x="225.65" y="428.65" width="1.7" height="1.7" rx="0.5" fill="#2b3370"/>
<rect x="231.15" y="431.15" width="1.7" height="1.7" rx="0.5" fill="#2b3370"/>
<rect x="226.45" y="436.65" width="1.7" height="1.7" rx="0.5" fill="#2b3370"/>
<line x1="254.6" y1="420.3" x2="254.6" y2="442.4" stroke="#222" stroke-width="0.8"/><path d="M253.1,422.8 L254.6,419.3 L256.1,422.8 Z" fill="#222"/><path d="M253.1,439.9 L254.6,443.4 L256.1,439.9 Z" fill="#222"/>
<text x="257.6" y="436.2" font-size="13.6" text-anchor="start" fill="#231f20" font-family='"Liberation Sans", sans-serif' textLength="21.2" lengthAdjust="spacingAndGlyphs">Osc</text>
<path d="M298.9,411.1 L299.2,411.4 L299.8,411.6 L300.7,411.7 L301.8,411.6 L303.3,411.5 L304.9,411.3 L306.1,410.9 L307.2,410.6 L308.9,410.3 L310.3,410.3 L311.2,410.2 L312.2,410.0 L313.6,409.9 L315.1,409.7 L316.5,409.7 L317.8,410.0 L319.0,410.6 L320.2,411.3 L321.5,411.5 L322.7,411.3 L323.7,411.0 L325.0,411.2 L326.0,411.6 L327.0,411.6 L328.7,411.7 L330.0,412.0 L331.0,412.2 L332.0,412.5 L333.2,412.7 L334.6,412.6 L336.0,412.6 L337.4,412.5 L338.7,412.1 L340.0,411.8 L341.4,411.7 L342.8,411.7 L344.2,411.5 L345.7,411.2 L347.0,411.2 L348.3,411.2 L349.5,411.1 L350.7,410.8 L351.7,411.1 L352.3,411.5 L354.0,411.5 L355.8,411.8 L357.6,412.8 L358.5,414.0 L358.7,415.1 L358.8,415.8 L358.9,416.8 L358.5,418.3 L358.2,420.6 L358.7,421.2 L359.5,422.0 L360.0,423.3 L360.6,424.4 L361.2,425.3 L361.8,426.6 L362.7,427.8 L363.4,429.0 L364.0,430.0 L363.8,431.3 L363.3,432.7 L363.3,434.0 L363.6,435.4 L363.8,436.9 L363.8,438.0 L363.8,438.7 L364.4,439.9 L365.5,441.4 L367.0,442.5 L368.3,443.0 L369.3,443.4 L370.5,444.0 L371.8,444.5 L373.3,444.8 L374.4,444.7 L375.6,444.3 L377.0,444.3 L378.6,444.3 L380.0,443.7 L380.8,442.9 L381.7,442.3 L382.5,441.6 L382.8,440.2 L382.8,438.3 L382.8,437.3 L383.4,436.4 L383.9,435.3 L384.3,433.9 L384.5,432.3 L384.8,431.2 L385.2,430.1 L385.4,428.8 L385.1,427.7 L384.7,426.4 L384.9,424.9 L384.7,423.7 L383.7,422.7 L383.1,421.0 L383.1,419.8 L383.2,419.1 L383.6,418.4 L384.3,417.2 L385.3,416.0 L386.7,415.0 L387.7,414.5 L388.8,414.2 L389.9,413.6 L391.4,412.8 L392.6,412.0 L394.6,411.3 L395.4,411.3 L396.0,411.2 L397.0,410.9 L398.5,410.6 L400.1,410.4 L401.1,410.1 L401.9,409.7 L403.4,409.7 L404.8,409.9 L406.2,410.0 L407.4,409.8 L408.5,409.6 L410.0,409.7 L411.5,409.8 L412.5,410.0 L413.8,410.3 L415.0,410.4 L416.0,410.7 L417.1,410.9 L418.1,410.7 L419.5,410.3 L421.2,410.3 L422.8,410.4 L424.2,410.0 L425.2,409.6 L426.1,409.4" fill="none" stroke="#b4b29a" stroke-width="0.55"/>
<path d="M298.3,412.4 L298.0,411.3 L298.7,411.3 L300.1,411.6 L301.9,411.4 L303.4,411.4 L304.3,411.6 L305.3,411.5 L306.9,411.4 L308.4,411.4 L309.7,411.6 L311.0,411.7 L312.5,411.4 L314.1,411.1 L315.7,411.1 L317.1,411.0 L318.1,410.7 L319.0,410.7 L320.3,411.2 L321.9,411.6 L322.9,411.5 L323.7,411.6 L325.4,411.8 L326.8,411.9 L327.7,411.9 L328.9,411.8 L330.2,411.5 L331.8,411.4 L333.2,411.8 L334.1,412.2 L334.9,412.1 L336.0,412.0 L337.2,412.2 L338.8,412.1 L341.1,412.0 L342.8,411.9 L344.0,411.6 L345.1,411.5 L346.2,411.3 L347.4,411.3 L348.5,411.4 L349.5,411.3 L350.5,411.3 L351.4,411.3 L352.2,411.3 L354.2,411.6 L353.9,413.1 L354.3,414.0 L355.2,414.5 L355.7,415.2 L355.7,416.9 L356.0,418.5 L356.6,419.8 L357.4,421.1 L358.2,421.7 L358.5,422.6 L358.6,424.2 L359.1,425.8 L359.8,427.0 L360.3,427.8 L360.7,429.0 L361.4,430.4 L361.8,431.2 L362.1,432.8 L362.1,434.5 L361.9,436.0 L361.4,437.4 L361.5,438.5 L362.3,439.5 L363.2,440.5 L364.1,441.5 L365.5,442.4 L366.4,443.0 L367.2,443.8 L368.4,444.7 L369.8,445.4 L371.6,445.9 L373.2,446.0 L374.6,445.7 L375.7,445.6 L376.8,445.7 L378.4,445.3 L380.0,444.7 L380.9,444.1 L381.4,443.5 L382.1,442.5 L382.6,440.8 L382.9,439.3 L383.6,438.3 L384.2,437.3 L384.5,435.9 L384.9,435.0 L385.3,433.8 L385.6,432.1 L385.8,430.7 L386.2,429.3 L386.6,427.7 L387.3,426.4 L387.9,425.4 L387.9,424.5 L387.8,423.7 L387.8,422.7 L387.7,421.3 L388.1,419.6 L388.7,418.0 L389.3,416.7 L389.8,415.4 L390.0,414.1 L390.5,413.3 L391.7,411.9 L393.0,410.9 L394.6,410.3 L395.2,410.4 L396.6,410.4 L398.0,410.5 L398.8,410.5 L400.0,410.2 L401.6,409.7 L403.3,409.3 L404.8,409.3 L405.9,409.9 L407.2,410.3 L408.9,410.2 L410.1,410.0 L411.1,410.1 L412.4,410.5 L414.3,410.6 L415.9,410.5 L416.9,410.5 L417.9,410.7 L419.2,410.7 L421.1,410.3 L422.3,410.2 L423.5,410.1 L424.6,409.9 L424.6,409.7" fill="none" stroke="#c8c7b1" stroke-width="0.55"/>
<path d="M298.7,410.5 L299.5,411.6 L300.5,411.9 L301.5,411.5 L302.5,411.3 L303.7,411.4 L305.2,411.4 L306.7,411.1 L308.2,410.7 L309.9,410.9 L311.5,411.0 L312.7,410.8 L314.1,410.7 L315.3,410.6 L316.5,410.7 L317.9,410.9 L318.6,410.9 L319.8,410.9 L321.5,411.2 L322.8,411.4 L323.8,411.4 L325.1,411.5 L326.7,411.8 L328.2,411.9 L329.1,411.9 L330.0,412.1 L331.5,412.1 L333.2,411.9 L334.6,411.9 L335.6,412.0 L336.6,411.8 L338.0,411.9 L339.6,412.2 L341.5,412.1 L343.3,411.7 L344.5,411.8 L345.7,411.9 L347.2,411.5 L348.3,411.2 L349.5,411.3 L351.0,411.4 L352.1,411.4 L352.7,411.4 L353.3,411.7 L355.3,412.5 L355.2,414.2 L355.5,415.1 L356.0,416.2 L356.5,417.3 L356.8,418.6 L357.2,420.0 L357.7,421.4 L358.3,422.6 L359.1,423.8 L360.0,425.0 L360.7,425.7 L361.3,426.7 L362.0,428.0 L362.7,429.2 L362.5,430.4 L361.9,431.8 L361.9,433.1 L361.8,434.4 L361.7,435.8 L361.9,437.3 L362.4,438.4 L363.0,439.6 L364.1,440.5 L365.5,441.1 L366.8,441.6 L367.7,442.3 L368.4,443.4 L369.3,444.2 L370.2,444.6 L371.4,445.1 L373.1,445.6 L374.3,445.8 L375.5,445.7 L377.0,445.5 L378.3,445.4 L379.5,445.3 L380.6,444.7 L381.9,444.0 L383.0,443.2 L383.0,442.1 L382.8,440.9 L383.1,439.7 L383.8,438.3 L384.2,437.0 L384.4,435.5 L384.8,434.3 L385.0,433.0 L385.4,431.9 L386.0,430.8 L386.4,429.6 L387.0,428.1 L387.7,426.8 L388.5,425.7 L389.2,424.6 L390.0,423.4 L390.8,422.1 L391.1,421.1 L390.6,419.9 L389.8,418.7 L389.3,417.7 L389.0,416.5 L388.8,415.6 L388.7,414.7 L388.6,413.5 L388.9,412.1 L389.7,411.8 L391.1,411.8 L393.2,411.6 L394.0,411.2 L394.9,410.8 L396.1,411.0 L397.4,411.1 L398.8,410.7 L400.1,410.0 L401.4,410.0 L402.7,410.2 L403.9,410.4 L405.3,410.3 L406.6,410.0 L407.2,409.7 L408.8,409.8 L410.6,410.5 L412.0,410.7 L413.7,410.5 L415.0,410.6 L416.2,410.5 L417.5,410.3 L418.5,410.4 L419.4,410.4 L421.1,410.3 L422.9,410.3 L424.4,409.9 L425.3,409.5 L426.1,409.8" fill="none" stroke="#bdbca4" stroke-width="0.55"/>
<path d="M297.8,411.5 L298.2,412.5 L298.8,412.8 L299.9,412.7 L301.0,412.2 L302.2,411.8 L303.5,412.0 L305.1,412.1 L306.6,411.9 L307.7,411.7 L309.1,411.7 L310.8,411.5 L312.1,411.4 L313.4,411.3 L314.9,411.1 L316.2,411.1 L317.3,411.3 L318.6,411.2 L319.9,411.1 L321.3,411.3 L322.8,411.2 L324.2,410.7 L325.4,410.8 L326.3,410.9 L327.5,410.8 L329.1,411.0 L330.5,411.1 L331.6,411.2 L332.8,411.4 L334.2,411.4 L335.7,411.4 L336.9,411.5 L338.1,411.5 L339.7,411.5 L341.0,411.6 L342.1,411.6 L343.6,411.5 L345.1,411.4 L346.2,411.0 L347.4,411.0 L348.9,411.4 L350.1,411.7 L351.1,412.1 L351.9,412.4 L352.7,412.7 L354.1,413.4 L353.7,414.4 L354.4,414.8 L355.2,415.6 L356.1,416.7 L357.1,418.1 L358.2,419.5 L359.2,420.5 L359.8,421.1 L360.4,421.9 L361.2,422.8 L362.2,423.7 L362.5,424.9 L362.6,426.4 L362.9,427.9 L363.2,429.4 L363.1,430.6 L362.8,432.1 L362.7,433.7 L363.1,434.7 L363.4,435.7 L363.4,437.0 L363.9,438.6 L364.8,439.8 L365.9,440.9 L367.0,441.9 L368.0,443.0 L369.1,443.8 L370.2,444.2 L371.5,444.6 L372.5,444.7 L373.5,444.7 L374.8,444.7 L376.1,444.5 L377.1,444.2 L378.4,443.7 L379.9,442.9 L381.3,442.1 L382.6,441.3 L383.3,440.3 L383.6,439.2 L384.0,438.3 L384.5,437.3 L384.6,436.2 L384.2,434.9 L383.8,433.4 L383.5,432.0 L383.3,430.9 L383.6,429.4 L384.4,427.8 L385.3,426.7 L386.5,426.0 L387.4,425.3 L387.7,424.5 L388.2,423.5 L389.2,421.9 L389.9,420.5 L390.3,418.9 L390.1,417.5 L390.0,416.2 L390.2,414.8 L390.2,413.6 L390.7,412.3 L391.6,411.6 L393.3,411.3 L394.0,411.4 L395.1,411.1 L396.6,410.4 L398.3,410.2 L399.8,410.6 L401.1,410.6 L402.1,410.0 L403.5,409.8 L405.0,410.0 L406.3,409.9 L407.4,409.7 L408.5,410.0 L409.8,410.1 L411.6,410.1 L412.5,410.1 L413.5,410.0 L415.0,410.0 L416.1,410.2 L417.4,410.1 L418.9,409.8 L420.2,409.7 L421.9,409.9 L423.4,410.0 L424.5,409.8 L425.3,409.6 L425.3,409.4" fill="none" stroke="#d2d1bd" stroke-width="0.55"/>
<path d="M297.5,411.2 L298.0,410.4 L298.4,410.6 L299.0,411.1 L300.2,411.8 L302.1,412.0 L304.0,411.6 L305.4,411.1 L306.5,410.9 L307.7,411.0 L309.5,410.9 L310.9,410.7 L312.0,411.0 L313.3,411.4 L314.8,411.2 L316.3,411.2 L317.6,411.2 L318.8,411.1 L319.9,411.1 L321.3,411.3 L322.4,411.5 L323.2,411.6 L324.2,411.3 L325.4,411.4 L327.1,411.8 L328.7,412.1 L329.9,412.2 L330.7,412.0 L331.8,412.2 L333.6,412.4 L335.0,412.4 L336.0,412.2 L337.1,412.4 L338.3,412.6 L339.5,412.6 L341.1,412.5 L343.0,412.2 L344.4,411.9 L345.5,412.0 L346.8,412.1 L348.4,411.9 L349.9,411.6 L350.9,411.7 L351.2,411.9 L351.8,412.0 L352.8,412.1 L354.5,412.9 L354.1,414.2 L354.7,414.3 L355.0,414.8 L354.9,416.1 L355.2,417.5 L355.8,418.6 L356.3,419.9 L356.7,421.4 L357.1,422.7 L357.7,424.0 L358.2,425.1 L359.0,426.1 L359.9,427.6 L360.7,429.2 L361.1,430.5 L361.3,431.3 L361.8,432.6 L362.1,433.9 L362.5,434.7 L362.9,435.4 L363.6,436.6 L364.4,438.0 L365.2,439.0 L366.6,440.1 L367.6,441.5 L367.9,442.5 L368.6,443.1 L369.8,443.9 L371.2,444.6 L372.7,444.8 L374.2,445.1 L375.3,445.5 L376.2,445.4 L377.2,445.4 L378.5,445.2 L379.8,444.2 L381.0,443.3 L381.8,442.5 L381.9,441.3 L381.6,439.9 L381.9,438.4 L382.4,437.3 L382.3,436.3 L382.1,435.1 L382.5,433.6 L383.0,431.8 L383.4,430.1 L383.6,429.2 L383.5,428.1 L383.7,426.6 L384.5,425.6 L385.7,424.8 L386.4,423.8 L386.9,423.3 L387.7,422.4 L388.8,420.9 L389.9,419.6 L390.2,418.4 L390.3,417.1 L390.6,416.0 L391.0,415.0 L391.3,413.7 L391.6,411.4 L393.3,410.3 L394.1,410.3 L395.0,410.3 L395.8,410.0 L396.7,409.9 L398.3,409.8 L400.0,409.6 L401.4,409.6 L402.7,409.6 L404.4,409.4 L405.8,409.4 L406.5,409.6 L407.6,409.9 L409.4,410.1 L411.1,410.2 L412.2,410.5 L413.2,410.7 L414.5,410.6 L415.4,410.5 L416.1,410.4 L417.4,410.9 L419.1,411.3 L420.7,410.9 L422.1,410.5 L423.2,410.0 L424.4,409.8 L426.1,410.3" fill="none" stroke="#aeac94" stroke-width="0.55"/>
<path d="M298.2,412.0 L298.9,411.7 L299.5,411.9 L300.2,411.9 L301.5,411.5 L302.9,411.3 L304.2,410.9 L305.6,410.9 L307.1,411.2 L308.8,411.0 L310.3,411.1 L311.4,411.2 L312.7,411.5 L314.1,411.4 L315.4,410.8 L316.4,410.9 L317.5,411.1 L319.1,411.3 L320.6,411.1 L321.6,411.0 L322.6,411.3 L323.7,411.6 L324.7,411.5 L326.0,411.5 L327.4,411.5 L328.5,411.9 L329.6,411.9 L331.0,411.5 L332.2,411.3 L333.2,411.4 L334.1,411.6 L335.4,411.7 L337.1,411.7 L338.7,412.1 L340.0,412.5 L341.3,412.4 L342.7,411.9 L343.9,411.5 L345.2,411.1 L346.4,411.1 L347.9,411.5 L349.4,411.8 L350.3,411.8 L351.0,412.0 L352.1,412.6 L354.4,413.5 L354.4,414.4 L354.3,415.6 L354.6,416.8 L355.1,419.0 L355.1,420.0 L355.4,421.0 L356.1,421.8 L356.4,422.9 L356.6,424.0 L357.2,425.4 L358.0,427.2 L358.3,428.6 L358.6,429.3 L359.1,430.0 L359.7,431.3 L360.3,432.3 L360.7,433.4 L361.4,434.5 L362.6,435.2 L363.7,436.1 L364.4,437.6 L364.7,439.0 L364.9,439.8 L365.3,440.5 L365.9,441.7 L366.7,442.7 L367.7,443.4 L368.5,444.6 L369.8,445.5 L371.4,445.5 L372.5,445.3 L373.5,445.7 L374.9,446.0 L376.3,445.4 L377.4,444.4 L378.4,443.7 L379.4,443.0 L380.4,442.3 L381.7,441.6 L382.7,441.0 L383.7,440.5 L384.4,439.5 L384.9,438.3 L384.8,437.4 L384.1,436.5 L383.1,435.2 L382.3,433.9 L381.7,432.9 L381.6,431.5 L381.8,430.4 L382.1,429.2 L382.6,428.3 L383.6,427.9 L384.5,427.1 L384.9,425.5 L385.4,424.1 L386.5,423.2 L387.5,422.3 L388.2,421.5 L389.1,420.8 L390.1,419.6 L390.7,418.2 L391.1,417.0 L391.6,415.9 L391.9,415.1 L392.2,414.6 L393.0,413.1 L393.9,411.7 L395.4,410.6 L395.9,410.5 L396.9,410.8 L398.4,410.7 L399.9,410.4 L401.4,410.5 L402.5,410.7 L403.7,410.5 L405.2,410.3 L406.5,410.4 L407.9,410.2 L409.7,410.0 L410.9,410.2 L411.6,410.3 L412.6,410.7 L414.4,411.0 L416.2,410.6 L417.5,410.2 L418.4,410.4 L419.7,410.8 L421.3,411.0 L422.8,410.7 L423.7,410.6 L424.8,410.6 L426.1,410.1 L426.8,409.4" fill="none" stroke="#c4c3ad" stroke-width="0.55"/>
<path d="M363.3,409.6 Q365.8,409.6 365.8,412.6 L365.8,432.75 A7.95,7.95 0 0 0 381.7,432.75 L381.7,412.6 Q381.7,409.6 384.2,409.6 L384.2,409.6 C384.88,409.5 385.78,409.18 388.3,409 C390.82,408.82 396.42,408.8 399.3,408.5 C402.18,408.2 403.92,407.92 405.6,407.2 C407.28,406.48 408.48,405.42 409.4,404.2 C410.32,402.98 410.83,401.45 411.1,399.9 C411.37,398.35 411.25,396.73 411,394.9 C410.75,393.07 410.27,390.82 409.6,388.9 C408.93,386.98 408.05,385.18 407,383.4 C405.95,381.62 404.67,379.77 403.3,378.2 C401.93,376.63 400.47,375.25 398.8,374 C397.13,372.75 395.3,371.62 393.3,370.7 C391.3,369.78 388.72,368.9 386.8,368.5 C384.88,368.1 383.72,368.15 381.8,368.3 C379.88,368.45 377.63,368.75 375.3,369.4 C372.97,370.05 370.22,371.13 367.8,372.2 C365.38,373.27 362.97,374.52 360.8,375.8 C358.63,377.08 356.8,378.53 354.8,379.9 C352.8,381.27 350.72,382.83 348.8,384 C346.88,385.17 345.38,386.08 343.3,386.9 C341.22,387.72 338.63,388.15 336.3,388.9 C333.97,389.65 331.38,390.4 329.3,391.4 C327.22,392.4 325.35,393.65 323.8,394.9 C322.25,396.15 320.97,397.57 320,398.9 C319.03,400.23 318.2,401.65 318,402.9 C317.8,404.15 318.17,405.48 318.8,406.4 C319.43,407.32 320.47,407.9 321.8,408.4 C323.13,408.9 324.3,409.2 326.8,409.4 C329.3,409.6 332.63,409.55 336.8,409.6 C340.97,409.65 347.38,409.7 351.8,409.7 C356.22,409.7 361.38,409.62 363.3,409.6 Z" fill="url(#cg)" stroke="#bac8ec" stroke-width="0.5"/>
<path d="M361.1,392.9 C361.3,392.23 361.52,389.98 362.3,388.9 C363.08,387.82 364.22,387 365.8,386.4 C367.38,385.8 369.63,385.52 371.8,385.3 C373.97,385.08 376.47,385.05 378.8,385.1 C381.13,385.15 383.88,385.25 385.8,385.6 C387.72,385.95 389.22,386.48 390.3,387.2 C391.38,387.92 392.05,388.95 392.3,389.9 C392.55,390.85 392.38,391.93 391.8,392.9 C391.22,393.87 390.13,395.02 388.8,395.7 C387.47,396.38 385.47,396.87 383.8,397 C382.13,397.13 380.22,396.77 378.8,396.5 C377.38,396.23 376.47,395.4 375.3,395.4 C374.13,395.4 373.05,396.22 371.8,396.5 C370.55,396.78 369.13,397.18 367.8,397.1 C366.47,397.02 364.87,396.48 363.8,396 C362.73,395.52 361.85,394.72 361.4,394.2 C360.95,393.68 361.15,393.12 361.1,392.9 Z" fill="#c3cfee"/>
<path d="M392.3,389.9 C392.22,390.4 392.38,391.93 391.8,392.9 C391.22,393.87 390.13,395.02 388.8,395.7 C387.47,396.38 385.47,396.87 383.8,397 C382.13,397.13 380.22,396.77 378.8,396.5 C377.38,396.23 376.47,395.4 375.3,395.4 C374.13,395.4 373.05,396.22 371.8,396.5 C370.55,396.78 369.13,397.18 367.8,397.1 C366.47,397.02 364.87,396.48 363.8,396 C362.73,395.52 361.8,394.5 361.4,394.2" fill="none" stroke="#a2b1d9" stroke-width="0.7" opacity="0.9"/>
<rect x="362.3" y="418.2" width="7.2" height="4.1" rx="1.2" fill="#e99b2c"/><rect x="362.7" y="419.1" width="6.4" height="2.3" fill="#f3c777"/><line x1="362.9" y1="420.25" x2="368.9" y2="420.25" stroke="#e9a646" stroke-width="0.5"/>
<rect x="374.6" y="423.4" width="7.1" height="4" rx="1.2" fill="#e99b2c"/><rect x="375" y="424.28" width="6.3" height="2.24" fill="#f3c777"/><line x1="375.2" y1="425.4" x2="381.1" y2="425.4" stroke="#e9a646" stroke-width="0.5"/>
<rect x="375.15" y="410.65" width="1.7" height="1.7" rx="0.5" fill="#2b3370"/>
<rect x="367.65" y="414.65" width="1.7" height="1.7" rx="0.5" fill="#2b3370"/>
<rect x="374.65" y="419.65" width="1.7" height="1.7" rx="0.5" fill="#2b3370"/>
<rect x="369.15" y="424.65" width="1.7" height="1.7" rx="0.5" fill="#2b3370"/>
<rect x="373.15" y="430.15" width="1.7" height="1.7" rx="0.5" fill="#2b3370"/>
<rect x="371.15" y="435.15" width="1.7" height="1.7" rx="0.5" fill="#2b3370"/>
<line x1="397.7" y1="419.2" x2="397.7" y2="444.8" stroke="#222" stroke-width="0.8"/><path d="M396.2,421.7 L397.7,418.2 L399.2,421.7 Z" fill="#222"/><path d="M396.2,442.3 L397.7,445.8 L399.2,442.3 Z" fill="#222"/>
<text x="400.9" y="436.6" font-size="13.6" text-anchor="start" fill="#231f20" font-family='"Liberation Sans", sans-serif' textLength="36.1" lengthAdjust="spacingAndGlyphs">Stable</text>
<text x="85.7" y="237.9" font-size="13" text-anchor="middle" fill="#231f20" font-family='"Liberation Sans", sans-serif' >(i)</text>
<text x="225.1" y="237.6" font-size="13" text-anchor="middle" fill="#231f20" font-family='"Liberation Sans", sans-serif' >(ii)</text>
<text x="368.7" y="237.7" font-size="13" text-anchor="middle" fill="#231f20" font-family='"Liberation Sans", sans-serif' >(iii)</text>
<circle cx="277.1" cy="229.5" r="1" fill="#2b3370"/>
<text x="287.6" y="234.9" font-family='"Liberation Sans", sans-serif' fill="#231f20" font-size="13">Ca<tspan font-size="10.5" dy="-6.2" dx="0.2">2+</tspan></text>
<rect x="272" y="244.9" width="10.2" height="6.8" rx="1.2" fill="#e99b2c"/><rect x="272.4" y="246.4" width="9.4" height="3.81" fill="#f3c777"/><line x1="272.6" y1="248.3" x2="281.6" y2="248.3" stroke="#e9a646" stroke-width="0.5"/>
<text x="289" y="253.5" font-size="13.8" text-anchor="start" fill="#231f20" font-family='"Liberation Sans", sans-serif' textLength="62.6" lengthAdjust="spacingAndGlyphs">MS channel</text>
<text x="1.8" y="259.8" font-size="12.8" text-anchor="start" fill="#4a7ab5" font-family='"Liberation Sans", sans-serif' textLength="59.5" lengthAdjust="spacingAndGlyphs">MT1-MMP</text>
<text x="24.6" y="368.3" font-size="14.2" text-anchor="start" fill="#bf3a32" font-family='"Liberation Sans", sans-serif' textLength="15.6" lengthAdjust="spacingAndGlyphs">no</text>
<text x="4" y="385.4" font-size="13.1" text-anchor="start" fill="#bf3a32" font-family='"Liberation Sans", sans-serif' textLength="59.8" lengthAdjust="spacingAndGlyphs">MT1-MMP</text>
<rect x="484.5" y="230.4" width="187.5" height="188.9" fill="#e6eef1"/>
<path d="M484.5,230.4 L484.5,276.5 L486.87,277.75 L489.25,279 L491.62,280.25 L493.99,281.5 L496.37,282.75 L498.74,284 L501.11,285.26 L503.49,286.51 L505.86,287.77 L508.23,289.03 L510.61,290.29 L512.98,291.56 L515.35,292.82 L517.73,294.1 L520.1,295.37 L522.47,296.65 L524.85,297.93 L527.22,299.22 L529.59,300.51 L531.97,301.8 L534.34,303.07 L536.72,304.32 L539.09,305.54 L541.46,306.72 L543.84,307.87 L546.21,308.98 L548.58,310.05 L550.96,311.1 L553.33,312.11 L555.7,313.11 L558.08,314.07 L560.45,315.02 L562.82,315.95 L565.2,316.87 L567.57,317.78 L569.94,318.67 L572.32,319.56 L574.69,320.45 L577.06,321.34 L579.44,322.23 L581.81,323.12 L584.18,324.01 L586.56,324.91 L588.93,325.8 L591.3,326.69 L593.68,327.58 L596.05,328.46 L598.42,329.34 L600.8,330.21 L603.17,331.07 L605.54,331.93 L607.92,332.78 L610.29,333.61 L612.66,334.44 L615.04,335.26 L617.41,336.07 L619.78,336.86 L622.16,337.64 L624.53,338.4 L626.91,339.15 L629.28,339.88 L631.65,340.6 L634.03,341.29 L636.4,341.98 L638.77,342.65 L641.15,343.3 L643.52,343.94 L645.89,344.57 L648.27,345.19 L650.64,345.8 L653.01,346.4 L655.39,346.99 L657.76,347.58 L660.13,348.16 L662.51,348.73 L664.88,349.3 L667.25,349.87 L669.63,350.44 L672,351 L672,230.4 Z" fill="#b9d3df"/>
<path d="M484.5,276.5 L486.87,277.75 L489.25,279 L491.62,280.25 L493.99,281.5 L496.37,282.75 L498.74,284 L501.11,285.26 L503.49,286.51 L505.86,287.77 L508.23,289.03 L510.61,290.29 L512.98,291.56 L515.35,292.82 L517.73,294.1 L520.1,295.37 L522.47,296.65 L524.85,297.93 L527.22,299.22 L529.59,300.51 L531.97,301.8 L534.34,303.07 L536.72,304.32 L539.09,305.54 L541.46,306.72 L543.84,307.87 L546.21,308.98 L548.58,310.05 L550.96,311.1 L553.33,312.11 L555.7,313.11 L558.08,314.07 L560.45,315.02 L562.82,315.95 L565.2,316.87 L567.57,317.78 L569.94,318.67 L572.32,319.56 L574.69,320.45 L577.06,321.34 L579.44,322.23 L581.81,323.12 L584.18,324.01 L586.56,324.91 L588.93,325.8 L591.3,326.69 L593.68,327.58 L596.05,328.46 L598.42,329.34 L600.8,330.21 L603.17,331.07 L605.54,331.93 L607.92,332.78 L610.29,333.61 L612.66,334.44 L615.04,335.26 L617.41,336.07 L619.78,336.86 L622.16,337.64 L624.53,338.4 L626.91,339.15 L629.28,339.88 L631.65,340.6 L634.03,341.29 L636.4,341.98 L638.77,342.65 L641.15,343.3 L643.52,343.94 L645.89,344.57 L648.27,345.19 L650.64,345.8 L653.01,346.4 L655.39,346.99 L657.76,347.58 L660.13,348.16 L662.51,348.73 L664.88,349.3 L667.25,349.87 L669.63,350.44 L672,351" fill="none" stroke="#333" stroke-width="0.85"/>
<rect x="484.5" y="230.4" width="187.5" height="188.9" fill="none" stroke="#4d4d4d" stroke-width="1"/>
<line x1="484.5" y1="324.8" x2="487.0" y2="324.8" stroke="#777" stroke-width="0.8"/>
<line x1="578.3" y1="419.3" x2="578.3" y2="416.8" stroke="#777" stroke-width="0.8"/>
<text x="478.2" y="233.4" font-size="10.3" text-anchor="end" fill="#231f20" font-family='"Liberation Sans", sans-serif' >1</text>
<text x="481.4" y="329" font-size="10.3" text-anchor="end" fill="#231f20" font-family='"Liberation Sans", sans-serif' >0.75</text>
<text x="481.4" y="422.8" font-size="10.3" text-anchor="end" fill="#231f20" font-family='"Liberation Sans", sans-serif' >0.5</text>
<text x="484.6" y="434.5" font-size="10.3" text-anchor="middle" fill="#231f20" font-family='"Liberation Sans", sans-serif' >1400</text>
<text x="578.3" y="434.5" font-size="10.3" text-anchor="middle" fill="#231f20" font-family='"Liberation Sans", sans-serif' >1600</text>
<text x="672" y="434.5" font-size="10.3" text-anchor="middle" fill="#231f20" font-family='"Liberation Sans", sans-serif' >1800</text>
<text x="554.5" y="451.2" font-family='"Liberation Sans", sans-serif' fill="#231f20"><tspan font-size="15">1/ k</tspan><tspan font-size="10.8">off</tspan><tspan font-size="13" dx="3.2">(s)</tspan></text>
<text transform="translate(455,341.2) rotate(-90)" font-family='"Liberation Sans", sans-serif' fill="#231f20"><tspan font-size="14.2">ρ</tspan><tspan font-size="9.5" dy="4" dx="-0.6">s</tspan><tspan font-size="15" dy="-4" dx="-0.3">/</tspan><tspan font-size="14.2" dx="-0.3">ρ</tspan><tspan font-size="9.5" dy="4" dx="1.2">0</tspan></text>
<line x1="526.9" y1="269.8" x2="526.9" y2="336.9" stroke="#2a2a2a" stroke-width="1.25"/><path d="M524.0,333.7 L526.9,340.9 L529.8,333.7 L526.9,335.7 Z" fill="#2a2a2a"/>
<line x1="578.4" y1="292.8" x2="578.4" y2="362" stroke="#2a2a2a" stroke-width="1.25"/><path d="M575.5,358.8 L578.4,366 L581.3,358.8 L578.4,360.8 Z" fill="#2a2a2a"/>
<line x1="630.2" y1="313.7" x2="630.2" y2="376.7" stroke="#2a2a2a" stroke-width="1.25"/><path d="M627.3000000000001,373.5 L630.2,380.7 L633.1,373.5 L630.2,375.5 Z" fill="#2a2a2a"/>
<text x="550.9" y="259.6" font-size="15.5" text-anchor="start" fill="#231f20" font-family='"Liberation Serif", serif' >I.</text>
<text x="563" y="259.6" font-size="15.5" text-anchor="start" fill="#231f20" font-family='"Liberation Sans", sans-serif' textLength="91.6" lengthAdjust="spacingAndGlyphs">no oscillation</text>
<text x="510.8" y="356.6" font-size="12.2" text-anchor="start" fill="#231f20" font-family='"Liberation Sans", sans-serif' textLength="59.9" lengthAdjust="spacingAndGlyphs">MT1-MMP</text>
<text x="521.4" y="390" font-size="15.5" text-anchor="start" fill="#231f20" font-family='"Liberation Serif", serif' >II.</text>
<text x="538.7" y="390" font-size="15.5" text-anchor="start" fill="#231f20" font-family='"Liberation Sans", sans-serif' textLength="70" lengthAdjust="spacingAndGlyphs">oscillation</text>
<rect x="606.2" y="216.6" width="11" height="8" rx="1.5" fill="#b9d3df" stroke="#888" stroke-width="0.7"/>
<rect x="642.7" y="216.6" width="11" height="8" rx="1.5" fill="#e6eef1" stroke="#999" stroke-width="0.7"/>
<text x="620.8" y="224.2" font-size="12.4" text-anchor="start" fill="#222" font-family='"Liberation Serif", serif' >I</text>
<text x="657.8" y="224.2" font-size="12.4" text-anchor="start" fill="#222" font-family='"Liberation Serif", serif' >II</text>
</svg>
</body></html>
